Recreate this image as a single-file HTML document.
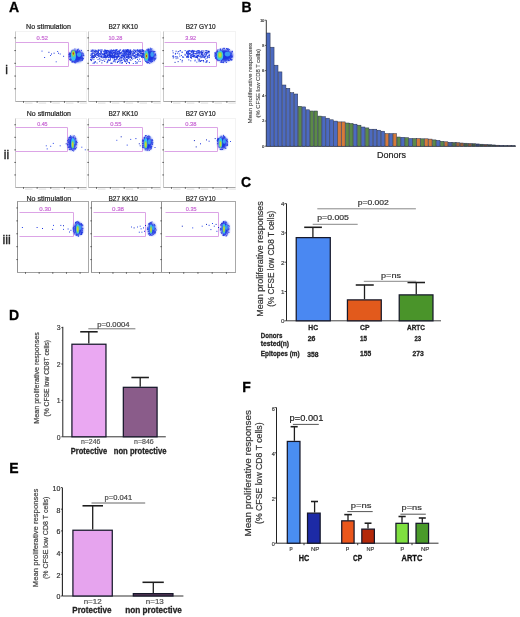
<!DOCTYPE html>
<html><head><meta charset="utf-8"><style>
html,body{margin:0;padding:0;background:#fff;}
svg{display:block;font-family:"Liberation Sans", sans-serif;will-change:transform;}
</style></head><body>
<svg width="520" height="617" viewBox="0 0 520 617">
<defs><filter id="b1" x="-50%" y="-50%" width="200%" height="200%"><feGaussianBlur stdDeviation="0.8"/></filter></defs>
<rect width="520" height="617" fill="#fff"/>
<text x="9.10" y="11.50" font-size="14" font-weight="bold" fill="#000" text-anchor="start" stroke="#000" stroke-width="0.28">A</text>
<text x="241.40" y="11.70" font-size="14" font-weight="bold" fill="#000" text-anchor="start" stroke="#000" stroke-width="0.28">B</text>
<text x="241.10" y="187.20" font-size="14" font-weight="bold" fill="#000" text-anchor="start" stroke="#000" stroke-width="0.28">C</text>
<text x="9.10" y="320.40" font-size="14" font-weight="bold" fill="#000" text-anchor="start" stroke="#000" stroke-width="0.28">D</text>
<text x="9.20" y="472.70" font-size="14" font-weight="bold" fill="#000" text-anchor="start" stroke="#000" stroke-width="0.28">E</text>
<text x="242.30" y="391.70" font-size="14" font-weight="bold" fill="#000" text-anchor="start" stroke="#000" stroke-width="0.28">F</text>
<rect x="15.50" y="31.50" width="71.00" height="70.00" fill="none" stroke="#f3f3f3" stroke-width="1"/>
<line x1="15.50" y1="31.50" x2="15.50" y2="101.50" stroke="#c8c8c8" stroke-width="1"/>
<line x1="15.50" y1="101.50" x2="86.50" y2="101.50" stroke="#a8a8a8" stroke-width="1"/>
<line x1="14.30" y1="88.77" x2="16.00" y2="88.77" stroke="#555" stroke-width="0.9"/>
<line x1="14.30" y1="76.05" x2="16.00" y2="76.05" stroke="#555" stroke-width="0.9"/>
<line x1="14.30" y1="63.32" x2="16.00" y2="63.32" stroke="#555" stroke-width="0.9"/>
<line x1="14.30" y1="50.59" x2="16.00" y2="50.59" stroke="#555" stroke-width="0.9"/>
<line x1="14.30" y1="37.86" x2="16.00" y2="37.86" stroke="#555" stroke-width="0.9"/>
<line x1="23.50" y1="101.00" x2="23.50" y2="102.80" stroke="#555" stroke-width="0.9"/>
<line x1="25.00" y1="103.10" x2="32.50" y2="103.10" stroke="#e2e2e2" stroke-width="1.2"/>
<line x1="37.15" y1="101.00" x2="37.15" y2="102.80" stroke="#555" stroke-width="0.9"/>
<line x1="38.65" y1="103.10" x2="46.15" y2="103.10" stroke="#e2e2e2" stroke-width="1.2"/>
<line x1="50.81" y1="101.00" x2="50.81" y2="102.80" stroke="#555" stroke-width="0.9"/>
<line x1="52.31" y1="103.10" x2="59.81" y2="103.10" stroke="#e2e2e2" stroke-width="1.2"/>
<line x1="64.46" y1="101.00" x2="64.46" y2="102.80" stroke="#555" stroke-width="0.9"/>
<line x1="65.96" y1="103.10" x2="73.46" y2="103.10" stroke="#e2e2e2" stroke-width="1.2"/>
<line x1="78.12" y1="101.00" x2="78.12" y2="102.80" stroke="#555" stroke-width="0.9"/>
<line x1="79.62" y1="103.10" x2="87.12" y2="103.10" stroke="#e2e2e2" stroke-width="1.2"/>
<polyline points="15.5,42.5 68.5,42.5 68.5,66.5 15.5,66.5" fill="none" stroke="#dca4e6" stroke-width="1"/>
<text x="26.00" y="28.80" font-size="7" fill="#222" text-anchor="start" textLength="45.00" lengthAdjust="spacingAndGlyphs" stroke="#222" stroke-width="0.2">No stimulation</text>
<text x="36.60" y="39.90" font-size="5.8" fill="#c868d4" text-anchor="start" textLength="11.30" lengthAdjust="spacingAndGlyphs" stroke="#c868d4" stroke-width="0.2">0.52</text>
<rect x="41.50" y="50.60" width="1" height="1" fill="#2a48ee"/>
<rect x="44.10" y="57.00" width="1" height="1" fill="#2240e6"/>
<rect x="48.40" y="51.80" width="1" height="1" fill="#1228c0"/>
<rect x="51.00" y="53.50" width="1" height="1" fill="#1a30e0"/>
<rect x="53.60" y="52.70" width="1" height="1" fill="#1a30e0"/>
<rect x="57.10" y="51.00" width="1" height="1" fill="#3a55e8"/>
<rect x="58.00" y="52.70" width="1" height="1" fill="#1a30e0"/>
<rect x="59.70" y="53.50" width="1" height="1" fill="#2a48ee"/>
<rect x="55.70" y="61.30" width="1" height="1" fill="#3a55e8"/>
<rect x="63.10" y="55.80" width="1" height="1" fill="#1a30e0"/>
<rect x="50.00" y="55.00" width="1" height="1" fill="#3a55e8"/>
<rect x="77.33" y="61.00" width="1" height="1" fill="#2a3ee0"/>
<rect x="70.44" y="58.43" width="1" height="1" fill="#2a3ee0"/>
<rect x="70.32" y="53.74" width="1" height="1" fill="#2a3ee0"/>
<rect x="68.87" y="52.60" width="1" height="1" fill="#2a3ee0"/>
<rect x="71.16" y="50.65" width="1" height="1" fill="#2a3ee0"/>
<rect x="82.57" y="58.01" width="1" height="1" fill="#2a3ee0"/>
<rect x="82.04" y="57.32" width="1" height="1" fill="#2a3ee0"/>
<rect x="70.24" y="53.50" width="1" height="1" fill="#2a3ee0"/>
<rect x="69.87" y="58.69" width="1" height="1" fill="#2a3ee0"/>
<rect x="69.64" y="52.66" width="1" height="1" fill="#2a3ee0"/>
<rect x="73.48" y="50.33" width="1" height="1" fill="#2a3ee0"/>
<rect x="70.34" y="52.97" width="1" height="1" fill="#2a3ee0"/>
<rect x="82.01" y="59.44" width="1" height="1" fill="#2a3ee0"/>
<rect x="69.41" y="52.87" width="1" height="1" fill="#2a3ee0"/>
<rect x="69.01" y="55.65" width="1" height="1" fill="#2a3ee0"/>
<rect x="77.17" y="49.19" width="1" height="1" fill="#2a3ee0"/>
<rect x="81.89" y="52.63" width="1" height="1" fill="#2a3ee0"/>
<rect x="76.06" y="61.34" width="1" height="1" fill="#2a3ee0"/>
<rect x="77.12" y="49.97" width="1" height="1" fill="#2a3ee0"/>
<rect x="73.85" y="61.64" width="1" height="1" fill="#2a3ee0"/>
<rect x="72.22" y="60.81" width="1" height="1" fill="#2a3ee0"/>
<rect x="71.34" y="51.95" width="1" height="1" fill="#2a3ee0"/>
<rect x="69.80" y="55.07" width="1" height="1" fill="#2a3ee0"/>
<rect x="71.76" y="61.56" width="1" height="1" fill="#2a3ee0"/>
<rect x="69.12" y="58.94" width="1" height="1" fill="#2a3ee0"/>
<rect x="82.23" y="58.58" width="1" height="1" fill="#2a3ee0"/>
<rect x="77.83" y="48.67" width="1" height="1" fill="#2a3ee0"/>
<rect x="72.45" y="60.72" width="1" height="1" fill="#2a3ee0"/>
<rect x="68.50" y="55.65" width="1" height="1" fill="#2a3ee0"/>
<rect x="81.50" y="57.87" width="1" height="1" fill="#2a3ee0"/>
<rect x="75.09" y="62.28" width="1" height="1" fill="#2a3ee0"/>
<rect x="82.78" y="58.24" width="1" height="1" fill="#2a3ee0"/>
<rect x="73.41" y="61.66" width="1" height="1" fill="#2a3ee0"/>
<rect x="73.14" y="49.72" width="1" height="1" fill="#2a3ee0"/>
<rect x="74.40" y="48.50" width="1" height="1" fill="#2a3ee0"/>
<rect x="71.55" y="61.45" width="1" height="1" fill="#2a3ee0"/>
<rect x="71.60" y="60.76" width="1" height="1" fill="#2a3ee0"/>
<rect x="69.66" y="55.73" width="1" height="1" fill="#2a3ee0"/>
<rect x="74.28" y="62.21" width="1" height="1" fill="#2a3ee0"/>
<rect x="69.81" y="59.82" width="1" height="1" fill="#2a3ee0"/>
<rect x="69.78" y="55.63" width="1" height="1" fill="#2a3ee0"/>
<rect x="70.73" y="59.00" width="1" height="1" fill="#2a3ee0"/>
<rect x="80.43" y="60.30" width="1" height="1" fill="#2a3ee0"/>
<rect x="69.03" y="53.38" width="1" height="1" fill="#2a3ee0"/>
<rect x="83.26" y="54.92" width="1" height="1" fill="#2a3ee0"/>
<rect x="71.35" y="59.56" width="1" height="1" fill="#2a3ee0"/>
<rect x="81.37" y="58.38" width="1" height="1" fill="#2a3ee0"/>
<rect x="72.81" y="50.90" width="1" height="1" fill="#2a3ee0"/>
<rect x="79.05" y="50.40" width="1" height="1" fill="#2a3ee0"/>
<rect x="74.77" y="61.15" width="1" height="1" fill="#2a3ee0"/>
<rect x="69.02" y="54.06" width="1" height="1" fill="#2a3ee0"/>
<rect x="73.44" y="60.70" width="1" height="1" fill="#2a3ee0"/>
<rect x="80.93" y="49.88" width="1" height="1" fill="#2a3ee0"/>
<rect x="71.84" y="49.79" width="1" height="1" fill="#2a3ee0"/>
<rect x="68.64" y="57.42" width="1" height="1" fill="#2a3ee0"/>
<rect x="82.96" y="53.47" width="1" height="1" fill="#2a3ee0"/>
<rect x="69.74" y="53.22" width="1" height="1" fill="#2a3ee0"/>
<rect x="70.58" y="59.47" width="1" height="1" fill="#2a3ee0"/>
<rect x="70.91" y="58.93" width="1" height="1" fill="#2a3ee0"/>
<rect x="82.78" y="54.89" width="1" height="1" fill="#2a3ee0"/>
<rect x="81.50" y="59.74" width="1" height="1" fill="#2a3ee0"/>
<rect x="81.65" y="59.46" width="1" height="1" fill="#2a3ee0"/>
<rect x="68.42" y="53.84" width="1" height="1" fill="#2a3ee0"/>
<ellipse cx="76.50" cy="56.00" rx="6.90" ry="6.30" fill="#1d36e2" filter="url(#b1)"/>
<ellipse cx="79.12" cy="54.60" rx="2.25" ry="2.45" fill="#3a9af2"/>
<ellipse cx="73.40" cy="56.00" rx="2.55" ry="4.76" fill="#3cc0f0"/>
<ellipse cx="73.40" cy="53.50" rx="1.80" ry="3.36" fill="#78d868"/>
<ellipse cx="73.40" cy="53.50" rx="1.05" ry="2.10" fill="#d8d030"/>
<ellipse cx="73.40" cy="53.50" rx="0.67" ry="1.19" fill="#c04818"/>
<rect x="88.50" y="31.50" width="72.00" height="70.00" fill="none" stroke="#f3f3f3" stroke-width="1"/>
<line x1="88.50" y1="31.50" x2="88.50" y2="101.50" stroke="#c8c8c8" stroke-width="1"/>
<line x1="88.50" y1="101.50" x2="160.50" y2="101.50" stroke="#a8a8a8" stroke-width="1"/>
<line x1="87.30" y1="88.77" x2="89.00" y2="88.77" stroke="#555" stroke-width="0.9"/>
<line x1="87.30" y1="76.05" x2="89.00" y2="76.05" stroke="#555" stroke-width="0.9"/>
<line x1="87.30" y1="63.32" x2="89.00" y2="63.32" stroke="#555" stroke-width="0.9"/>
<line x1="87.30" y1="50.59" x2="89.00" y2="50.59" stroke="#555" stroke-width="0.9"/>
<line x1="87.30" y1="37.86" x2="89.00" y2="37.86" stroke="#555" stroke-width="0.9"/>
<line x1="96.50" y1="101.00" x2="96.50" y2="102.80" stroke="#555" stroke-width="0.9"/>
<line x1="98.00" y1="103.10" x2="105.50" y2="103.10" stroke="#e2e2e2" stroke-width="1.2"/>
<line x1="110.35" y1="101.00" x2="110.35" y2="102.80" stroke="#555" stroke-width="0.9"/>
<line x1="111.85" y1="103.10" x2="119.35" y2="103.10" stroke="#e2e2e2" stroke-width="1.2"/>
<line x1="124.19" y1="101.00" x2="124.19" y2="102.80" stroke="#555" stroke-width="0.9"/>
<line x1="125.69" y1="103.10" x2="133.19" y2="103.10" stroke="#e2e2e2" stroke-width="1.2"/>
<line x1="138.04" y1="101.00" x2="138.04" y2="102.80" stroke="#555" stroke-width="0.9"/>
<line x1="139.54" y1="103.10" x2="147.04" y2="103.10" stroke="#e2e2e2" stroke-width="1.2"/>
<line x1="151.88" y1="101.00" x2="151.88" y2="102.80" stroke="#555" stroke-width="0.9"/>
<line x1="153.38" y1="103.10" x2="160.88" y2="103.10" stroke="#e2e2e2" stroke-width="1.2"/>
<polyline points="89.5,42.5 142.5,42.5 142.5,65.5 89.5,65.5" fill="none" stroke="#dca4e6" stroke-width="1"/>
<text x="108.50" y="29.00" font-size="7" fill="#222" text-anchor="start" textLength="29.50" lengthAdjust="spacingAndGlyphs" stroke="#222" stroke-width="0.2">B27 KK10</text>
<text x="108.50" y="40.40" font-size="5.8" fill="#c868d4" text-anchor="start" textLength="13.90" lengthAdjust="spacingAndGlyphs" stroke="#c868d4" stroke-width="0.2">10.28</text>
<rect x="122.71" y="50.96" width="1" height="1" fill="#2240e6"/>
<rect x="123.81" y="60.61" width="1" height="1" fill="#2240e6"/>
<rect x="96.15" y="57.12" width="1" height="1" fill="#3a55e8"/>
<rect x="106.62" y="55.30" width="1" height="1" fill="#1a30e0"/>
<rect x="129.66" y="53.43" width="1" height="1" fill="#2240e6"/>
<rect x="109.28" y="56.61" width="1" height="1" fill="#2a48ee"/>
<rect x="105.89" y="50.03" width="1" height="1" fill="#3a55e8"/>
<rect x="118.16" y="59.13" width="1" height="1" fill="#2240e6"/>
<rect x="116.79" y="54.21" width="1" height="1" fill="#2a48ee"/>
<rect x="130.42" y="51.22" width="1" height="1" fill="#1a30e0"/>
<rect x="132.82" y="53.24" width="1" height="1" fill="#3a55e8"/>
<rect x="119.94" y="53.08" width="1" height="1" fill="#2a48ee"/>
<rect x="108.35" y="55.09" width="1" height="1" fill="#1228c0"/>
<rect x="141.94" y="50.12" width="1" height="1" fill="#2a48ee"/>
<rect x="108.00" y="57.18" width="1" height="1" fill="#2240e6"/>
<rect x="90.10" y="59.06" width="1" height="1" fill="#2a48ee"/>
<rect x="134.49" y="52.41" width="1" height="1" fill="#2a48ee"/>
<rect x="100.62" y="59.60" width="1" height="1" fill="#1228c0"/>
<rect x="94.62" y="61.33" width="1" height="1" fill="#2240e6"/>
<rect x="129.62" y="50.57" width="1" height="1" fill="#3a55e8"/>
<rect x="91.47" y="53.02" width="1" height="1" fill="#2a48ee"/>
<rect x="122.60" y="53.09" width="1" height="1" fill="#1228c0"/>
<rect x="98.31" y="49.47" width="1" height="1" fill="#1228c0"/>
<rect x="130.62" y="55.30" width="1" height="1" fill="#1a30e0"/>
<rect x="117.03" y="57.17" width="1" height="1" fill="#2a48ee"/>
<rect x="130.70" y="53.65" width="1" height="1" fill="#2a48ee"/>
<rect x="93.25" y="56.48" width="1" height="1" fill="#1228c0"/>
<rect x="133.44" y="55.92" width="1" height="1" fill="#2a48ee"/>
<rect x="96.97" y="53.38" width="1" height="1" fill="#1228c0"/>
<rect x="106.96" y="55.51" width="1" height="1" fill="#1228c0"/>
<rect x="123.00" y="49.79" width="1" height="1" fill="#2a48ee"/>
<rect x="118.29" y="55.51" width="1" height="1" fill="#1a30e0"/>
<rect x="115.66" y="49.64" width="1" height="1" fill="#2240e6"/>
<rect x="91.49" y="57.38" width="1" height="1" fill="#3a55e8"/>
<rect x="117.23" y="50.90" width="1" height="1" fill="#1228c0"/>
<rect x="133.03" y="51.28" width="1" height="1" fill="#3a55e8"/>
<rect x="136.69" y="62.54" width="1" height="1" fill="#1228c0"/>
<rect x="100.80" y="52.63" width="1" height="1" fill="#2240e6"/>
<rect x="111.48" y="52.73" width="1" height="1" fill="#2a48ee"/>
<rect x="96.52" y="56.82" width="1" height="1" fill="#1a30e0"/>
<rect x="109.52" y="50.40" width="1" height="1" fill="#2240e6"/>
<rect x="121.70" y="56.38" width="1" height="1" fill="#2a48ee"/>
<rect x="101.92" y="57.25" width="1" height="1" fill="#3a55e8"/>
<rect x="112.45" y="50.04" width="1" height="1" fill="#1228c0"/>
<rect x="108.01" y="54.93" width="1" height="1" fill="#3a55e8"/>
<rect x="128.72" y="56.99" width="1" height="1" fill="#1228c0"/>
<rect x="128.37" y="57.50" width="1" height="1" fill="#1a30e0"/>
<rect x="99.68" y="55.86" width="1" height="1" fill="#2a48ee"/>
<rect x="126.03" y="59.44" width="1" height="1" fill="#1228c0"/>
<rect x="125.39" y="51.92" width="1" height="1" fill="#2a48ee"/>
<rect x="105.48" y="58.61" width="1" height="1" fill="#1228c0"/>
<rect x="106.41" y="51.08" width="1" height="1" fill="#3a55e8"/>
<rect x="90.62" y="59.51" width="1" height="1" fill="#2a48ee"/>
<rect x="123.14" y="54.98" width="1" height="1" fill="#1a30e0"/>
<rect x="141.66" y="50.75" width="1" height="1" fill="#2a48ee"/>
<rect x="123.51" y="50.95" width="1" height="1" fill="#1228c0"/>
<rect x="125.83" y="55.73" width="1" height="1" fill="#1a30e0"/>
<rect x="91.97" y="53.35" width="1" height="1" fill="#1a30e0"/>
<rect x="117.41" y="52.88" width="1" height="1" fill="#3a55e8"/>
<rect x="124.65" y="53.67" width="1" height="1" fill="#3a55e8"/>
<rect x="108.56" y="51.02" width="1" height="1" fill="#2a48ee"/>
<rect x="137.01" y="50.42" width="1" height="1" fill="#2a48ee"/>
<rect x="142.33" y="49.41" width="1" height="1" fill="#3a55e8"/>
<rect x="136.90" y="49.74" width="1" height="1" fill="#2a48ee"/>
<rect x="110.30" y="57.07" width="1" height="1" fill="#2a48ee"/>
<rect x="103.10" y="50.78" width="1" height="1" fill="#2240e6"/>
<rect x="109.41" y="57.18" width="1" height="1" fill="#1a30e0"/>
<rect x="112.39" y="58.31" width="1" height="1" fill="#3a55e8"/>
<rect x="124.73" y="54.55" width="1" height="1" fill="#1a30e0"/>
<rect x="94.84" y="50.45" width="1" height="1" fill="#3a55e8"/>
<rect x="129.81" y="54.34" width="1" height="1" fill="#1228c0"/>
<rect x="135.48" y="56.44" width="1" height="1" fill="#1a30e0"/>
<rect x="121.80" y="55.07" width="1" height="1" fill="#2a48ee"/>
<rect x="105.15" y="50.46" width="1" height="1" fill="#2240e6"/>
<rect x="128.11" y="52.73" width="1" height="1" fill="#2240e6"/>
<rect x="116.95" y="61.52" width="1" height="1" fill="#1a30e0"/>
<rect x="133.33" y="54.79" width="1" height="1" fill="#1228c0"/>
<rect x="104.17" y="60.86" width="1" height="1" fill="#1228c0"/>
<rect x="123.96" y="59.26" width="1" height="1" fill="#2a48ee"/>
<rect x="110.39" y="53.55" width="1" height="1" fill="#1228c0"/>
<rect x="114.36" y="56.76" width="1" height="1" fill="#1228c0"/>
<rect x="94.90" y="55.27" width="1" height="1" fill="#1228c0"/>
<rect x="133.13" y="51.18" width="1" height="1" fill="#2a48ee"/>
<rect x="102.30" y="52.98" width="1" height="1" fill="#2a48ee"/>
<rect x="120.72" y="58.72" width="1" height="1" fill="#2240e6"/>
<rect x="100.57" y="51.95" width="1" height="1" fill="#2240e6"/>
<rect x="126.93" y="50.37" width="1" height="1" fill="#3a55e8"/>
<rect x="116.71" y="57.60" width="1" height="1" fill="#3a55e8"/>
<rect x="127.78" y="53.03" width="1" height="1" fill="#1228c0"/>
<rect x="116.24" y="51.79" width="1" height="1" fill="#2a48ee"/>
<rect x="105.44" y="53.35" width="1" height="1" fill="#2240e6"/>
<rect x="142.98" y="56.63" width="1" height="1" fill="#2240e6"/>
<rect x="113.07" y="55.28" width="1" height="1" fill="#2a48ee"/>
<rect x="113.23" y="51.54" width="1" height="1" fill="#1a30e0"/>
<rect x="129.60" y="59.36" width="1" height="1" fill="#1228c0"/>
<rect x="126.33" y="55.12" width="1" height="1" fill="#1a30e0"/>
<rect x="110.05" y="51.95" width="1" height="1" fill="#3a55e8"/>
<rect x="103.33" y="56.82" width="1" height="1" fill="#1a30e0"/>
<rect x="129.44" y="49.82" width="1" height="1" fill="#3a55e8"/>
<rect x="136.37" y="56.70" width="1" height="1" fill="#2240e6"/>
<rect x="135.53" y="49.71" width="1" height="1" fill="#3a55e8"/>
<rect x="123.84" y="57.07" width="1" height="1" fill="#1228c0"/>
<rect x="106.82" y="55.58" width="1" height="1" fill="#1228c0"/>
<rect x="91.55" y="52.50" width="1" height="1" fill="#2240e6"/>
<rect x="119.54" y="49.94" width="1" height="1" fill="#3a55e8"/>
<rect x="111.90" y="50.41" width="1" height="1" fill="#2a48ee"/>
<rect x="114.62" y="60.30" width="1" height="1" fill="#2240e6"/>
<rect x="105.02" y="55.21" width="1" height="1" fill="#2240e6"/>
<rect x="111.65" y="53.17" width="1" height="1" fill="#2240e6"/>
<rect x="96.38" y="49.90" width="1" height="1" fill="#2240e6"/>
<rect x="133.27" y="52.92" width="1" height="1" fill="#3a55e8"/>
<rect x="107.89" y="53.68" width="1" height="1" fill="#1a30e0"/>
<rect x="119.63" y="52.25" width="1" height="1" fill="#2a48ee"/>
<rect x="100.77" y="56.26" width="1" height="1" fill="#1a30e0"/>
<rect x="129.75" y="51.46" width="1" height="1" fill="#1228c0"/>
<rect x="116.55" y="52.18" width="1" height="1" fill="#2a48ee"/>
<rect x="128.11" y="56.09" width="1" height="1" fill="#2240e6"/>
<rect x="110.50" y="52.75" width="1" height="1" fill="#1228c0"/>
<rect x="133.40" y="57.76" width="1" height="1" fill="#3a55e8"/>
<rect x="130.70" y="57.05" width="1" height="1" fill="#2a48ee"/>
<rect x="93.90" y="62.57" width="1" height="1" fill="#1a30e0"/>
<rect x="107.26" y="55.56" width="1" height="1" fill="#3a55e8"/>
<rect x="141.80" y="55.90" width="1" height="1" fill="#3a55e8"/>
<rect x="135.12" y="57.51" width="1" height="1" fill="#3a55e8"/>
<rect x="123.02" y="53.86" width="1" height="1" fill="#2a48ee"/>
<rect x="141.30" y="53.53" width="1" height="1" fill="#3a55e8"/>
<rect x="130.71" y="51.70" width="1" height="1" fill="#2240e6"/>
<rect x="118.05" y="55.62" width="1" height="1" fill="#2240e6"/>
<rect x="143.11" y="51.83" width="1" height="1" fill="#2a48ee"/>
<rect x="114.53" y="53.68" width="1" height="1" fill="#1a30e0"/>
<rect x="124.63" y="50.85" width="1" height="1" fill="#2a48ee"/>
<rect x="124.49" y="51.12" width="1" height="1" fill="#3a55e8"/>
<rect x="109.73" y="54.87" width="1" height="1" fill="#1a30e0"/>
<rect x="126.66" y="49.35" width="1" height="1" fill="#2a48ee"/>
<rect x="93.59" y="50.90" width="1" height="1" fill="#1a30e0"/>
<rect x="100.34" y="51.42" width="1" height="1" fill="#3a55e8"/>
<rect x="95.81" y="54.18" width="1" height="1" fill="#1a30e0"/>
<rect x="115.85" y="57.34" width="1" height="1" fill="#1a30e0"/>
<rect x="139.14" y="49.49" width="1" height="1" fill="#2a48ee"/>
<rect x="112.14" y="50.77" width="1" height="1" fill="#2240e6"/>
<rect x="107.64" y="50.21" width="1" height="1" fill="#1a30e0"/>
<rect x="100.16" y="53.50" width="1" height="1" fill="#1228c0"/>
<rect x="106.62" y="56.01" width="1" height="1" fill="#2240e6"/>
<rect x="114.77" y="49.93" width="1" height="1" fill="#1228c0"/>
<rect x="137.18" y="55.37" width="1" height="1" fill="#2a48ee"/>
<rect x="122.75" y="55.73" width="1" height="1" fill="#3a55e8"/>
<rect x="100.43" y="52.87" width="1" height="1" fill="#1a30e0"/>
<rect x="120.51" y="54.35" width="1" height="1" fill="#1228c0"/>
<rect x="111.57" y="53.01" width="1" height="1" fill="#3a55e8"/>
<rect x="93.30" y="49.80" width="1" height="1" fill="#3a55e8"/>
<rect x="123.90" y="56.93" width="1" height="1" fill="#3a55e8"/>
<rect x="126.75" y="58.78" width="1" height="1" fill="#1a30e0"/>
<rect x="126.13" y="56.87" width="1" height="1" fill="#1a30e0"/>
<rect x="95.72" y="53.03" width="1" height="1" fill="#3a55e8"/>
<rect x="116.90" y="61.89" width="1" height="1" fill="#1228c0"/>
<rect x="90.46" y="58.82" width="1" height="1" fill="#1a30e0"/>
<rect x="98.07" y="56.19" width="1" height="1" fill="#1228c0"/>
<rect x="131.78" y="53.40" width="1" height="1" fill="#2240e6"/>
<rect x="98.52" y="54.50" width="1" height="1" fill="#2a48ee"/>
<rect x="105.02" y="52.71" width="1" height="1" fill="#2a48ee"/>
<rect x="123.29" y="52.67" width="1" height="1" fill="#2a48ee"/>
<rect x="141.81" y="50.36" width="1" height="1" fill="#3a55e8"/>
<rect x="137.50" y="53.61" width="1" height="1" fill="#3a55e8"/>
<rect x="110.49" y="51.65" width="1" height="1" fill="#2240e6"/>
<rect x="109.59" y="52.82" width="1" height="1" fill="#2240e6"/>
<rect x="110.05" y="58.13" width="1" height="1" fill="#3a55e8"/>
<rect x="115.99" y="54.50" width="1" height="1" fill="#2240e6"/>
<rect x="115.55" y="56.36" width="1" height="1" fill="#2a48ee"/>
<rect x="119.81" y="58.40" width="1" height="1" fill="#3a55e8"/>
<rect x="134.13" y="49.90" width="1" height="1" fill="#3a55e8"/>
<rect x="99.47" y="55.50" width="1" height="1" fill="#1a30e0"/>
<rect x="90.34" y="54.98" width="1" height="1" fill="#2240e6"/>
<rect x="92.00" y="49.65" width="1" height="1" fill="#2240e6"/>
<rect x="92.04" y="56.61" width="1" height="1" fill="#1a30e0"/>
<rect x="133.64" y="52.27" width="1" height="1" fill="#3a55e8"/>
<rect x="94.15" y="53.27" width="1" height="1" fill="#2a48ee"/>
<rect x="117.95" y="54.61" width="1" height="1" fill="#1228c0"/>
<rect x="124.81" y="51.47" width="1" height="1" fill="#2a48ee"/>
<rect x="125.59" y="49.71" width="1" height="1" fill="#1a30e0"/>
<rect x="137.10" y="49.45" width="1" height="1" fill="#2a48ee"/>
<rect x="132.76" y="52.43" width="1" height="1" fill="#1a30e0"/>
<rect x="105.53" y="50.55" width="1" height="1" fill="#3a55e8"/>
<rect x="104.45" y="55.48" width="1" height="1" fill="#1a30e0"/>
<rect x="97.60" y="52.47" width="1" height="1" fill="#1228c0"/>
<rect x="139.42" y="50.67" width="1" height="1" fill="#1228c0"/>
<rect x="98.62" y="49.84" width="1" height="1" fill="#3a55e8"/>
<rect x="130.16" y="55.74" width="1" height="1" fill="#3a55e8"/>
<rect x="134.63" y="56.60" width="1" height="1" fill="#1228c0"/>
<rect x="122.39" y="49.99" width="1" height="1" fill="#2240e6"/>
<rect x="126.68" y="60.84" width="1" height="1" fill="#1a30e0"/>
<rect x="123.10" y="50.87" width="1" height="1" fill="#2a48ee"/>
<rect x="113.06" y="56.81" width="1" height="1" fill="#3a55e8"/>
<rect x="127.75" y="61.89" width="1" height="1" fill="#2a48ee"/>
<rect x="134.90" y="54.64" width="1" height="1" fill="#2a48ee"/>
<rect x="110.78" y="56.09" width="1" height="1" fill="#1a30e0"/>
<rect x="124.59" y="51.29" width="1" height="1" fill="#1228c0"/>
<rect x="130.61" y="50.73" width="1" height="1" fill="#3a55e8"/>
<rect x="114.80" y="54.25" width="1" height="1" fill="#2240e6"/>
<rect x="113.04" y="52.50" width="1" height="1" fill="#1228c0"/>
<rect x="109.47" y="53.33" width="1" height="1" fill="#1228c0"/>
<rect x="92.17" y="56.68" width="1" height="1" fill="#3a55e8"/>
<rect x="128.40" y="55.32" width="1" height="1" fill="#1228c0"/>
<rect x="120.20" y="49.51" width="1" height="1" fill="#2240e6"/>
<rect x="126.91" y="50.35" width="1" height="1" fill="#2a48ee"/>
<rect x="105.34" y="55.66" width="1" height="1" fill="#3a55e8"/>
<rect x="128.43" y="55.96" width="1" height="1" fill="#2240e6"/>
<rect x="103.44" y="54.21" width="1" height="1" fill="#1a30e0"/>
<rect x="114.33" y="57.01" width="1" height="1" fill="#1228c0"/>
<rect x="121.55" y="51.20" width="1" height="1" fill="#2240e6"/>
<rect x="112.18" y="54.39" width="1" height="1" fill="#2a48ee"/>
<rect x="110.09" y="51.41" width="1" height="1" fill="#2240e6"/>
<rect x="92.59" y="62.80" width="1" height="1" fill="#1a30e0"/>
<rect x="118.00" y="56.47" width="1" height="1" fill="#3a55e8"/>
<rect x="135.66" y="52.27" width="1" height="1" fill="#1a30e0"/>
<rect x="109.44" y="51.95" width="1" height="1" fill="#1228c0"/>
<rect x="122.80" y="58.78" width="1" height="1" fill="#2240e6"/>
<rect x="106.53" y="62.22" width="1" height="1" fill="#2240e6"/>
<rect x="111.15" y="55.28" width="1" height="1" fill="#2a48ee"/>
<rect x="116.68" y="52.21" width="1" height="1" fill="#2240e6"/>
<rect x="122.65" y="49.74" width="1" height="1" fill="#3a55e8"/>
<rect x="106.19" y="53.57" width="1" height="1" fill="#2a48ee"/>
<rect x="106.05" y="52.23" width="1" height="1" fill="#1a30e0"/>
<rect x="98.45" y="55.71" width="1" height="1" fill="#3a55e8"/>
<rect x="114.03" y="50.46" width="1" height="1" fill="#1a30e0"/>
<rect x="125.98" y="57.04" width="1" height="1" fill="#1a30e0"/>
<rect x="137.58" y="53.93" width="1" height="1" fill="#2a48ee"/>
<rect x="104.72" y="50.62" width="1" height="1" fill="#2240e6"/>
<rect x="91.34" y="50.57" width="1" height="1" fill="#1228c0"/>
<rect x="114.57" y="54.55" width="1" height="1" fill="#1a30e0"/>
<rect x="117.62" y="54.48" width="1" height="1" fill="#3a55e8"/>
<rect x="122.68" y="49.81" width="1" height="1" fill="#2a48ee"/>
<rect x="142.98" y="53.12" width="1" height="1" fill="#3a55e8"/>
<rect x="121.35" y="56.60" width="1" height="1" fill="#2a48ee"/>
<rect x="99.35" y="58.57" width="1" height="1" fill="#2240e6"/>
<rect x="96.57" y="62.55" width="1" height="1" fill="#3a55e8"/>
<rect x="104.03" y="54.39" width="1" height="1" fill="#2a48ee"/>
<rect x="129.00" y="62.83" width="1" height="1" fill="#2a48ee"/>
<rect x="128.33" y="53.36" width="1" height="1" fill="#2a48ee"/>
<rect x="134.86" y="50.57" width="1" height="1" fill="#1a30e0"/>
<rect x="100.23" y="54.11" width="1" height="1" fill="#1a30e0"/>
<rect x="135.41" y="62.89" width="1" height="1" fill="#2240e6"/>
<rect x="103.74" y="53.54" width="1" height="1" fill="#2a48ee"/>
<rect x="140.94" y="56.38" width="1" height="1" fill="#1228c0"/>
<rect x="103.92" y="53.82" width="1" height="1" fill="#1a30e0"/>
<rect x="95.96" y="50.59" width="1" height="1" fill="#1228c0"/>
<rect x="127.35" y="50.41" width="1" height="1" fill="#1a30e0"/>
<rect x="92.27" y="49.67" width="1" height="1" fill="#2a48ee"/>
<rect x="130.60" y="56.94" width="1" height="1" fill="#1a30e0"/>
<rect x="125.40" y="61.53" width="1" height="1" fill="#2240e6"/>
<rect x="129.58" y="50.93" width="1" height="1" fill="#2a48ee"/>
<rect x="138.56" y="50.00" width="1" height="1" fill="#1228c0"/>
<rect x="123.70" y="50.36" width="1" height="1" fill="#1228c0"/>
<rect x="112.83" y="51.99" width="1" height="1" fill="#1a30e0"/>
<rect x="139.57" y="55.38" width="1" height="1" fill="#2a48ee"/>
<rect x="123.88" y="53.11" width="1" height="1" fill="#2a48ee"/>
<rect x="116.13" y="53.45" width="1" height="1" fill="#1228c0"/>
<rect x="92.56" y="55.02" width="1" height="1" fill="#2240e6"/>
<rect x="120.62" y="52.79" width="1" height="1" fill="#1a30e0"/>
<rect x="105.37" y="49.73" width="1" height="1" fill="#3a55e8"/>
<rect x="95.10" y="55.90" width="1" height="1" fill="#3a55e8"/>
<rect x="121.58" y="60.09" width="1" height="1" fill="#2a48ee"/>
<rect x="107.64" y="56.81" width="1" height="1" fill="#3a55e8"/>
<rect x="140.03" y="53.22" width="1" height="1" fill="#1228c0"/>
<rect x="129.00" y="51.91" width="1" height="1" fill="#2240e6"/>
<rect x="137.54" y="52.68" width="1" height="1" fill="#2a48ee"/>
<rect x="109.82" y="52.72" width="1" height="1" fill="#2a48ee"/>
<rect x="99.12" y="60.78" width="1" height="1" fill="#1a30e0"/>
<rect x="96.76" y="54.81" width="1" height="1" fill="#2240e6"/>
<rect x="91.81" y="53.47" width="1" height="1" fill="#2a48ee"/>
<rect x="114.00" y="51.89" width="1" height="1" fill="#3a55e8"/>
<rect x="126.73" y="51.15" width="1" height="1" fill="#1228c0"/>
<rect x="124.13" y="53.36" width="1" height="1" fill="#1228c0"/>
<rect x="134.05" y="55.09" width="1" height="1" fill="#2240e6"/>
<rect x="129.76" y="52.09" width="1" height="1" fill="#1228c0"/>
<rect x="121.42" y="62.97" width="1" height="1" fill="#2240e6"/>
<rect x="100.42" y="50.49" width="1" height="1" fill="#2240e6"/>
<rect x="105.85" y="50.17" width="1" height="1" fill="#1a30e0"/>
<rect x="126.92" y="59.78" width="1" height="1" fill="#1a30e0"/>
<rect x="103.62" y="57.15" width="1" height="1" fill="#2240e6"/>
<rect x="126.88" y="49.34" width="1" height="1" fill="#3a55e8"/>
<rect x="127.37" y="54.48" width="1" height="1" fill="#3a55e8"/>
<rect x="125.60" y="56.32" width="1" height="1" fill="#1228c0"/>
<rect x="115.11" y="50.75" width="1" height="1" fill="#1a30e0"/>
<rect x="114.20" y="56.46" width="1" height="1" fill="#1a30e0"/>
<rect x="127.98" y="56.10" width="1" height="1" fill="#1a30e0"/>
<rect x="91.05" y="60.11" width="1" height="1" fill="#1228c0"/>
<rect x="126.29" y="58.97" width="1" height="1" fill="#1a30e0"/>
<rect x="123.05" y="51.31" width="1" height="1" fill="#2240e6"/>
<rect x="140.71" y="52.09" width="1" height="1" fill="#3a55e8"/>
<rect x="125.19" y="53.11" width="1" height="1" fill="#3a55e8"/>
<rect x="109.72" y="55.24" width="1" height="1" fill="#1a30e0"/>
<rect x="142.78" y="53.41" width="1" height="1" fill="#2a48ee"/>
<rect x="113.69" y="54.40" width="1" height="1" fill="#2a48ee"/>
<rect x="93.28" y="56.62" width="1" height="1" fill="#3a55e8"/>
<rect x="125.97" y="50.17" width="1" height="1" fill="#3a55e8"/>
<rect x="111.35" y="62.83" width="1" height="1" fill="#1228c0"/>
<rect x="141.21" y="50.62" width="1" height="1" fill="#1228c0"/>
<rect x="93.67" y="50.85" width="1" height="1" fill="#2240e6"/>
<rect x="128.41" y="50.47" width="1" height="1" fill="#1a30e0"/>
<rect x="134.28" y="52.61" width="1" height="1" fill="#2240e6"/>
<rect x="130.50" y="55.54" width="1" height="1" fill="#2240e6"/>
<rect x="131.77" y="54.93" width="1" height="1" fill="#2a48ee"/>
<rect x="142.39" y="53.15" width="1" height="1" fill="#1228c0"/>
<rect x="132.58" y="54.54" width="1" height="1" fill="#1a30e0"/>
<rect x="115.85" y="49.98" width="1" height="1" fill="#1a30e0"/>
<rect x="118.81" y="52.38" width="1" height="1" fill="#3a55e8"/>
<rect x="107.31" y="60.18" width="1" height="1" fill="#2240e6"/>
<rect x="111.20" y="50.98" width="1" height="1" fill="#2240e6"/>
<rect x="115.65" y="56.13" width="1" height="1" fill="#1228c0"/>
<rect x="131.83" y="52.52" width="1" height="1" fill="#1228c0"/>
<rect x="128.25" y="57.12" width="1" height="1" fill="#3a55e8"/>
<rect x="119.24" y="51.68" width="1" height="1" fill="#3a55e8"/>
<rect x="101.36" y="56.01" width="1" height="1" fill="#1228c0"/>
<rect x="96.24" y="52.65" width="1" height="1" fill="#1a30e0"/>
<rect x="115.22" y="53.17" width="1" height="1" fill="#3a55e8"/>
<rect x="127.33" y="50.62" width="1" height="1" fill="#1a30e0"/>
<rect x="129.15" y="51.87" width="1" height="1" fill="#1228c0"/>
<rect x="116.52" y="53.03" width="1" height="1" fill="#2240e6"/>
<rect x="143.30" y="50.74" width="1" height="1" fill="#1228c0"/>
<rect x="124.46" y="49.67" width="1" height="1" fill="#2240e6"/>
<rect x="143.25" y="50.05" width="1" height="1" fill="#1228c0"/>
<rect x="130.36" y="51.01" width="1" height="1" fill="#1228c0"/>
<rect x="96.76" y="54.57" width="1" height="1" fill="#3a55e8"/>
<rect x="112.57" y="56.60" width="1" height="1" fill="#2240e6"/>
<rect x="103.41" y="51.61" width="1" height="1" fill="#1a30e0"/>
<rect x="116.32" y="57.17" width="1" height="1" fill="#1228c0"/>
<rect x="108.38" y="53.24" width="1" height="1" fill="#3a55e8"/>
<rect x="130.90" y="57.08" width="1" height="1" fill="#1228c0"/>
<rect x="111.26" y="52.55" width="1" height="1" fill="#1a30e0"/>
<rect x="111.24" y="49.67" width="1" height="1" fill="#2240e6"/>
<rect x="115.32" y="49.78" width="1" height="1" fill="#2240e6"/>
<rect x="118.98" y="50.48" width="1" height="1" fill="#1a30e0"/>
<rect x="120.74" y="57.50" width="1" height="1" fill="#1228c0"/>
<rect x="123.33" y="54.61" width="1" height="1" fill="#3a55e8"/>
<rect x="127.41" y="56.74" width="1" height="1" fill="#2240e6"/>
<rect x="97.39" y="54.98" width="1" height="1" fill="#1a30e0"/>
<rect x="99.85" y="49.46" width="1" height="1" fill="#2240e6"/>
<rect x="120.82" y="59.99" width="1" height="1" fill="#1a30e0"/>
<rect x="133.96" y="52.67" width="1" height="1" fill="#2240e6"/>
<rect x="111.57" y="54.74" width="1" height="1" fill="#1a30e0"/>
<rect x="142.93" y="50.54" width="1" height="1" fill="#1a30e0"/>
<rect x="119.25" y="53.08" width="1" height="1" fill="#1228c0"/>
<rect x="123.41" y="49.37" width="1" height="1" fill="#1a30e0"/>
<rect x="116.23" y="58.31" width="1" height="1" fill="#1228c0"/>
<rect x="104.68" y="52.91" width="1" height="1" fill="#2240e6"/>
<rect x="139.19" y="55.28" width="1" height="1" fill="#2240e6"/>
<rect x="97.72" y="51.65" width="1" height="1" fill="#1a30e0"/>
<rect x="116.55" y="56.42" width="1" height="1" fill="#3a55e8"/>
<rect x="92.81" y="49.78" width="1" height="1" fill="#3a55e8"/>
<rect x="126.60" y="52.41" width="1" height="1" fill="#1228c0"/>
<rect x="121.99" y="62.01" width="1" height="1" fill="#2a48ee"/>
<rect x="106.86" y="61.37" width="1" height="1" fill="#1a30e0"/>
<rect x="98.87" y="57.70" width="1" height="1" fill="#2240e6"/>
<rect x="98.74" y="53.12" width="1" height="1" fill="#1228c0"/>
<rect x="114.13" y="55.34" width="1" height="1" fill="#1a30e0"/>
<rect x="104.92" y="54.51" width="1" height="1" fill="#1228c0"/>
<rect x="107.23" y="61.35" width="1" height="1" fill="#1a30e0"/>
<rect x="113.85" y="57.11" width="1" height="1" fill="#1a30e0"/>
<rect x="110.05" y="51.17" width="1" height="1" fill="#2240e6"/>
<rect x="128.78" y="51.44" width="1" height="1" fill="#2240e6"/>
<rect x="127.94" y="51.61" width="1" height="1" fill="#3a55e8"/>
<rect x="142.92" y="57.10" width="1" height="1" fill="#2240e6"/>
<rect x="119.20" y="53.30" width="1" height="1" fill="#3a55e8"/>
<rect x="118.78" y="52.35" width="1" height="1" fill="#3a55e8"/>
<rect x="114.07" y="58.86" width="1" height="1" fill="#2a48ee"/>
<rect x="113.78" y="60.52" width="1" height="1" fill="#1a30e0"/>
<rect x="114.15" y="52.14" width="1" height="1" fill="#3a55e8"/>
<rect x="117.77" y="55.97" width="1" height="1" fill="#1228c0"/>
<rect x="125.56" y="51.00" width="1" height="1" fill="#1a30e0"/>
<rect x="105.45" y="52.17" width="1" height="1" fill="#1a30e0"/>
<rect x="135.68" y="56.68" width="1" height="1" fill="#1a30e0"/>
<rect x="111.84" y="53.01" width="1" height="1" fill="#3a55e8"/>
<rect x="108.73" y="54.16" width="1" height="1" fill="#1a30e0"/>
<rect x="128.91" y="53.99" width="1" height="1" fill="#3a55e8"/>
<rect x="104.91" y="52.87" width="1" height="1" fill="#3a55e8"/>
<rect x="122.44" y="56.05" width="1" height="1" fill="#3a55e8"/>
<rect x="113.35" y="49.52" width="1" height="1" fill="#3a55e8"/>
<rect x="127.61" y="56.06" width="1" height="1" fill="#3a55e8"/>
<rect x="136.00" y="56.68" width="1" height="1" fill="#3a55e8"/>
<rect x="128.78" y="51.17" width="1" height="1" fill="#1a30e0"/>
<rect x="117.00" y="56.10" width="1" height="1" fill="#1a30e0"/>
<rect x="102.53" y="50.68" width="1" height="1" fill="#3a55e8"/>
<rect x="128.74" y="53.72" width="1" height="1" fill="#3a55e8"/>
<rect x="103.75" y="55.22" width="1" height="1" fill="#2a48ee"/>
<rect x="108.57" y="51.84" width="1" height="1" fill="#1228c0"/>
<rect x="129.88" y="52.83" width="1" height="1" fill="#1228c0"/>
<rect x="115.09" y="52.42" width="1" height="1" fill="#1a30e0"/>
<rect x="110.24" y="55.76" width="1" height="1" fill="#3a55e8"/>
<rect x="137.55" y="56.60" width="1" height="1" fill="#2240e6"/>
<rect x="98.37" y="49.92" width="1" height="1" fill="#1a30e0"/>
<rect x="109.89" y="55.53" width="1" height="1" fill="#2240e6"/>
<rect x="130.22" y="49.47" width="1" height="1" fill="#3a55e8"/>
<rect x="107.19" y="50.22" width="1" height="1" fill="#1228c0"/>
<rect x="107.69" y="50.74" width="1" height="1" fill="#2240e6"/>
<rect x="137.40" y="50.50" width="1" height="1" fill="#1a30e0"/>
<rect x="125.52" y="53.87" width="1" height="1" fill="#2240e6"/>
<rect x="103.89" y="52.95" width="1" height="1" fill="#1228c0"/>
<rect x="98.17" y="54.35" width="1" height="1" fill="#1a30e0"/>
<rect x="124.14" y="55.98" width="1" height="1" fill="#3a55e8"/>
<rect x="109.67" y="51.39" width="1" height="1" fill="#1a30e0"/>
<rect x="110.79" y="50.60" width="1" height="1" fill="#3a55e8"/>
<rect x="142.16" y="54.42" width="1" height="1" fill="#3a55e8"/>
<rect x="117.07" y="52.84" width="1" height="1" fill="#2a48ee"/>
<rect x="114.45" y="52.18" width="1" height="1" fill="#1a30e0"/>
<rect x="104.76" y="56.05" width="1" height="1" fill="#1a30e0"/>
<rect x="102.28" y="54.11" width="1" height="1" fill="#2240e6"/>
<rect x="106.84" y="55.39" width="1" height="1" fill="#1a30e0"/>
<rect x="125.71" y="50.84" width="1" height="1" fill="#1a30e0"/>
<rect x="90.53" y="53.46" width="1" height="1" fill="#2a48ee"/>
<rect x="120.90" y="52.08" width="1" height="1" fill="#2a48ee"/>
<rect x="140.40" y="52.58" width="1" height="1" fill="#2a48ee"/>
<rect x="97.10" y="51.29" width="1" height="1" fill="#2a48ee"/>
<rect x="142.54" y="54.92" width="1" height="1" fill="#2a48ee"/>
<rect x="135.74" y="56.76" width="1" height="1" fill="#2240e6"/>
<rect x="93.80" y="51.26" width="1" height="1" fill="#1228c0"/>
<rect x="138.64" y="56.24" width="1" height="1" fill="#3a55e8"/>
<rect x="137.87" y="50.16" width="1" height="1" fill="#3a55e8"/>
<rect x="109.82" y="55.74" width="1" height="1" fill="#2a48ee"/>
<rect x="94.72" y="50.64" width="1" height="1" fill="#2240e6"/>
<rect x="119.60" y="57.12" width="1" height="1" fill="#1a30e0"/>
<rect x="129.38" y="56.00" width="1" height="1" fill="#1a30e0"/>
<rect x="114.73" y="52.85" width="1" height="1" fill="#1a30e0"/>
<rect x="95.01" y="51.48" width="1" height="1" fill="#1a30e0"/>
<rect x="127.76" y="50.18" width="1" height="1" fill="#1a30e0"/>
<rect x="118.87" y="51.12" width="1" height="1" fill="#3a55e8"/>
<rect x="120.78" y="56.89" width="1" height="1" fill="#2240e6"/>
<rect x="130.17" y="54.12" width="1" height="1" fill="#3a55e8"/>
<rect x="92.77" y="52.51" width="1" height="1" fill="#1228c0"/>
<rect x="128.14" y="53.82" width="1" height="1" fill="#1228c0"/>
<rect x="107.09" y="53.79" width="1" height="1" fill="#1228c0"/>
<rect x="97.82" y="52.13" width="1" height="1" fill="#3a55e8"/>
<rect x="112.08" y="50.17" width="1" height="1" fill="#3a55e8"/>
<rect x="100.70" y="51.10" width="1" height="1" fill="#2240e6"/>
<rect x="130.45" y="59.72" width="1" height="1" fill="#1a30e0"/>
<rect x="141.88" y="56.22" width="1" height="1" fill="#1a30e0"/>
<rect x="138.93" y="54.33" width="1" height="1" fill="#1a30e0"/>
<rect x="109.63" y="50.27" width="1" height="1" fill="#1a30e0"/>
<rect x="104.69" y="52.08" width="1" height="1" fill="#2240e6"/>
<rect x="119.53" y="62.41" width="1" height="1" fill="#1228c0"/>
<rect x="139.67" y="53.39" width="1" height="1" fill="#1a30e0"/>
<rect x="138.80" y="51.49" width="1" height="1" fill="#2240e6"/>
<rect x="129.46" y="52.93" width="1" height="1" fill="#3a55e8"/>
<rect x="101.81" y="53.69" width="1" height="1" fill="#2a48ee"/>
<rect x="137.53" y="53.12" width="1" height="1" fill="#1228c0"/>
<rect x="91.65" y="50.81" width="1" height="1" fill="#2a48ee"/>
<rect x="129.66" y="56.69" width="1" height="1" fill="#2240e6"/>
<rect x="107.27" y="51.46" width="1" height="1" fill="#2a48ee"/>
<rect x="101.52" y="49.47" width="1" height="1" fill="#2a48ee"/>
<rect x="122.30" y="54.56" width="1" height="1" fill="#2a48ee"/>
<rect x="134.47" y="55.40" width="1" height="1" fill="#1a30e0"/>
<rect x="142.73" y="56.77" width="1" height="1" fill="#2a48ee"/>
<rect x="125.62" y="50.92" width="1" height="1" fill="#1228c0"/>
<rect x="104.75" y="50.06" width="1" height="1" fill="#1a30e0"/>
<rect x="139.14" y="58.61" width="1" height="1" fill="#2240e6"/>
<rect x="114.49" y="52.60" width="1" height="1" fill="#1228c0"/>
<rect x="119.31" y="52.48" width="1" height="1" fill="#2240e6"/>
<rect x="97.98" y="51.53" width="1" height="1" fill="#1228c0"/>
<rect x="112.87" y="61.16" width="1" height="1" fill="#3a55e8"/>
<rect x="108.81" y="54.06" width="1" height="1" fill="#2a48ee"/>
<rect x="90.36" y="57.22" width="1" height="1" fill="#2a48ee"/>
<rect x="105.99" y="55.72" width="1" height="1" fill="#2240e6"/>
<rect x="110.09" y="55.87" width="1" height="1" fill="#1a30e0"/>
<rect x="141.65" y="51.24" width="1" height="1" fill="#1228c0"/>
<rect x="110.18" y="62.74" width="1" height="1" fill="#3a55e8"/>
<rect x="137.75" y="53.59" width="1" height="1" fill="#1a30e0"/>
<rect x="123.05" y="55.91" width="1" height="1" fill="#2a48ee"/>
<rect x="112.92" y="49.63" width="1" height="1" fill="#2240e6"/>
<rect x="114.47" y="49.85" width="1" height="1" fill="#3a55e8"/>
<rect x="108.27" y="56.73" width="1" height="1" fill="#2a48ee"/>
<rect x="112.45" y="55.44" width="1" height="1" fill="#2a48ee"/>
<rect x="113.16" y="55.27" width="1" height="1" fill="#1a30e0"/>
<rect x="121.37" y="51.79" width="1" height="1" fill="#2240e6"/>
<rect x="105.72" y="56.78" width="1" height="1" fill="#2a48ee"/>
<rect x="141.77" y="53.49" width="1" height="1" fill="#1a30e0"/>
<rect x="118.82" y="59.47" width="1" height="1" fill="#3a55e8"/>
<rect x="95.68" y="54.35" width="1" height="1" fill="#2240e6"/>
<rect x="126.87" y="49.32" width="1" height="1" fill="#1a30e0"/>
<rect x="103.43" y="59.39" width="1" height="1" fill="#1a30e0"/>
<rect x="91.57" y="55.45" width="1" height="1" fill="#2a48ee"/>
<rect x="108.56" y="60.09" width="1" height="1" fill="#1228c0"/>
<rect x="122.07" y="53.45" width="1" height="1" fill="#2a48ee"/>
<rect x="91.55" y="56.88" width="1" height="1" fill="#2a48ee"/>
<rect x="114.92" y="55.70" width="1" height="1" fill="#1a30e0"/>
<rect x="110.71" y="50.45" width="1" height="1" fill="#3a55e8"/>
<rect x="91.75" y="56.17" width="1" height="1" fill="#1a30e0"/>
<rect x="109.16" y="54.29" width="1" height="1" fill="#1228c0"/>
<rect x="109.67" y="49.65" width="1" height="1" fill="#2240e6"/>
<rect x="103.17" y="54.00" width="1" height="1" fill="#2240e6"/>
<rect x="127.83" y="52.65" width="1" height="1" fill="#3a55e8"/>
<rect x="142.21" y="54.72" width="1" height="1" fill="#1a30e0"/>
<rect x="121.17" y="52.49" width="1" height="1" fill="#3a55e8"/>
<rect x="113.61" y="57.52" width="1" height="1" fill="#2240e6"/>
<rect x="90.41" y="59.38" width="1" height="1" fill="#1228c0"/>
<rect x="107.86" y="59.02" width="1" height="1" fill="#3a55e8"/>
<rect x="141.23" y="56.60" width="1" height="1" fill="#1a30e0"/>
<rect x="110.65" y="52.06" width="1" height="1" fill="#2240e6"/>
<rect x="106.64" y="55.74" width="1" height="1" fill="#2240e6"/>
<rect x="100.46" y="55.60" width="1" height="1" fill="#2a48ee"/>
<rect x="114.89" y="51.22" width="1" height="1" fill="#1a30e0"/>
<rect x="101.54" y="54.33" width="1" height="1" fill="#2a48ee"/>
<rect x="105.84" y="50.94" width="1" height="1" fill="#1228c0"/>
<rect x="125.99" y="62.99" width="1" height="1" fill="#1a30e0"/>
<rect x="113.47" y="60.21" width="1" height="1" fill="#2240e6"/>
<rect x="117.19" y="55.31" width="1" height="1" fill="#3a55e8"/>
<rect x="94.88" y="61.42" width="1" height="1" fill="#1228c0"/>
<rect x="122.90" y="50.46" width="1" height="1" fill="#3a55e8"/>
<rect x="127.96" y="51.15" width="1" height="1" fill="#2240e6"/>
<rect x="93.63" y="61.83" width="1" height="1" fill="#2a48ee"/>
<rect x="125.87" y="50.00" width="1" height="1" fill="#1228c0"/>
<rect x="111.27" y="56.05" width="1" height="1" fill="#2240e6"/>
<rect x="123.47" y="56.20" width="1" height="1" fill="#2a48ee"/>
<rect x="99.40" y="55.70" width="1" height="1" fill="#2a48ee"/>
<rect x="137.81" y="54.93" width="1" height="1" fill="#1a30e0"/>
<rect x="111.16" y="56.55" width="1" height="1" fill="#1a30e0"/>
<rect x="104.44" y="51.05" width="1" height="1" fill="#2240e6"/>
<rect x="111.57" y="52.75" width="1" height="1" fill="#2a48ee"/>
<rect x="98.32" y="53.72" width="1" height="1" fill="#3a55e8"/>
<rect x="140.19" y="51.12" width="1" height="1" fill="#3a55e8"/>
<rect x="117.76" y="61.02" width="1" height="1" fill="#2240e6"/>
<rect x="139.87" y="55.41" width="1" height="1" fill="#1a30e0"/>
<rect x="138.03" y="60.51" width="1" height="1" fill="#3a55e8"/>
<rect x="141.92" y="49.60" width="1" height="1" fill="#1a30e0"/>
<rect x="131.42" y="56.61" width="1" height="1" fill="#1228c0"/>
<rect x="117.77" y="60.69" width="1" height="1" fill="#2a48ee"/>
<rect x="108.60" y="59.66" width="1" height="1" fill="#1a30e0"/>
<rect x="116.81" y="56.01" width="1" height="1" fill="#1a30e0"/>
<rect x="117.11" y="50.95" width="1" height="1" fill="#1a30e0"/>
<rect x="129.66" y="53.22" width="1" height="1" fill="#3a55e8"/>
<rect x="124.86" y="50.70" width="1" height="1" fill="#1a30e0"/>
<rect x="112.72" y="57.01" width="1" height="1" fill="#1a30e0"/>
<rect x="94.93" y="50.40" width="1" height="1" fill="#2a48ee"/>
<rect x="122.36" y="54.94" width="1" height="1" fill="#1a30e0"/>
<rect x="122.82" y="54.88" width="1" height="1" fill="#2240e6"/>
<rect x="114.89" y="54.34" width="1" height="1" fill="#3a55e8"/>
<rect x="140.17" y="50.54" width="1" height="1" fill="#1a30e0"/>
<rect x="134.74" y="50.95" width="1" height="1" fill="#1228c0"/>
<rect x="90.66" y="49.65" width="1" height="1" fill="#3a55e8"/>
<rect x="106.20" y="51.77" width="1" height="1" fill="#2a48ee"/>
<rect x="118.61" y="53.85" width="1" height="1" fill="#1228c0"/>
<rect x="92.43" y="57.14" width="1" height="1" fill="#2240e6"/>
<rect x="121.06" y="55.21" width="1" height="1" fill="#1a30e0"/>
<rect x="140.99" y="55.57" width="1" height="1" fill="#2a48ee"/>
<rect x="109.15" y="51.59" width="1" height="1" fill="#2a48ee"/>
<rect x="123.93" y="54.52" width="1" height="1" fill="#1228c0"/>
<rect x="91.35" y="50.46" width="1" height="1" fill="#1228c0"/>
<rect x="141.28" y="56.46" width="1" height="1" fill="#2240e6"/>
<rect x="95.45" y="51.78" width="1" height="1" fill="#1228c0"/>
<rect x="106.82" y="52.15" width="1" height="1" fill="#1a30e0"/>
<rect x="106.00" y="51.33" width="1" height="1" fill="#1228c0"/>
<rect x="132.79" y="63.00" width="1" height="1" fill="#2a48ee"/>
<rect x="92.69" y="52.68" width="1" height="1" fill="#2a48ee"/>
<rect x="109.37" y="54.31" width="1" height="1" fill="#2240e6"/>
<rect x="97.37" y="52.51" width="1" height="1" fill="#1a30e0"/>
<rect x="135.34" y="51.05" width="1" height="1" fill="#1228c0"/>
<rect x="91.71" y="55.97" width="1" height="1" fill="#2240e6"/>
<rect x="97.63" y="49.74" width="1" height="1" fill="#1a30e0"/>
<rect x="137.47" y="49.37" width="1" height="1" fill="#2240e6"/>
<rect x="125.52" y="52.33" width="1" height="1" fill="#2a48ee"/>
<rect x="125.99" y="53.05" width="1" height="1" fill="#2a48ee"/>
<rect x="117.54" y="53.58" width="1" height="1" fill="#2a48ee"/>
<rect x="125.67" y="54.17" width="1" height="1" fill="#3a55e8"/>
<rect x="128.52" y="54.57" width="1" height="1" fill="#1a30e0"/>
<rect x="127.23" y="54.55" width="1" height="1" fill="#2240e6"/>
<rect x="123.71" y="56.08" width="1" height="1" fill="#1a30e0"/>
<rect x="126.85" y="53.93" width="1" height="1" fill="#1a30e0"/>
<rect x="140.27" y="51.22" width="1" height="1" fill="#2240e6"/>
<rect x="124.00" y="57.05" width="1" height="1" fill="#3a55e8"/>
<rect x="121.77" y="54.50" width="1" height="1" fill="#2a48ee"/>
<rect x="127.79" y="52.97" width="1" height="1" fill="#2a48ee"/>
<rect x="127.14" y="56.57" width="1" height="1" fill="#2240e6"/>
<rect x="117.09" y="55.70" width="1" height="1" fill="#1a30e0"/>
<rect x="117.04" y="56.88" width="1" height="1" fill="#2240e6"/>
<rect x="141.19" y="52.98" width="1" height="1" fill="#1228c0"/>
<rect x="119.01" y="58.15" width="1" height="1" fill="#1a30e0"/>
<rect x="94.96" y="54.25" width="1" height="1" fill="#1a30e0"/>
<rect x="92.52" y="54.92" width="1" height="1" fill="#1228c0"/>
<rect x="114.50" y="50.38" width="1" height="1" fill="#2a48ee"/>
<rect x="123.39" y="58.21" width="1" height="1" fill="#1a30e0"/>
<rect x="108.90" y="56.03" width="1" height="1" fill="#3a55e8"/>
<rect x="117.37" y="51.34" width="1" height="1" fill="#3a55e8"/>
<rect x="117.97" y="53.21" width="1" height="1" fill="#2240e6"/>
<rect x="108.84" y="51.92" width="1" height="1" fill="#1a30e0"/>
<rect x="91.82" y="58.45" width="1" height="1" fill="#1a30e0"/>
<rect x="126.99" y="57.21" width="1" height="1" fill="#2a48ee"/>
<rect x="107.21" y="49.89" width="1" height="1" fill="#1a30e0"/>
<rect x="139.63" y="61.02" width="1" height="1" fill="#2a48ee"/>
<rect x="121.36" y="57.28" width="1" height="1" fill="#2240e6"/>
<rect x="104.32" y="49.50" width="1" height="1" fill="#2a48ee"/>
<rect x="115.97" y="49.55" width="1" height="1" fill="#2a48ee"/>
<rect x="93.98" y="54.46" width="1" height="1" fill="#3a55e8"/>
<rect x="134.93" y="61.16" width="1" height="1" fill="#2240e6"/>
<rect x="102.22" y="60.10" width="1" height="1" fill="#2240e6"/>
<rect x="118.16" y="50.35" width="1" height="1" fill="#2a48ee"/>
<rect x="101.27" y="55.12" width="1" height="1" fill="#2a48ee"/>
<rect x="114.97" y="58.89" width="1" height="1" fill="#2a48ee"/>
<rect x="115.77" y="51.29" width="1" height="1" fill="#2a48ee"/>
<rect x="113.76" y="55.12" width="1" height="1" fill="#2240e6"/>
<rect x="93.38" y="59.14" width="1" height="1" fill="#3a55e8"/>
<rect x="121.15" y="54.89" width="1" height="1" fill="#1a30e0"/>
<rect x="138.11" y="50.89" width="1" height="1" fill="#2240e6"/>
<rect x="120.48" y="55.64" width="1" height="1" fill="#2240e6"/>
<rect x="129.96" y="50.43" width="1" height="1" fill="#2a48ee"/>
<rect x="127.44" y="56.13" width="1" height="1" fill="#1228c0"/>
<rect x="128.15" y="54.93" width="1" height="1" fill="#1a30e0"/>
<rect x="137.10" y="53.33" width="1" height="1" fill="#2240e6"/>
<rect x="127.89" y="57.90" width="1" height="1" fill="#2240e6"/>
<rect x="125.79" y="52.47" width="1" height="1" fill="#2240e6"/>
<rect x="139.54" y="50.45" width="1" height="1" fill="#1228c0"/>
<rect x="103.44" y="54.57" width="1" height="1" fill="#2a48ee"/>
<rect x="93.92" y="56.70" width="1" height="1" fill="#2240e6"/>
<rect x="106.22" y="53.04" width="1" height="1" fill="#1228c0"/>
<rect x="126.79" y="56.68" width="1" height="1" fill="#2a48ee"/>
<rect x="107.02" y="56.48" width="1" height="1" fill="#1a30e0"/>
<rect x="104.34" y="51.20" width="1" height="1" fill="#1a30e0"/>
<rect x="113.87" y="58.70" width="1" height="1" fill="#1a30e0"/>
<rect x="104.36" y="49.75" width="1" height="1" fill="#1228c0"/>
<rect x="93.91" y="53.90" width="1" height="1" fill="#2a48ee"/>
<rect x="112.04" y="54.44" width="1" height="1" fill="#2240e6"/>
<rect x="116.62" y="56.24" width="1" height="1" fill="#2a48ee"/>
<rect x="122.50" y="50.70" width="1" height="1" fill="#1a30e0"/>
<rect x="132.44" y="54.20" width="1" height="1" fill="#1228c0"/>
<rect x="142.65" y="56.82" width="1" height="1" fill="#1228c0"/>
<rect x="91.37" y="54.53" width="1" height="1" fill="#1228c0"/>
<rect x="103.52" y="55.98" width="1" height="1" fill="#1a30e0"/>
<rect x="101.22" y="56.02" width="1" height="1" fill="#1a30e0"/>
<rect x="109.28" y="54.74" width="1" height="1" fill="#1228c0"/>
<rect x="120.32" y="60.45" width="1" height="1" fill="#3a55e8"/>
<rect x="133.36" y="49.55" width="1" height="1" fill="#1228c0"/>
<rect x="124.73" y="54.95" width="1" height="1" fill="#1a30e0"/>
<rect x="118.63" y="51.49" width="1" height="1" fill="#1228c0"/>
<rect x="120.61" y="57.11" width="1" height="1" fill="#1a30e0"/>
<rect x="111.36" y="62.62" width="1" height="1" fill="#1228c0"/>
<rect x="96.51" y="50.94" width="1" height="1" fill="#1228c0"/>
<rect x="103.81" y="55.20" width="1" height="1" fill="#2240e6"/>
<rect x="136.42" y="61.67" width="1" height="1" fill="#2240e6"/>
<rect x="108.70" y="52.83" width="1" height="1" fill="#1228c0"/>
<rect x="101.36" y="62.41" width="1" height="1" fill="#1228c0"/>
<rect x="101.30" y="49.51" width="1" height="1" fill="#1a30e0"/>
<rect x="90.82" y="56.61" width="1" height="1" fill="#1a30e0"/>
<rect x="108.69" y="52.31" width="1" height="1" fill="#2240e6"/>
<rect x="103.58" y="56.18" width="1" height="1" fill="#1a30e0"/>
<rect x="127.80" y="52.13" width="1" height="1" fill="#2a48ee"/>
<rect x="112.69" y="56.34" width="1" height="1" fill="#2a48ee"/>
<rect x="142.31" y="53.12" width="1" height="1" fill="#1228c0"/>
<rect x="131.00" y="57.82" width="1" height="1" fill="#1228c0"/>
<rect x="111.95" y="56.28" width="1" height="1" fill="#2240e6"/>
<rect x="124.90" y="58.27" width="1" height="1" fill="#2a48ee"/>
<rect x="135.38" y="49.67" width="1" height="1" fill="#3a55e8"/>
<rect x="113.40" y="50.42" width="1" height="1" fill="#1a30e0"/>
<rect x="126.52" y="50.52" width="1" height="1" fill="#1a30e0"/>
<rect x="97.11" y="53.32" width="1" height="1" fill="#3a55e8"/>
<rect x="130.04" y="52.48" width="1" height="1" fill="#2240e6"/>
<rect x="124.23" y="52.47" width="1" height="1" fill="#1228c0"/>
<rect x="137.70" y="50.91" width="1" height="1" fill="#2240e6"/>
<rect x="90.82" y="54.06" width="1" height="1" fill="#3a55e8"/>
<rect x="127.23" y="49.69" width="1" height="1" fill="#3a55e8"/>
<rect x="93.44" y="56.96" width="1" height="1" fill="#1228c0"/>
<rect x="118.00" y="51.09" width="1" height="1" fill="#1a30e0"/>
<rect x="123.75" y="57.25" width="1" height="1" fill="#1a30e0"/>
<rect x="134.75" y="57.46" width="1" height="1" fill="#1228c0"/>
<rect x="122.70" y="58.34" width="1" height="1" fill="#3a55e8"/>
<rect x="104.34" y="57.03" width="1" height="1" fill="#1a30e0"/>
<rect x="132.08" y="58.60" width="1" height="1" fill="#2240e6"/>
<rect x="92.21" y="51.56" width="1" height="1" fill="#3a55e8"/>
<rect x="114.81" y="61.47" width="1" height="1" fill="#2240e6"/>
<rect x="118.78" y="50.51" width="1" height="1" fill="#3a55e8"/>
<rect x="136.99" y="56.48" width="1" height="1" fill="#2a48ee"/>
<rect x="102.74" y="57.21" width="1" height="1" fill="#2240e6"/>
<rect x="128.91" y="61.95" width="1" height="1" fill="#1a30e0"/>
<rect x="94.63" y="49.57" width="1" height="1" fill="#1a30e0"/>
<rect x="111.63" y="54.78" width="1" height="1" fill="#1228c0"/>
<rect x="125.61" y="53.92" width="1" height="1" fill="#2a48ee"/>
<rect x="124.50" y="52.04" width="1" height="1" fill="#1228c0"/>
<rect x="110.25" y="55.63" width="1" height="1" fill="#1228c0"/>
<rect x="121.47" y="57.11" width="1" height="1" fill="#2240e6"/>
<rect x="134.04" y="55.68" width="1" height="1" fill="#1a30e0"/>
<rect x="139.25" y="51.40" width="1" height="1" fill="#1228c0"/>
<rect x="135.72" y="54.02" width="1" height="1" fill="#2a48ee"/>
<rect x="143.27" y="55.36" width="1" height="1" fill="#1a30e0"/>
<rect x="100.92" y="52.23" width="1" height="1" fill="#2240e6"/>
<rect x="98.13" y="50.72" width="1" height="1" fill="#2a48ee"/>
<rect x="135.61" y="56.58" width="1" height="1" fill="#2a48ee"/>
<rect x="109.28" y="59.57" width="1" height="1" fill="#1a30e0"/>
<rect x="127.45" y="52.22" width="1" height="1" fill="#1a30e0"/>
<rect x="111.13" y="54.60" width="1" height="1" fill="#1228c0"/>
<rect x="113.78" y="54.38" width="1" height="1" fill="#1228c0"/>
<rect x="116.69" y="49.35" width="1" height="1" fill="#2a48ee"/>
<rect x="125.19" y="53.49" width="1" height="1" fill="#2240e6"/>
<rect x="119.54" y="49.31" width="1" height="1" fill="#3a55e8"/>
<rect x="110.43" y="56.64" width="1" height="1" fill="#1a30e0"/>
<rect x="106.59" y="53.25" width="1" height="1" fill="#3a55e8"/>
<rect x="141.08" y="55.55" width="1" height="1" fill="#1a30e0"/>
<rect x="128.24" y="49.63" width="1" height="1" fill="#1228c0"/>
<rect x="109.68" y="54.16" width="1" height="1" fill="#1a30e0"/>
<rect x="135.29" y="54.25" width="1" height="1" fill="#3a55e8"/>
<rect x="127.09" y="49.81" width="1" height="1" fill="#2240e6"/>
<rect x="94.26" y="52.45" width="1" height="1" fill="#1228c0"/>
<rect x="118.78" y="55.63" width="1" height="1" fill="#3a55e8"/>
<rect x="139.84" y="52.79" width="1" height="1" fill="#2240e6"/>
<rect x="124.08" y="52.48" width="1" height="1" fill="#2a48ee"/>
<rect x="90.51" y="50.90" width="1" height="1" fill="#2240e6"/>
<rect x="139.34" y="51.94" width="1" height="1" fill="#1228c0"/>
<rect x="114.51" y="56.08" width="1" height="1" fill="#2a48ee"/>
<rect x="115.72" y="56.09" width="1" height="1" fill="#1a30e0"/>
<rect x="133.92" y="51.98" width="1" height="1" fill="#2a48ee"/>
<rect x="114.39" y="56.05" width="1" height="1" fill="#2240e6"/>
<rect x="130.50" y="51.86" width="1" height="1" fill="#2240e6"/>
<rect x="113.74" y="53.46" width="1" height="1" fill="#1a30e0"/>
<rect x="125.39" y="52.46" width="1" height="1" fill="#3a55e8"/>
<rect x="126.30" y="51.29" width="1" height="1" fill="#1228c0"/>
<rect x="108.81" y="51.74" width="1" height="1" fill="#1a30e0"/>
<rect x="124.77" y="60.94" width="1" height="1" fill="#1228c0"/>
<rect x="97.53" y="59.05" width="1" height="1" fill="#2240e6"/>
<rect x="104.89" y="55.13" width="1" height="1" fill="#1a30e0"/>
<rect x="115.30" y="49.58" width="1" height="1" fill="#2a48ee"/>
<rect x="100.69" y="57.09" width="1" height="1" fill="#1228c0"/>
<rect x="108.04" y="50.93" width="1" height="1" fill="#2240e6"/>
<rect x="135.74" y="50.40" width="1" height="1" fill="#2240e6"/>
<rect x="133.40" y="49.41" width="1" height="1" fill="#2a48ee"/>
<rect x="129.29" y="51.07" width="1" height="1" fill="#2a48ee"/>
<rect x="124.77" y="53.58" width="1" height="1" fill="#3a55e8"/>
<rect x="105.56" y="53.03" width="1" height="1" fill="#2240e6"/>
<rect x="92.68" y="55.97" width="1" height="1" fill="#1a30e0"/>
<rect x="113.58" y="56.25" width="1" height="1" fill="#1228c0"/>
<rect x="97.11" y="52.87" width="1" height="1" fill="#1a30e0"/>
<rect x="136.62" y="54.96" width="1" height="1" fill="#2240e6"/>
<rect x="129.48" y="53.69" width="1" height="1" fill="#1a30e0"/>
<rect x="125.46" y="57.09" width="1" height="1" fill="#2a48ee"/>
<rect x="98.31" y="54.54" width="1" height="1" fill="#1228c0"/>
<rect x="100.56" y="50.77" width="1" height="1" fill="#2240e6"/>
<rect x="111.39" y="52.11" width="1" height="1" fill="#1a30e0"/>
<rect x="116.72" y="53.49" width="1" height="1" fill="#1228c0"/>
<rect x="90.95" y="56.42" width="1" height="1" fill="#2a48ee"/>
<rect x="100.69" y="51.72" width="1" height="1" fill="#3a55e8"/>
<rect x="130.31" y="53.06" width="1" height="1" fill="#1228c0"/>
<rect x="119.24" y="60.47" width="1" height="1" fill="#2240e6"/>
<rect x="111.40" y="50.85" width="1" height="1" fill="#3a55e8"/>
<rect x="99.17" y="53.15" width="1" height="1" fill="#2240e6"/>
<rect x="109.40" y="55.96" width="1" height="1" fill="#2240e6"/>
<rect x="107.52" y="55.28" width="1" height="1" fill="#1228c0"/>
<rect x="110.96" y="49.62" width="1" height="1" fill="#2240e6"/>
<rect x="112.01" y="52.62" width="1" height="1" fill="#2a48ee"/>
<rect x="94.06" y="55.17" width="1" height="1" fill="#1228c0"/>
<rect x="125.32" y="49.34" width="1" height="1" fill="#2a48ee"/>
<rect x="109.68" y="51.39" width="1" height="1" fill="#2240e6"/>
<rect x="98.16" y="53.63" width="1" height="1" fill="#2a48ee"/>
<rect x="129.58" y="49.64" width="1" height="1" fill="#1a30e0"/>
<rect x="105.11" y="57.20" width="1" height="1" fill="#1228c0"/>
<rect x="105.96" y="51.22" width="1" height="1" fill="#2240e6"/>
<rect x="123.82" y="54.91" width="1" height="1" fill="#2a48ee"/>
<rect x="94.64" y="56.03" width="1" height="1" fill="#1228c0"/>
<rect x="112.60" y="50.18" width="1" height="1" fill="#1a30e0"/>
<rect x="124.70" y="51.04" width="1" height="1" fill="#3a55e8"/>
<rect x="112.44" y="55.87" width="1" height="1" fill="#2a48ee"/>
<rect x="111.50" y="55.48" width="1" height="1" fill="#2240e6"/>
<rect x="111.89" y="54.03" width="1" height="1" fill="#2240e6"/>
<rect x="139.64" y="49.56" width="1" height="1" fill="#1a30e0"/>
<rect x="97.89" y="50.64" width="1" height="1" fill="#2240e6"/>
<rect x="131.05" y="56.70" width="1" height="1" fill="#3a55e8"/>
<rect x="127.77" y="49.32" width="1" height="1" fill="#2a48ee"/>
<rect x="119.90" y="51.94" width="1" height="1" fill="#3a55e8"/>
<rect x="93.34" y="57.30" width="1" height="1" fill="#1228c0"/>
<rect x="111.93" y="57.07" width="1" height="1" fill="#1228c0"/>
<rect x="132.82" y="55.48" width="1" height="1" fill="#3a55e8"/>
<rect x="116.05" y="51.72" width="1" height="1" fill="#3a55e8"/>
<rect x="132.03" y="50.62" width="1" height="1" fill="#1228c0"/>
<rect x="124.10" y="60.08" width="1" height="1" fill="#2240e6"/>
<rect x="124.93" y="54.36" width="1" height="1" fill="#2a48ee"/>
<rect x="119.45" y="56.08" width="1" height="1" fill="#2240e6"/>
<rect x="119.93" y="60.45" width="1" height="1" fill="#3a55e8"/>
<rect x="137.41" y="54.61" width="1" height="1" fill="#1a30e0"/>
<rect x="123.41" y="52.04" width="1" height="1" fill="#2a48ee"/>
<rect x="140.53" y="54.68" width="1" height="1" fill="#1228c0"/>
<rect x="125.35" y="59.56" width="1" height="1" fill="#2240e6"/>
<rect x="106.02" y="56.91" width="1" height="1" fill="#2240e6"/>
<rect x="118.27" y="51.70" width="1" height="1" fill="#3a55e8"/>
<rect x="112.40" y="53.03" width="1" height="1" fill="#2240e6"/>
<rect x="142.90" y="56.42" width="1" height="1" fill="#3a55e8"/>
<rect x="118.68" y="51.03" width="1" height="1" fill="#2a48ee"/>
<rect x="110.02" y="59.34" width="1" height="1" fill="#1a30e0"/>
<rect x="98.04" y="52.11" width="1" height="1" fill="#2240e6"/>
<rect x="137.01" y="58.85" width="1" height="1" fill="#2240e6"/>
<rect x="136.70" y="54.15" width="1" height="1" fill="#1228c0"/>
<rect x="141.61" y="49.37" width="1" height="1" fill="#2240e6"/>
<rect x="95.53" y="53.82" width="1" height="1" fill="#1a30e0"/>
<rect x="129.26" y="57.18" width="1" height="1" fill="#3a55e8"/>
<rect x="130.14" y="50.38" width="1" height="1" fill="#1228c0"/>
<rect x="103.50" y="53.41" width="1" height="1" fill="#1228c0"/>
<rect x="104.20" y="51.74" width="1" height="1" fill="#2a48ee"/>
<rect x="121.33" y="61.85" width="1" height="1" fill="#3a55e8"/>
<rect x="116.30" y="49.44" width="1" height="1" fill="#2240e6"/>
<rect x="137.33" y="52.32" width="1" height="1" fill="#2240e6"/>
<rect x="117.32" y="54.16" width="1" height="1" fill="#2a48ee"/>
<rect x="140.54" y="49.36" width="1" height="1" fill="#1228c0"/>
<rect x="104.47" y="56.64" width="1" height="1" fill="#1a30e0"/>
<rect x="143.18" y="54.02" width="1" height="1" fill="#1a30e0"/>
<rect x="118.35" y="55.48" width="1" height="1" fill="#1228c0"/>
<rect x="111.72" y="56.90" width="1" height="1" fill="#1a30e0"/>
<rect x="116.28" y="59.16" width="1" height="1" fill="#1a30e0"/>
<rect x="117.91" y="53.27" width="1" height="1" fill="#2a48ee"/>
<rect x="154.87" y="58.54" width="1" height="1" fill="#2a3ee0"/>
<rect x="151.73" y="60.82" width="1" height="1" fill="#2a3ee0"/>
<rect x="154.29" y="58.33" width="1" height="1" fill="#2a3ee0"/>
<rect x="147.70" y="62.20" width="1" height="1" fill="#2a3ee0"/>
<rect x="147.94" y="48.67" width="1" height="1" fill="#2a3ee0"/>
<rect x="144.27" y="57.67" width="1" height="1" fill="#2a3ee0"/>
<rect x="143.78" y="54.04" width="1" height="1" fill="#2a3ee0"/>
<rect x="145.69" y="60.43" width="1" height="1" fill="#2a3ee0"/>
<rect x="144.42" y="53.00" width="1" height="1" fill="#2a3ee0"/>
<rect x="145.20" y="51.93" width="1" height="1" fill="#2a3ee0"/>
<rect x="145.00" y="60.48" width="1" height="1" fill="#2a3ee0"/>
<rect x="155.06" y="53.48" width="1" height="1" fill="#2a3ee0"/>
<rect x="144.19" y="59.44" width="1" height="1" fill="#2a3ee0"/>
<rect x="149.22" y="62.84" width="1" height="1" fill="#2a3ee0"/>
<rect x="148.05" y="49.78" width="1" height="1" fill="#2a3ee0"/>
<rect x="147.41" y="49.71" width="1" height="1" fill="#2a3ee0"/>
<rect x="146.58" y="62.13" width="1" height="1" fill="#2a3ee0"/>
<rect x="144.53" y="57.61" width="1" height="1" fill="#2a3ee0"/>
<rect x="149.92" y="47.72" width="1" height="1" fill="#2a3ee0"/>
<rect x="153.72" y="51.08" width="1" height="1" fill="#2a3ee0"/>
<rect x="146.68" y="62.29" width="1" height="1" fill="#2a3ee0"/>
<rect x="154.29" y="54.58" width="1" height="1" fill="#2a3ee0"/>
<rect x="155.02" y="54.14" width="1" height="1" fill="#2a3ee0"/>
<rect x="145.50" y="58.94" width="1" height="1" fill="#2a3ee0"/>
<rect x="149.41" y="48.82" width="1" height="1" fill="#2a3ee0"/>
<rect x="148.11" y="49.03" width="1" height="1" fill="#2a3ee0"/>
<rect x="144.18" y="55.63" width="1" height="1" fill="#2a3ee0"/>
<rect x="155.27" y="55.29" width="1" height="1" fill="#2a3ee0"/>
<rect x="153.04" y="51.25" width="1" height="1" fill="#2a3ee0"/>
<rect x="143.38" y="54.93" width="1" height="1" fill="#2a3ee0"/>
<rect x="145.19" y="50.66" width="1" height="1" fill="#2a3ee0"/>
<rect x="144.13" y="56.68" width="1" height="1" fill="#2a3ee0"/>
<rect x="146.73" y="61.43" width="1" height="1" fill="#2a3ee0"/>
<rect x="146.15" y="61.46" width="1" height="1" fill="#2a3ee0"/>
<rect x="147.12" y="62.23" width="1" height="1" fill="#2a3ee0"/>
<rect x="147.46" y="48.67" width="1" height="1" fill="#2a3ee0"/>
<rect x="150.54" y="48.90" width="1" height="1" fill="#2a3ee0"/>
<rect x="153.76" y="60.16" width="1" height="1" fill="#2a3ee0"/>
<rect x="148.03" y="62.10" width="1" height="1" fill="#2a3ee0"/>
<rect x="150.96" y="61.46" width="1" height="1" fill="#2a3ee0"/>
<rect x="144.51" y="51.38" width="1" height="1" fill="#2a3ee0"/>
<rect x="145.36" y="60.90" width="1" height="1" fill="#2a3ee0"/>
<rect x="146.54" y="50.47" width="1" height="1" fill="#2a3ee0"/>
<rect x="154.53" y="58.07" width="1" height="1" fill="#2a3ee0"/>
<rect x="146.49" y="49.05" width="1" height="1" fill="#2a3ee0"/>
<rect x="155.40" y="57.55" width="1" height="1" fill="#2a3ee0"/>
<rect x="145.04" y="51.64" width="1" height="1" fill="#2a3ee0"/>
<rect x="145.11" y="53.23" width="1" height="1" fill="#2a3ee0"/>
<rect x="151.32" y="48.26" width="1" height="1" fill="#2a3ee0"/>
<rect x="153.90" y="58.64" width="1" height="1" fill="#2a3ee0"/>
<rect x="151.81" y="60.86" width="1" height="1" fill="#2a3ee0"/>
<rect x="154.36" y="51.08" width="1" height="1" fill="#2a3ee0"/>
<rect x="149.90" y="61.20" width="1" height="1" fill="#2a3ee0"/>
<ellipse cx="150.00" cy="55.90" rx="5.52" ry="6.66" fill="#1d36e2" filter="url(#b1)"/>
<ellipse cx="152.10" cy="54.42" rx="1.80" ry="2.59" fill="#3a9af2"/>
<ellipse cx="146.50" cy="55.90" rx="2.04" ry="5.03" fill="#3cc0f0"/>
<ellipse cx="146.50" cy="56.00" rx="1.44" ry="3.55" fill="#78d868"/>
<ellipse cx="146.50" cy="56.00" rx="0.84" ry="2.22" fill="#d8d030"/>
<ellipse cx="146.50" cy="56.00" rx="0.54" ry="1.26" fill="#c04818"/>
<rect x="163.50" y="31.50" width="72.00" height="70.00" fill="none" stroke="#f3f3f3" stroke-width="1"/>
<line x1="163.50" y1="31.50" x2="163.50" y2="101.50" stroke="#c8c8c8" stroke-width="1"/>
<line x1="163.50" y1="101.50" x2="235.50" y2="101.50" stroke="#a8a8a8" stroke-width="1"/>
<line x1="162.30" y1="88.77" x2="164.00" y2="88.77" stroke="#555" stroke-width="0.9"/>
<line x1="162.30" y1="76.05" x2="164.00" y2="76.05" stroke="#555" stroke-width="0.9"/>
<line x1="162.30" y1="63.32" x2="164.00" y2="63.32" stroke="#555" stroke-width="0.9"/>
<line x1="162.30" y1="50.59" x2="164.00" y2="50.59" stroke="#555" stroke-width="0.9"/>
<line x1="162.30" y1="37.86" x2="164.00" y2="37.86" stroke="#555" stroke-width="0.9"/>
<line x1="171.50" y1="101.00" x2="171.50" y2="102.80" stroke="#555" stroke-width="0.9"/>
<line x1="173.00" y1="103.10" x2="180.50" y2="103.10" stroke="#e2e2e2" stroke-width="1.2"/>
<line x1="185.35" y1="101.00" x2="185.35" y2="102.80" stroke="#555" stroke-width="0.9"/>
<line x1="186.85" y1="103.10" x2="194.35" y2="103.10" stroke="#e2e2e2" stroke-width="1.2"/>
<line x1="199.19" y1="101.00" x2="199.19" y2="102.80" stroke="#555" stroke-width="0.9"/>
<line x1="200.69" y1="103.10" x2="208.19" y2="103.10" stroke="#e2e2e2" stroke-width="1.2"/>
<line x1="213.04" y1="101.00" x2="213.04" y2="102.80" stroke="#555" stroke-width="0.9"/>
<line x1="214.54" y1="103.10" x2="222.04" y2="103.10" stroke="#e2e2e2" stroke-width="1.2"/>
<line x1="226.88" y1="101.00" x2="226.88" y2="102.80" stroke="#555" stroke-width="0.9"/>
<line x1="228.38" y1="103.10" x2="235.88" y2="103.10" stroke="#e2e2e2" stroke-width="1.2"/>
<polyline points="164.5,42.5 216.5,42.5 216.5,66.5 164.5,66.5" fill="none" stroke="#dca4e6" stroke-width="1"/>
<text x="185.80" y="29.40" font-size="7" fill="#222" text-anchor="start" textLength="29.80" lengthAdjust="spacingAndGlyphs" stroke="#222" stroke-width="0.2">B27 GY10</text>
<text x="185.30" y="40.40" font-size="5.8" fill="#c868d4" text-anchor="start" textLength="10.90" lengthAdjust="spacingAndGlyphs" stroke="#c868d4" stroke-width="0.2">3.92</text>
<rect x="188.04" y="53.32" width="1" height="1" fill="#2a48ee"/>
<rect x="194.03" y="55.41" width="1" height="1" fill="#2240e6"/>
<rect x="177.33" y="57.58" width="1" height="1" fill="#1228c0"/>
<rect x="187.46" y="57.10" width="1" height="1" fill="#1a30e0"/>
<rect x="205.97" y="53.56" width="1" height="1" fill="#2240e6"/>
<rect x="199.92" y="60.83" width="1" height="1" fill="#2240e6"/>
<rect x="205.30" y="52.01" width="1" height="1" fill="#3a55e8"/>
<rect x="193.16" y="53.34" width="1" height="1" fill="#1228c0"/>
<rect x="189.50" y="53.19" width="1" height="1" fill="#2a48ee"/>
<rect x="204.74" y="55.99" width="1" height="1" fill="#1228c0"/>
<rect x="196.02" y="56.80" width="1" height="1" fill="#2a48ee"/>
<rect x="205.32" y="55.43" width="1" height="1" fill="#2240e6"/>
<rect x="198.00" y="50.23" width="1" height="1" fill="#2240e6"/>
<rect x="186.54" y="51.39" width="1" height="1" fill="#1228c0"/>
<rect x="196.45" y="51.18" width="1" height="1" fill="#2240e6"/>
<rect x="187.93" y="56.79" width="1" height="1" fill="#2a48ee"/>
<rect x="196.65" y="55.08" width="1" height="1" fill="#1a30e0"/>
<rect x="202.14" y="52.77" width="1" height="1" fill="#1a30e0"/>
<rect x="193.05" y="52.17" width="1" height="1" fill="#1228c0"/>
<rect x="193.48" y="51.11" width="1" height="1" fill="#2240e6"/>
<rect x="191.64" y="52.20" width="1" height="1" fill="#2a48ee"/>
<rect x="202.52" y="60.11" width="1" height="1" fill="#1228c0"/>
<rect x="193.15" y="54.74" width="1" height="1" fill="#1a30e0"/>
<rect x="196.06" y="55.83" width="1" height="1" fill="#1228c0"/>
<rect x="196.34" y="61.63" width="1" height="1" fill="#3a55e8"/>
<rect x="202.22" y="55.65" width="1" height="1" fill="#1228c0"/>
<rect x="193.24" y="55.57" width="1" height="1" fill="#2240e6"/>
<rect x="207.22" y="56.24" width="1" height="1" fill="#3a55e8"/>
<rect x="180.92" y="54.93" width="1" height="1" fill="#2240e6"/>
<rect x="201.13" y="59.96" width="1" height="1" fill="#1a30e0"/>
<rect x="197.96" y="55.03" width="1" height="1" fill="#2240e6"/>
<rect x="202.93" y="56.62" width="1" height="1" fill="#2240e6"/>
<rect x="198.19" y="52.17" width="1" height="1" fill="#2a48ee"/>
<rect x="181.66" y="51.60" width="1" height="1" fill="#3a55e8"/>
<rect x="204.56" y="52.52" width="1" height="1" fill="#2240e6"/>
<rect x="179.33" y="50.49" width="1" height="1" fill="#3a55e8"/>
<rect x="187.04" y="52.70" width="1" height="1" fill="#2240e6"/>
<rect x="190.25" y="55.49" width="1" height="1" fill="#3a55e8"/>
<rect x="190.64" y="55.42" width="1" height="1" fill="#2a48ee"/>
<rect x="179.86" y="59.08" width="1" height="1" fill="#2a48ee"/>
<rect x="172.44" y="55.91" width="1" height="1" fill="#3a55e8"/>
<rect x="208.45" y="52.15" width="1" height="1" fill="#3a55e8"/>
<rect x="205.52" y="54.75" width="1" height="1" fill="#2240e6"/>
<rect x="186.00" y="52.38" width="1" height="1" fill="#1228c0"/>
<rect x="191.85" y="50.08" width="1" height="1" fill="#3a55e8"/>
<rect x="175.65" y="56.41" width="1" height="1" fill="#1a30e0"/>
<rect x="176.83" y="52.76" width="1" height="1" fill="#2240e6"/>
<rect x="207.68" y="54.87" width="1" height="1" fill="#2a48ee"/>
<rect x="203.70" y="56.64" width="1" height="1" fill="#2a48ee"/>
<rect x="182.31" y="56.47" width="1" height="1" fill="#2a48ee"/>
<rect x="189.46" y="53.58" width="1" height="1" fill="#2240e6"/>
<rect x="196.05" y="51.60" width="1" height="1" fill="#3a55e8"/>
<rect x="201.43" y="56.52" width="1" height="1" fill="#3a55e8"/>
<rect x="193.35" y="56.23" width="1" height="1" fill="#3a55e8"/>
<rect x="185.97" y="56.63" width="1" height="1" fill="#2240e6"/>
<rect x="205.38" y="61.68" width="1" height="1" fill="#1228c0"/>
<rect x="196.62" y="56.08" width="1" height="1" fill="#2a48ee"/>
<rect x="194.30" y="50.69" width="1" height="1" fill="#3a55e8"/>
<rect x="186.45" y="52.58" width="1" height="1" fill="#2240e6"/>
<rect x="197.45" y="56.25" width="1" height="1" fill="#2a48ee"/>
<rect x="193.16" y="52.64" width="1" height="1" fill="#1228c0"/>
<rect x="206.40" y="52.19" width="1" height="1" fill="#1228c0"/>
<rect x="205.29" y="52.44" width="1" height="1" fill="#3a55e8"/>
<rect x="181.60" y="61.38" width="1" height="1" fill="#2240e6"/>
<rect x="196.26" y="56.97" width="1" height="1" fill="#1a30e0"/>
<rect x="190.79" y="56.76" width="1" height="1" fill="#1a30e0"/>
<rect x="205.85" y="54.06" width="1" height="1" fill="#1a30e0"/>
<rect x="199.09" y="50.78" width="1" height="1" fill="#3a55e8"/>
<rect x="174.94" y="53.66" width="1" height="1" fill="#3a55e8"/>
<rect x="188.34" y="54.33" width="1" height="1" fill="#1a30e0"/>
<rect x="194.43" y="60.43" width="1" height="1" fill="#3a55e8"/>
<rect x="200.65" y="52.93" width="1" height="1" fill="#3a55e8"/>
<rect x="208.81" y="57.09" width="1" height="1" fill="#2240e6"/>
<rect x="203.30" y="56.33" width="1" height="1" fill="#2a48ee"/>
<rect x="194.69" y="56.55" width="1" height="1" fill="#1a30e0"/>
<rect x="186.40" y="56.39" width="1" height="1" fill="#2240e6"/>
<rect x="199.09" y="50.22" width="1" height="1" fill="#3a55e8"/>
<rect x="206.73" y="60.29" width="1" height="1" fill="#1a30e0"/>
<rect x="190.95" y="50.96" width="1" height="1" fill="#1a30e0"/>
<rect x="189.52" y="50.03" width="1" height="1" fill="#3a55e8"/>
<rect x="201.81" y="51.55" width="1" height="1" fill="#2240e6"/>
<rect x="200.46" y="55.60" width="1" height="1" fill="#1228c0"/>
<rect x="186.45" y="55.67" width="1" height="1" fill="#1a30e0"/>
<rect x="191.34" y="51.54" width="1" height="1" fill="#1228c0"/>
<rect x="206.06" y="60.33" width="1" height="1" fill="#3a55e8"/>
<rect x="196.63" y="51.42" width="1" height="1" fill="#2240e6"/>
<rect x="178.79" y="53.46" width="1" height="1" fill="#2240e6"/>
<rect x="205.99" y="61.39" width="1" height="1" fill="#2240e6"/>
<rect x="195.55" y="51.09" width="1" height="1" fill="#2a48ee"/>
<rect x="198.49" y="55.21" width="1" height="1" fill="#2a48ee"/>
<rect x="175.64" y="58.14" width="1" height="1" fill="#3a55e8"/>
<rect x="193.13" y="53.14" width="1" height="1" fill="#1a30e0"/>
<rect x="199.56" y="52.02" width="1" height="1" fill="#2240e6"/>
<rect x="205.32" y="54.24" width="1" height="1" fill="#2a48ee"/>
<rect x="192.37" y="53.34" width="1" height="1" fill="#2a48ee"/>
<rect x="197.50" y="52.44" width="1" height="1" fill="#1a30e0"/>
<rect x="187.60" y="55.31" width="1" height="1" fill="#1a30e0"/>
<rect x="202.21" y="54.64" width="1" height="1" fill="#1a30e0"/>
<rect x="205.20" y="50.11" width="1" height="1" fill="#3a55e8"/>
<rect x="196.97" y="55.14" width="1" height="1" fill="#1a30e0"/>
<rect x="207.90" y="50.97" width="1" height="1" fill="#1a30e0"/>
<rect x="203.17" y="54.95" width="1" height="1" fill="#2240e6"/>
<rect x="201.59" y="52.25" width="1" height="1" fill="#2a48ee"/>
<rect x="191.05" y="50.97" width="1" height="1" fill="#2a48ee"/>
<rect x="200.97" y="50.82" width="1" height="1" fill="#2a48ee"/>
<rect x="187.61" y="55.85" width="1" height="1" fill="#1a30e0"/>
<rect x="192.32" y="49.95" width="1" height="1" fill="#2240e6"/>
<rect x="204.21" y="56.83" width="1" height="1" fill="#1228c0"/>
<rect x="191.85" y="54.04" width="1" height="1" fill="#3a55e8"/>
<rect x="172.27" y="50.30" width="1" height="1" fill="#2a48ee"/>
<rect x="182.05" y="56.48" width="1" height="1" fill="#3a55e8"/>
<rect x="197.39" y="58.26" width="1" height="1" fill="#1a30e0"/>
<rect x="190.82" y="50.85" width="1" height="1" fill="#1a30e0"/>
<rect x="191.04" y="50.71" width="1" height="1" fill="#2a48ee"/>
<rect x="186.51" y="50.88" width="1" height="1" fill="#2240e6"/>
<rect x="208.39" y="50.91" width="1" height="1" fill="#2a48ee"/>
<rect x="172.64" y="55.28" width="1" height="1" fill="#1a30e0"/>
<rect x="200.48" y="51.15" width="1" height="1" fill="#3a55e8"/>
<rect x="192.94" y="51.00" width="1" height="1" fill="#1228c0"/>
<rect x="193.54" y="51.06" width="1" height="1" fill="#3a55e8"/>
<rect x="188.46" y="52.48" width="1" height="1" fill="#3a55e8"/>
<rect x="175.17" y="56.23" width="1" height="1" fill="#2240e6"/>
<rect x="195.41" y="53.42" width="1" height="1" fill="#1228c0"/>
<rect x="201.49" y="56.99" width="1" height="1" fill="#3a55e8"/>
<rect x="184.70" y="54.71" width="1" height="1" fill="#1228c0"/>
<rect x="200.31" y="60.70" width="1" height="1" fill="#1228c0"/>
<rect x="206.34" y="53.09" width="1" height="1" fill="#1228c0"/>
<rect x="200.57" y="53.64" width="1" height="1" fill="#2240e6"/>
<rect x="187.11" y="53.67" width="1" height="1" fill="#2240e6"/>
<rect x="201.83" y="54.65" width="1" height="1" fill="#2a48ee"/>
<rect x="207.22" y="56.84" width="1" height="1" fill="#2a48ee"/>
<rect x="177.79" y="51.22" width="1" height="1" fill="#3a55e8"/>
<rect x="201.24" y="53.40" width="1" height="1" fill="#2240e6"/>
<rect x="208.52" y="56.51" width="1" height="1" fill="#2240e6"/>
<rect x="208.85" y="54.78" width="1" height="1" fill="#2a48ee"/>
<rect x="186.10" y="52.25" width="1" height="1" fill="#1228c0"/>
<rect x="198.88" y="52.33" width="1" height="1" fill="#1a30e0"/>
<rect x="198.56" y="61.15" width="1" height="1" fill="#2240e6"/>
<rect x="179.87" y="50.15" width="1" height="1" fill="#1a30e0"/>
<rect x="187.90" y="52.01" width="1" height="1" fill="#2240e6"/>
<rect x="202.22" y="54.22" width="1" height="1" fill="#1228c0"/>
<rect x="194.66" y="59.64" width="1" height="1" fill="#2a48ee"/>
<rect x="206.30" y="50.41" width="1" height="1" fill="#1228c0"/>
<rect x="194.47" y="56.06" width="1" height="1" fill="#3a55e8"/>
<rect x="187.50" y="55.67" width="1" height="1" fill="#2a48ee"/>
<rect x="197.68" y="53.75" width="1" height="1" fill="#3a55e8"/>
<rect x="201.93" y="51.88" width="1" height="1" fill="#1228c0"/>
<rect x="193.31" y="55.03" width="1" height="1" fill="#1a30e0"/>
<rect x="172.74" y="55.88" width="1" height="1" fill="#3a55e8"/>
<rect x="199.84" y="60.42" width="1" height="1" fill="#2a48ee"/>
<rect x="177.63" y="61.15" width="1" height="1" fill="#1228c0"/>
<rect x="197.65" y="49.99" width="1" height="1" fill="#2240e6"/>
<rect x="204.19" y="57.29" width="1" height="1" fill="#2240e6"/>
<rect x="206.15" y="51.98" width="1" height="1" fill="#2a48ee"/>
<rect x="181.74" y="59.87" width="1" height="1" fill="#1228c0"/>
<rect x="200.84" y="51.75" width="1" height="1" fill="#1228c0"/>
<rect x="206.85" y="56.23" width="1" height="1" fill="#2240e6"/>
<rect x="191.97" y="51.01" width="1" height="1" fill="#3a55e8"/>
<rect x="176.83" y="56.38" width="1" height="1" fill="#2240e6"/>
<rect x="200.37" y="57.27" width="1" height="1" fill="#1228c0"/>
<rect x="196.80" y="50.25" width="1" height="1" fill="#2240e6"/>
<rect x="201.01" y="53.78" width="1" height="1" fill="#1228c0"/>
<rect x="191.95" y="50.70" width="1" height="1" fill="#3a55e8"/>
<rect x="206.46" y="61.39" width="1" height="1" fill="#2240e6"/>
<rect x="207.46" y="50.54" width="1" height="1" fill="#2240e6"/>
<rect x="208.40" y="52.37" width="1" height="1" fill="#2240e6"/>
<rect x="194.73" y="57.07" width="1" height="1" fill="#2a48ee"/>
<rect x="192.50" y="54.13" width="1" height="1" fill="#3a55e8"/>
<rect x="203.72" y="53.24" width="1" height="1" fill="#1a30e0"/>
<rect x="179.28" y="55.63" width="1" height="1" fill="#2a48ee"/>
<rect x="183.13" y="56.77" width="1" height="1" fill="#2a48ee"/>
<rect x="208.04" y="51.11" width="1" height="1" fill="#2a48ee"/>
<rect x="190.38" y="55.12" width="1" height="1" fill="#1a30e0"/>
<rect x="199.49" y="51.37" width="1" height="1" fill="#1228c0"/>
<rect x="197.84" y="55.45" width="1" height="1" fill="#2a48ee"/>
<rect x="188.54" y="50.56" width="1" height="1" fill="#1228c0"/>
<rect x="199.35" y="51.80" width="1" height="1" fill="#3a55e8"/>
<rect x="173.40" y="56.51" width="1" height="1" fill="#3a55e8"/>
<rect x="197.85" y="55.13" width="1" height="1" fill="#2240e6"/>
<rect x="190.16" y="57.21" width="1" height="1" fill="#2a48ee"/>
<rect x="175.59" y="50.71" width="1" height="1" fill="#1228c0"/>
<rect x="203.01" y="60.05" width="1" height="1" fill="#1a30e0"/>
<rect x="208.83" y="54.27" width="1" height="1" fill="#2a48ee"/>
<rect x="195.76" y="56.49" width="1" height="1" fill="#2a48ee"/>
<rect x="195.84" y="56.13" width="1" height="1" fill="#2240e6"/>
<rect x="187.25" y="53.79" width="1" height="1" fill="#3a55e8"/>
<rect x="194.55" y="50.80" width="1" height="1" fill="#3a55e8"/>
<rect x="177.92" y="51.02" width="1" height="1" fill="#3a55e8"/>
<rect x="188.54" y="50.74" width="1" height="1" fill="#3a55e8"/>
<rect x="199.04" y="53.52" width="1" height="1" fill="#2240e6"/>
<rect x="203.25" y="51.57" width="1" height="1" fill="#2240e6"/>
<rect x="207.29" y="56.52" width="1" height="1" fill="#2a48ee"/>
<rect x="203.79" y="54.22" width="1" height="1" fill="#1a30e0"/>
<rect x="196.96" y="57.12" width="1" height="1" fill="#1228c0"/>
<rect x="172.78" y="57.43" width="1" height="1" fill="#1228c0"/>
<rect x="207.28" y="51.75" width="1" height="1" fill="#1228c0"/>
<rect x="203.35" y="50.39" width="1" height="1" fill="#1228c0"/>
<rect x="187.71" y="53.15" width="1" height="1" fill="#2240e6"/>
<rect x="189.96" y="56.79" width="1" height="1" fill="#1a30e0"/>
<rect x="197.81" y="59.52" width="1" height="1" fill="#2240e6"/>
<rect x="208.77" y="55.37" width="1" height="1" fill="#1228c0"/>
<rect x="184.64" y="50.10" width="1" height="1" fill="#2240e6"/>
<rect x="197.98" y="51.23" width="1" height="1" fill="#3a55e8"/>
<rect x="191.27" y="51.74" width="1" height="1" fill="#2240e6"/>
<rect x="191.52" y="55.06" width="1" height="1" fill="#2a48ee"/>
<rect x="188.32" y="53.82" width="1" height="1" fill="#2240e6"/>
<rect x="194.38" y="54.76" width="1" height="1" fill="#1228c0"/>
<rect x="186.87" y="56.13" width="1" height="1" fill="#1228c0"/>
<rect x="187.95" y="51.24" width="1" height="1" fill="#2a48ee"/>
<rect x="200.45" y="54.90" width="1" height="1" fill="#2240e6"/>
<rect x="188.28" y="59.38" width="1" height="1" fill="#1a30e0"/>
<rect x="187.46" y="56.49" width="1" height="1" fill="#2240e6"/>
<rect x="187.54" y="54.75" width="1" height="1" fill="#3a55e8"/>
<rect x="190.25" y="60.32" width="1" height="1" fill="#2240e6"/>
<rect x="204.18" y="55.81" width="1" height="1" fill="#2240e6"/>
<rect x="191.08" y="57.61" width="1" height="1" fill="#1228c0"/>
<rect x="205.09" y="56.01" width="1" height="1" fill="#3a55e8"/>
<rect x="196.07" y="50.79" width="1" height="1" fill="#3a55e8"/>
<rect x="195.91" y="56.60" width="1" height="1" fill="#2240e6"/>
<rect x="192.00" y="55.86" width="1" height="1" fill="#1228c0"/>
<rect x="191.08" y="56.36" width="1" height="1" fill="#3a55e8"/>
<rect x="193.04" y="56.15" width="1" height="1" fill="#1228c0"/>
<rect x="198.86" y="58.65" width="1" height="1" fill="#1a30e0"/>
<rect x="184.56" y="53.80" width="1" height="1" fill="#1a30e0"/>
<rect x="190.70" y="50.75" width="1" height="1" fill="#2240e6"/>
<rect x="198.86" y="59.72" width="1" height="1" fill="#1228c0"/>
<rect x="188.96" y="53.02" width="1" height="1" fill="#1a30e0"/>
<rect x="187.00" y="50.69" width="1" height="1" fill="#3a55e8"/>
<rect x="196.26" y="53.37" width="1" height="1" fill="#1a30e0"/>
<rect x="206.05" y="53.88" width="1" height="1" fill="#3a55e8"/>
<rect x="205.09" y="51.73" width="1" height="1" fill="#1228c0"/>
<rect x="201.68" y="56.27" width="1" height="1" fill="#2240e6"/>
<rect x="196.47" y="52.50" width="1" height="1" fill="#2a48ee"/>
<rect x="205.00" y="58.59" width="1" height="1" fill="#3a55e8"/>
<rect x="191.88" y="49.93" width="1" height="1" fill="#2240e6"/>
<rect x="193.86" y="53.08" width="1" height="1" fill="#3a55e8"/>
<rect x="206.47" y="57.83" width="1" height="1" fill="#2240e6"/>
<rect x="193.83" y="55.20" width="1" height="1" fill="#2a48ee"/>
<rect x="190.28" y="51.28" width="1" height="1" fill="#2a48ee"/>
<rect x="172.69" y="52.34" width="1" height="1" fill="#1a30e0"/>
<rect x="208.03" y="50.97" width="1" height="1" fill="#1228c0"/>
<rect x="200.75" y="52.44" width="1" height="1" fill="#1a30e0"/>
<rect x="201.52" y="50.08" width="1" height="1" fill="#2240e6"/>
<rect x="187.24" y="50.94" width="1" height="1" fill="#2a48ee"/>
<rect x="197.71" y="51.84" width="1" height="1" fill="#2240e6"/>
<rect x="208.89" y="61.92" width="1" height="1" fill="#2a48ee"/>
<rect x="190.27" y="55.32" width="1" height="1" fill="#3a55e8"/>
<rect x="193.38" y="50.06" width="1" height="1" fill="#1a30e0"/>
<rect x="190.76" y="54.10" width="1" height="1" fill="#1a30e0"/>
<rect x="188.26" y="56.17" width="1" height="1" fill="#3a55e8"/>
<rect x="196.84" y="56.42" width="1" height="1" fill="#1a30e0"/>
<rect x="199.15" y="56.18" width="1" height="1" fill="#2240e6"/>
<rect x="196.59" y="53.10" width="1" height="1" fill="#2240e6"/>
<rect x="186.64" y="51.51" width="1" height="1" fill="#2240e6"/>
<rect x="195.19" y="52.97" width="1" height="1" fill="#1a30e0"/>
<rect x="191.53" y="53.70" width="1" height="1" fill="#2a48ee"/>
<rect x="192.99" y="55.16" width="1" height="1" fill="#2a48ee"/>
<rect x="186.31" y="53.26" width="1" height="1" fill="#1a30e0"/>
<rect x="190.03" y="53.32" width="1" height="1" fill="#2a48ee"/>
<rect x="174.56" y="61.87" width="1" height="1" fill="#1228c0"/>
<rect x="203.20" y="61.27" width="1" height="1" fill="#2240e6"/>
<rect x="206.04" y="50.31" width="1" height="1" fill="#2a48ee"/>
<rect x="174.94" y="52.88" width="1" height="1" fill="#1a30e0"/>
<rect x="207.14" y="52.56" width="1" height="1" fill="#2a48ee"/>
<rect x="188.30" y="50.65" width="1" height="1" fill="#1228c0"/>
<rect x="198.44" y="52.71" width="1" height="1" fill="#2240e6"/>
<rect x="181.63" y="51.85" width="1" height="1" fill="#2a48ee"/>
<rect x="200.22" y="56.13" width="1" height="1" fill="#2240e6"/>
<rect x="208.64" y="50.83" width="1" height="1" fill="#1228c0"/>
<rect x="188.62" y="49.97" width="1" height="1" fill="#1a30e0"/>
<rect x="223.96" y="47.88" width="1" height="1" fill="#2a3ee0"/>
<rect x="230.77" y="59.48" width="1" height="1" fill="#2a3ee0"/>
<rect x="215.33" y="56.84" width="1" height="1" fill="#2a3ee0"/>
<rect x="231.67" y="55.80" width="1" height="1" fill="#2a3ee0"/>
<rect x="218.80" y="59.84" width="1" height="1" fill="#2a3ee0"/>
<rect x="216.71" y="59.28" width="1" height="1" fill="#2a3ee0"/>
<rect x="215.83" y="53.72" width="1" height="1" fill="#2a3ee0"/>
<rect x="215.80" y="58.23" width="1" height="1" fill="#2a3ee0"/>
<rect x="227.05" y="48.53" width="1" height="1" fill="#2a3ee0"/>
<rect x="219.71" y="49.05" width="1" height="1" fill="#2a3ee0"/>
<rect x="214.46" y="53.62" width="1" height="1" fill="#2a3ee0"/>
<rect x="222.23" y="61.88" width="1" height="1" fill="#2a3ee0"/>
<rect x="231.63" y="51.04" width="1" height="1" fill="#2a3ee0"/>
<rect x="225.53" y="60.31" width="1" height="1" fill="#2a3ee0"/>
<rect x="225.81" y="62.00" width="1" height="1" fill="#2a3ee0"/>
<rect x="231.85" y="50.75" width="1" height="1" fill="#2a3ee0"/>
<rect x="215.96" y="54.64" width="1" height="1" fill="#2a3ee0"/>
<rect x="219.83" y="48.41" width="1" height="1" fill="#2a3ee0"/>
<rect x="216.96" y="57.23" width="1" height="1" fill="#2a3ee0"/>
<rect x="223.21" y="61.34" width="1" height="1" fill="#2a3ee0"/>
<rect x="228.06" y="59.82" width="1" height="1" fill="#2a3ee0"/>
<rect x="227.71" y="48.50" width="1" height="1" fill="#2a3ee0"/>
<rect x="215.35" y="57.64" width="1" height="1" fill="#2a3ee0"/>
<rect x="230.84" y="52.63" width="1" height="1" fill="#2a3ee0"/>
<rect x="217.90" y="58.32" width="1" height="1" fill="#2a3ee0"/>
<rect x="221.27" y="60.89" width="1" height="1" fill="#2a3ee0"/>
<rect x="222.05" y="48.60" width="1" height="1" fill="#2a3ee0"/>
<rect x="224.58" y="60.47" width="1" height="1" fill="#2a3ee0"/>
<rect x="230.98" y="56.63" width="1" height="1" fill="#2a3ee0"/>
<rect x="231.64" y="56.56" width="1" height="1" fill="#2a3ee0"/>
<rect x="226.31" y="48.46" width="1" height="1" fill="#2a3ee0"/>
<rect x="227.71" y="59.73" width="1" height="1" fill="#2a3ee0"/>
<rect x="217.46" y="49.26" width="1" height="1" fill="#2a3ee0"/>
<rect x="220.83" y="61.55" width="1" height="1" fill="#2a3ee0"/>
<rect x="231.74" y="51.55" width="1" height="1" fill="#2a3ee0"/>
<rect x="216.90" y="50.50" width="1" height="1" fill="#2a3ee0"/>
<rect x="223.09" y="47.84" width="1" height="1" fill="#2a3ee0"/>
<rect x="230.12" y="59.24" width="1" height="1" fill="#2a3ee0"/>
<rect x="215.09" y="55.46" width="1" height="1" fill="#2a3ee0"/>
<rect x="231.38" y="59.41" width="1" height="1" fill="#2a3ee0"/>
<rect x="217.88" y="58.94" width="1" height="1" fill="#2a3ee0"/>
<rect x="214.47" y="55.79" width="1" height="1" fill="#2a3ee0"/>
<rect x="217.31" y="59.41" width="1" height="1" fill="#2a3ee0"/>
<rect x="214.70" y="52.52" width="1" height="1" fill="#2a3ee0"/>
<rect x="215.85" y="51.49" width="1" height="1" fill="#2a3ee0"/>
<rect x="222.93" y="62.10" width="1" height="1" fill="#2a3ee0"/>
<rect x="228.54" y="60.06" width="1" height="1" fill="#2a3ee0"/>
<rect x="217.20" y="51.04" width="1" height="1" fill="#2a3ee0"/>
<rect x="217.41" y="51.46" width="1" height="1" fill="#2a3ee0"/>
<rect x="228.56" y="59.76" width="1" height="1" fill="#2a3ee0"/>
<rect x="227.77" y="50.12" width="1" height="1" fill="#2a3ee0"/>
<rect x="231.30" y="55.53" width="1" height="1" fill="#2a3ee0"/>
<rect x="216.76" y="50.54" width="1" height="1" fill="#2a3ee0"/>
<rect x="226.11" y="48.02" width="1" height="1" fill="#2a3ee0"/>
<rect x="214.94" y="57.50" width="1" height="1" fill="#2a3ee0"/>
<rect x="231.32" y="59.12" width="1" height="1" fill="#2a3ee0"/>
<rect x="216.42" y="58.57" width="1" height="1" fill="#2a3ee0"/>
<rect x="227.64" y="48.59" width="1" height="1" fill="#2a3ee0"/>
<rect x="217.45" y="60.20" width="1" height="1" fill="#2a3ee0"/>
<rect x="230.05" y="57.84" width="1" height="1" fill="#2a3ee0"/>
<rect x="214.58" y="54.79" width="1" height="1" fill="#2a3ee0"/>
<rect x="227.24" y="48.97" width="1" height="1" fill="#2a3ee0"/>
<rect x="217.67" y="51.56" width="1" height="1" fill="#2a3ee0"/>
<rect x="221.26" y="61.97" width="1" height="1" fill="#2a3ee0"/>
<rect x="215.31" y="57.33" width="1" height="1" fill="#2a3ee0"/>
<rect x="219.90" y="61.63" width="1" height="1" fill="#2a3ee0"/>
<rect x="214.55" y="52.14" width="1" height="1" fill="#2a3ee0"/>
<rect x="214.86" y="53.15" width="1" height="1" fill="#2a3ee0"/>
<rect x="221.12" y="60.16" width="1" height="1" fill="#2a3ee0"/>
<rect x="230.26" y="59.01" width="1" height="1" fill="#2a3ee0"/>
<rect x="216.49" y="52.38" width="1" height="1" fill="#2a3ee0"/>
<rect x="228.79" y="48.94" width="1" height="1" fill="#2a3ee0"/>
<rect x="220.09" y="49.54" width="1" height="1" fill="#2a3ee0"/>
<rect x="217.04" y="52.49" width="1" height="1" fill="#2a3ee0"/>
<rect x="215.69" y="56.60" width="1" height="1" fill="#2a3ee0"/>
<rect x="215.03" y="52.87" width="1" height="1" fill="#2a3ee0"/>
<rect x="216.04" y="54.63" width="1" height="1" fill="#2a3ee0"/>
<rect x="215.38" y="54.32" width="1" height="1" fill="#2a3ee0"/>
<rect x="218.07" y="59.41" width="1" height="1" fill="#2a3ee0"/>
<ellipse cx="224.20" cy="55.45" rx="8.74" ry="6.25" fill="#1d36e2" filter="url(#b1)"/>
<ellipse cx="227.52" cy="54.06" rx="2.85" ry="2.43" fill="#3a9af2"/>
<ellipse cx="220.00" cy="55.45" rx="3.23" ry="4.73" fill="#3cc0f0"/>
<ellipse cx="220.00" cy="55.00" rx="2.28" ry="3.34" fill="#78d868"/>
<ellipse cx="220.00" cy="55.00" rx="1.33" ry="2.08" fill="#d8d030"/>
<rect x="15.50" y="118.50" width="71.00" height="69.00" fill="none" stroke="#f3f3f3" stroke-width="1"/>
<line x1="15.50" y1="118.50" x2="15.50" y2="187.50" stroke="#c8c8c8" stroke-width="1"/>
<line x1="15.50" y1="187.50" x2="86.50" y2="187.50" stroke="#a8a8a8" stroke-width="1"/>
<line x1="14.30" y1="174.95" x2="16.00" y2="174.95" stroke="#555" stroke-width="0.9"/>
<line x1="14.30" y1="162.41" x2="16.00" y2="162.41" stroke="#555" stroke-width="0.9"/>
<line x1="14.30" y1="149.86" x2="16.00" y2="149.86" stroke="#555" stroke-width="0.9"/>
<line x1="14.30" y1="137.32" x2="16.00" y2="137.32" stroke="#555" stroke-width="0.9"/>
<line x1="14.30" y1="124.77" x2="16.00" y2="124.77" stroke="#555" stroke-width="0.9"/>
<line x1="23.50" y1="187.00" x2="23.50" y2="188.80" stroke="#555" stroke-width="0.9"/>
<line x1="25.00" y1="189.10" x2="32.50" y2="189.10" stroke="#e2e2e2" stroke-width="1.2"/>
<line x1="37.15" y1="187.00" x2="37.15" y2="188.80" stroke="#555" stroke-width="0.9"/>
<line x1="38.65" y1="189.10" x2="46.15" y2="189.10" stroke="#e2e2e2" stroke-width="1.2"/>
<line x1="50.81" y1="187.00" x2="50.81" y2="188.80" stroke="#555" stroke-width="0.9"/>
<line x1="52.31" y1="189.10" x2="59.81" y2="189.10" stroke="#e2e2e2" stroke-width="1.2"/>
<line x1="64.46" y1="187.00" x2="64.46" y2="188.80" stroke="#555" stroke-width="0.9"/>
<line x1="65.96" y1="189.10" x2="73.46" y2="189.10" stroke="#e2e2e2" stroke-width="1.2"/>
<line x1="78.12" y1="187.00" x2="78.12" y2="188.80" stroke="#555" stroke-width="0.9"/>
<line x1="79.62" y1="189.10" x2="87.12" y2="189.10" stroke="#e2e2e2" stroke-width="1.2"/>
<polyline points="15.5,127.5 67.5,127.5 67.5,151.5 15.5,151.5" fill="none" stroke="#dca4e6" stroke-width="1"/>
<text x="26.80" y="116.00" font-size="7" fill="#222" text-anchor="start" textLength="44.20" lengthAdjust="spacingAndGlyphs" stroke="#222" stroke-width="0.2">No stimulation</text>
<text x="37.20" y="126.00" font-size="5.8" fill="#c868d4" text-anchor="start" textLength="10.40" lengthAdjust="spacingAndGlyphs" stroke="#c868d4" stroke-width="0.2">0.45</text>
<rect x="45.80" y="145.30" width="1" height="1" fill="#3a55e8"/>
<rect x="50.20" y="145.80" width="1" height="1" fill="#2a48ee"/>
<rect x="52.80" y="142.90" width="1" height="1" fill="#2a48ee"/>
<rect x="59.70" y="145.30" width="1" height="1" fill="#2a48ee"/>
<rect x="46.70" y="148.40" width="1" height="1" fill="#2240e6"/>
<rect x="65.70" y="143.30" width="1" height="1" fill="#1228c0"/>
<rect x="81.30" y="146.70" width="1" height="1" fill="#3a55e8"/>
<rect x="84.80" y="149.30" width="1" height="1" fill="#2a48ee"/>
<rect x="68.02" y="138.61" width="1" height="1" fill="#2a3ee0"/>
<rect x="71.99" y="149.76" width="1" height="1" fill="#2a3ee0"/>
<rect x="66.94" y="144.50" width="1" height="1" fill="#2a3ee0"/>
<rect x="74.70" y="136.66" width="1" height="1" fill="#2a3ee0"/>
<rect x="74.70" y="148.19" width="1" height="1" fill="#2a3ee0"/>
<rect x="75.06" y="148.36" width="1" height="1" fill="#2a3ee0"/>
<rect x="75.80" y="143.38" width="1" height="1" fill="#2a3ee0"/>
<rect x="70.54" y="136.17" width="1" height="1" fill="#2a3ee0"/>
<rect x="69.94" y="135.31" width="1" height="1" fill="#2a3ee0"/>
<rect x="68.56" y="146.57" width="1" height="1" fill="#2a3ee0"/>
<rect x="69.34" y="137.28" width="1" height="1" fill="#2a3ee0"/>
<rect x="73.00" y="136.61" width="1" height="1" fill="#2a3ee0"/>
<rect x="68.97" y="137.13" width="1" height="1" fill="#2a3ee0"/>
<rect x="67.49" y="146.59" width="1" height="1" fill="#2a3ee0"/>
<rect x="75.85" y="140.94" width="1" height="1" fill="#2a3ee0"/>
<rect x="70.17" y="136.78" width="1" height="1" fill="#2a3ee0"/>
<rect x="69.51" y="136.44" width="1" height="1" fill="#2a3ee0"/>
<rect x="75.81" y="141.75" width="1" height="1" fill="#2a3ee0"/>
<rect x="69.43" y="136.92" width="1" height="1" fill="#2a3ee0"/>
<rect x="68.38" y="146.97" width="1" height="1" fill="#2a3ee0"/>
<rect x="74.54" y="148.31" width="1" height="1" fill="#2a3ee0"/>
<rect x="69.42" y="148.95" width="1" height="1" fill="#2a3ee0"/>
<rect x="75.47" y="144.17" width="1" height="1" fill="#2a3ee0"/>
<rect x="70.19" y="137.07" width="1" height="1" fill="#2a3ee0"/>
<rect x="68.06" y="140.44" width="1" height="1" fill="#2a3ee0"/>
<rect x="68.75" y="148.72" width="1" height="1" fill="#2a3ee0"/>
<rect x="75.13" y="138.31" width="1" height="1" fill="#2a3ee0"/>
<rect x="69.51" y="149.15" width="1" height="1" fill="#2a3ee0"/>
<rect x="76.59" y="141.95" width="1" height="1" fill="#2a3ee0"/>
<rect x="73.54" y="149.39" width="1" height="1" fill="#2a3ee0"/>
<rect x="73.45" y="148.35" width="1" height="1" fill="#2a3ee0"/>
<rect x="75.20" y="138.22" width="1" height="1" fill="#2a3ee0"/>
<rect x="66.96" y="143.82" width="1" height="1" fill="#2a3ee0"/>
<rect x="67.89" y="141.77" width="1" height="1" fill="#2a3ee0"/>
<rect x="67.04" y="140.20" width="1" height="1" fill="#2a3ee0"/>
<rect x="73.64" y="135.28" width="1" height="1" fill="#2a3ee0"/>
<rect x="70.83" y="148.80" width="1" height="1" fill="#2a3ee0"/>
<rect x="73.09" y="150.43" width="1" height="1" fill="#2a3ee0"/>
<rect x="75.56" y="140.69" width="1" height="1" fill="#2a3ee0"/>
<rect x="67.53" y="144.23" width="1" height="1" fill="#2a3ee0"/>
<rect x="68.53" y="137.07" width="1" height="1" fill="#2a3ee0"/>
<rect x="75.84" y="147.22" width="1" height="1" fill="#2a3ee0"/>
<rect x="68.43" y="146.52" width="1" height="1" fill="#2a3ee0"/>
<rect x="68.14" y="138.82" width="1" height="1" fill="#2a3ee0"/>
<ellipse cx="72.25" cy="143.25" rx="4.37" ry="6.98" fill="#1d36e2" filter="url(#b1)"/>
<ellipse cx="73.91" cy="141.70" rx="1.43" ry="2.71" fill="#3a9af2"/>
<ellipse cx="72.70" cy="143.25" rx="1.62" ry="5.27" fill="#3cc0f0"/>
<ellipse cx="72.70" cy="144.60" rx="1.14" ry="3.72" fill="#78d868"/>
<ellipse cx="72.70" cy="144.60" rx="0.67" ry="2.32" fill="#d8d030"/>
<rect x="88.50" y="118.50" width="72.00" height="69.00" fill="none" stroke="#f3f3f3" stroke-width="1"/>
<line x1="88.50" y1="118.50" x2="88.50" y2="187.50" stroke="#c8c8c8" stroke-width="1"/>
<line x1="88.50" y1="187.50" x2="160.50" y2="187.50" stroke="#a8a8a8" stroke-width="1"/>
<line x1="87.30" y1="174.95" x2="89.00" y2="174.95" stroke="#555" stroke-width="0.9"/>
<line x1="87.30" y1="162.41" x2="89.00" y2="162.41" stroke="#555" stroke-width="0.9"/>
<line x1="87.30" y1="149.86" x2="89.00" y2="149.86" stroke="#555" stroke-width="0.9"/>
<line x1="87.30" y1="137.32" x2="89.00" y2="137.32" stroke="#555" stroke-width="0.9"/>
<line x1="87.30" y1="124.77" x2="89.00" y2="124.77" stroke="#555" stroke-width="0.9"/>
<line x1="96.50" y1="187.00" x2="96.50" y2="188.80" stroke="#555" stroke-width="0.9"/>
<line x1="98.00" y1="189.10" x2="105.50" y2="189.10" stroke="#e2e2e2" stroke-width="1.2"/>
<line x1="110.35" y1="187.00" x2="110.35" y2="188.80" stroke="#555" stroke-width="0.9"/>
<line x1="111.85" y1="189.10" x2="119.35" y2="189.10" stroke="#e2e2e2" stroke-width="1.2"/>
<line x1="124.19" y1="187.00" x2="124.19" y2="188.80" stroke="#555" stroke-width="0.9"/>
<line x1="125.69" y1="189.10" x2="133.19" y2="189.10" stroke="#e2e2e2" stroke-width="1.2"/>
<line x1="138.04" y1="187.00" x2="138.04" y2="188.80" stroke="#555" stroke-width="0.9"/>
<line x1="139.54" y1="189.10" x2="147.04" y2="189.10" stroke="#e2e2e2" stroke-width="1.2"/>
<line x1="151.88" y1="187.00" x2="151.88" y2="188.80" stroke="#555" stroke-width="0.9"/>
<line x1="153.38" y1="189.10" x2="160.88" y2="189.10" stroke="#e2e2e2" stroke-width="1.2"/>
<polyline points="88.5,127.5 142.5,127.5 142.5,151.5 88.5,151.5" fill="none" stroke="#dca4e6" stroke-width="1"/>
<text x="108.50" y="115.60" font-size="7" fill="#222" text-anchor="start" textLength="29.50" lengthAdjust="spacingAndGlyphs" stroke="#222" stroke-width="0.2">B27 KK10</text>
<text x="110.30" y="126.00" font-size="5.8" fill="#c868d4" text-anchor="start" textLength="11.20" lengthAdjust="spacingAndGlyphs" stroke="#c868d4" stroke-width="0.2">0.55</text>
<rect x="120.70" y="136.30" width="1" height="1" fill="#1228c0"/>
<rect x="116.30" y="139.80" width="1" height="1" fill="#3a55e8"/>
<rect x="130.20" y="138.90" width="1" height="1" fill="#3a55e8"/>
<rect x="135.40" y="138.10" width="1" height="1" fill="#1a30e0"/>
<rect x="126.70" y="144.60" width="1" height="1" fill="#2240e6"/>
<rect x="138.80" y="143.30" width="1" height="1" fill="#1228c0"/>
<rect x="139.70" y="145.30" width="1" height="1" fill="#2a48ee"/>
<rect x="154.50" y="147.00" width="1" height="1" fill="#2240e6"/>
<rect x="151.54" y="141.46" width="1" height="1" fill="#2a3ee0"/>
<rect x="152.31" y="142.22" width="1" height="1" fill="#2a3ee0"/>
<rect x="150.74" y="148.29" width="1" height="1" fill="#2a3ee0"/>
<rect x="152.05" y="143.75" width="1" height="1" fill="#2a3ee0"/>
<rect x="148.85" y="135.71" width="1" height="1" fill="#2a3ee0"/>
<rect x="142.03" y="140.35" width="1" height="1" fill="#2a3ee0"/>
<rect x="149.75" y="148.73" width="1" height="1" fill="#2a3ee0"/>
<rect x="146.54" y="149.67" width="1" height="1" fill="#2a3ee0"/>
<rect x="148.84" y="149.82" width="1" height="1" fill="#2a3ee0"/>
<rect x="142.36" y="139.33" width="1" height="1" fill="#2a3ee0"/>
<rect x="143.58" y="137.44" width="1" height="1" fill="#2a3ee0"/>
<rect x="151.61" y="139.08" width="1" height="1" fill="#2a3ee0"/>
<rect x="142.84" y="139.98" width="1" height="1" fill="#2a3ee0"/>
<rect x="151.16" y="139.73" width="1" height="1" fill="#2a3ee0"/>
<rect x="150.66" y="146.82" width="1" height="1" fill="#2a3ee0"/>
<rect x="145.54" y="135.04" width="1" height="1" fill="#2a3ee0"/>
<rect x="143.93" y="136.81" width="1" height="1" fill="#2a3ee0"/>
<rect x="151.78" y="139.79" width="1" height="1" fill="#2a3ee0"/>
<rect x="142.52" y="145.13" width="1" height="1" fill="#2a3ee0"/>
<rect x="147.27" y="135.99" width="1" height="1" fill="#2a3ee0"/>
<rect x="150.83" y="147.46" width="1" height="1" fill="#2a3ee0"/>
<rect x="148.61" y="136.58" width="1" height="1" fill="#2a3ee0"/>
<rect x="144.84" y="135.49" width="1" height="1" fill="#2a3ee0"/>
<rect x="149.97" y="147.32" width="1" height="1" fill="#2a3ee0"/>
<rect x="142.43" y="143.05" width="1" height="1" fill="#2a3ee0"/>
<rect x="152.18" y="140.21" width="1" height="1" fill="#2a3ee0"/>
<rect x="142.10" y="145.35" width="1" height="1" fill="#2a3ee0"/>
<rect x="144.07" y="138.00" width="1" height="1" fill="#2a3ee0"/>
<rect x="151.26" y="141.61" width="1" height="1" fill="#2a3ee0"/>
<rect x="151.21" y="146.00" width="1" height="1" fill="#2a3ee0"/>
<rect x="151.75" y="143.55" width="1" height="1" fill="#2a3ee0"/>
<rect x="142.40" y="146.98" width="1" height="1" fill="#2a3ee0"/>
<rect x="142.49" y="146.81" width="1" height="1" fill="#2a3ee0"/>
<rect x="147.92" y="135.54" width="1" height="1" fill="#2a3ee0"/>
<rect x="147.35" y="149.48" width="1" height="1" fill="#2a3ee0"/>
<rect x="142.35" y="143.12" width="1" height="1" fill="#2a3ee0"/>
<rect x="144.06" y="137.06" width="1" height="1" fill="#2a3ee0"/>
<rect x="144.81" y="149.37" width="1" height="1" fill="#2a3ee0"/>
<rect x="151.37" y="142.61" width="1" height="1" fill="#2a3ee0"/>
<rect x="144.91" y="147.96" width="1" height="1" fill="#2a3ee0"/>
<rect x="150.44" y="146.18" width="1" height="1" fill="#2a3ee0"/>
<rect x="142.35" y="146.40" width="1" height="1" fill="#2a3ee0"/>
<rect x="145.25" y="135.11" width="1" height="1" fill="#2a3ee0"/>
<rect x="149.56" y="136.48" width="1" height="1" fill="#2a3ee0"/>
<rect x="143.44" y="139.81" width="1" height="1" fill="#2a3ee0"/>
<rect x="143.68" y="147.19" width="1" height="1" fill="#2a3ee0"/>
<rect x="143.98" y="138.49" width="1" height="1" fill="#2a3ee0"/>
<rect x="142.53" y="140.94" width="1" height="1" fill="#2a3ee0"/>
<ellipse cx="147.50" cy="143.25" rx="4.78" ry="6.98" fill="#1d36e2" filter="url(#b1)"/>
<ellipse cx="149.32" cy="141.70" rx="1.56" ry="2.71" fill="#3a9af2"/>
<ellipse cx="145.70" cy="143.25" rx="1.77" ry="5.27" fill="#3cc0f0"/>
<ellipse cx="145.70" cy="144.60" rx="1.25" ry="3.72" fill="#78d868"/>
<ellipse cx="145.70" cy="144.60" rx="0.73" ry="2.32" fill="#d8d030"/>
<rect x="163.50" y="118.50" width="72.00" height="69.00" fill="none" stroke="#f3f3f3" stroke-width="1"/>
<line x1="163.50" y1="118.50" x2="163.50" y2="187.50" stroke="#c8c8c8" stroke-width="1"/>
<line x1="163.50" y1="187.50" x2="235.50" y2="187.50" stroke="#a8a8a8" stroke-width="1"/>
<line x1="162.30" y1="174.95" x2="164.00" y2="174.95" stroke="#555" stroke-width="0.9"/>
<line x1="162.30" y1="162.41" x2="164.00" y2="162.41" stroke="#555" stroke-width="0.9"/>
<line x1="162.30" y1="149.86" x2="164.00" y2="149.86" stroke="#555" stroke-width="0.9"/>
<line x1="162.30" y1="137.32" x2="164.00" y2="137.32" stroke="#555" stroke-width="0.9"/>
<line x1="162.30" y1="124.77" x2="164.00" y2="124.77" stroke="#555" stroke-width="0.9"/>
<line x1="171.50" y1="187.00" x2="171.50" y2="188.80" stroke="#555" stroke-width="0.9"/>
<line x1="173.00" y1="189.10" x2="180.50" y2="189.10" stroke="#e2e2e2" stroke-width="1.2"/>
<line x1="185.35" y1="187.00" x2="185.35" y2="188.80" stroke="#555" stroke-width="0.9"/>
<line x1="186.85" y1="189.10" x2="194.35" y2="189.10" stroke="#e2e2e2" stroke-width="1.2"/>
<line x1="199.19" y1="187.00" x2="199.19" y2="188.80" stroke="#555" stroke-width="0.9"/>
<line x1="200.69" y1="189.10" x2="208.19" y2="189.10" stroke="#e2e2e2" stroke-width="1.2"/>
<line x1="213.04" y1="187.00" x2="213.04" y2="188.80" stroke="#555" stroke-width="0.9"/>
<line x1="214.54" y1="189.10" x2="222.04" y2="189.10" stroke="#e2e2e2" stroke-width="1.2"/>
<line x1="226.88" y1="187.00" x2="226.88" y2="188.80" stroke="#555" stroke-width="0.9"/>
<line x1="228.38" y1="189.10" x2="235.88" y2="189.10" stroke="#e2e2e2" stroke-width="1.2"/>
<polyline points="164.5,127.5 217.5,127.5 217.5,151.5 164.5,151.5" fill="none" stroke="#dca4e6" stroke-width="1"/>
<text x="185.80" y="115.60" font-size="7" fill="#222" text-anchor="start" textLength="29.80" lengthAdjust="spacingAndGlyphs" stroke="#222" stroke-width="0.2">B27 GY10</text>
<text x="185.30" y="126.00" font-size="5.8" fill="#c868d4" text-anchor="start" textLength="11.20" lengthAdjust="spacingAndGlyphs" stroke="#c868d4" stroke-width="0.2">0.38</text>
<rect x="193.90" y="140.10" width="1" height="1" fill="#1228c0"/>
<rect x="200.00" y="143.30" width="1" height="1" fill="#1a30e0"/>
<rect x="206.00" y="139.40" width="1" height="1" fill="#1228c0"/>
<rect x="208.60" y="140.70" width="1" height="1" fill="#1a30e0"/>
<rect x="195.70" y="146.40" width="1" height="1" fill="#1228c0"/>
<rect x="214.70" y="138.10" width="1" height="1" fill="#1228c0"/>
<rect x="230.00" y="141.00" width="1" height="1" fill="#3a55e8"/>
<rect x="218.54" y="138.83" width="1" height="1" fill="#2a3ee0"/>
<rect x="217.70" y="137.94" width="1" height="1" fill="#2a3ee0"/>
<rect x="227.14" y="141.64" width="1" height="1" fill="#2a3ee0"/>
<rect x="227.09" y="144.35" width="1" height="1" fill="#2a3ee0"/>
<rect x="219.72" y="136.87" width="1" height="1" fill="#2a3ee0"/>
<rect x="226.59" y="138.73" width="1" height="1" fill="#2a3ee0"/>
<rect x="225.51" y="138.46" width="1" height="1" fill="#2a3ee0"/>
<rect x="217.90" y="139.25" width="1" height="1" fill="#2a3ee0"/>
<rect x="220.53" y="149.14" width="1" height="1" fill="#2a3ee0"/>
<rect x="218.60" y="138.00" width="1" height="1" fill="#2a3ee0"/>
<rect x="216.82" y="140.25" width="1" height="1" fill="#2a3ee0"/>
<rect x="217.11" y="139.21" width="1" height="1" fill="#2a3ee0"/>
<rect x="217.01" y="139.19" width="1" height="1" fill="#2a3ee0"/>
<rect x="226.67" y="143.46" width="1" height="1" fill="#2a3ee0"/>
<rect x="217.16" y="139.95" width="1" height="1" fill="#2a3ee0"/>
<rect x="226.88" y="140.89" width="1" height="1" fill="#2a3ee0"/>
<rect x="217.06" y="143.21" width="1" height="1" fill="#2a3ee0"/>
<rect x="217.03" y="140.77" width="1" height="1" fill="#2a3ee0"/>
<rect x="225.85" y="140.39" width="1" height="1" fill="#2a3ee0"/>
<rect x="219.73" y="148.94" width="1" height="1" fill="#2a3ee0"/>
<rect x="226.84" y="144.90" width="1" height="1" fill="#2a3ee0"/>
<rect x="226.92" y="143.60" width="1" height="1" fill="#2a3ee0"/>
<rect x="223.38" y="136.38" width="1" height="1" fill="#2a3ee0"/>
<rect x="218.76" y="146.42" width="1" height="1" fill="#2a3ee0"/>
<rect x="220.64" y="135.76" width="1" height="1" fill="#2a3ee0"/>
<rect x="218.41" y="138.34" width="1" height="1" fill="#2a3ee0"/>
<rect x="217.38" y="138.35" width="1" height="1" fill="#2a3ee0"/>
<rect x="222.98" y="134.85" width="1" height="1" fill="#2a3ee0"/>
<rect x="222.09" y="148.98" width="1" height="1" fill="#2a3ee0"/>
<rect x="218.55" y="146.46" width="1" height="1" fill="#2a3ee0"/>
<rect x="223.43" y="136.55" width="1" height="1" fill="#2a3ee0"/>
<rect x="217.17" y="139.66" width="1" height="1" fill="#2a3ee0"/>
<rect x="225.75" y="140.01" width="1" height="1" fill="#2a3ee0"/>
<rect x="221.38" y="148.88" width="1" height="1" fill="#2a3ee0"/>
<rect x="225.97" y="139.91" width="1" height="1" fill="#2a3ee0"/>
<rect x="224.52" y="136.78" width="1" height="1" fill="#2a3ee0"/>
<rect x="216.87" y="140.03" width="1" height="1" fill="#2a3ee0"/>
<rect x="226.20" y="144.75" width="1" height="1" fill="#2a3ee0"/>
<rect x="224.38" y="147.18" width="1" height="1" fill="#2a3ee0"/>
<rect x="220.32" y="148.93" width="1" height="1" fill="#2a3ee0"/>
<rect x="218.28" y="139.39" width="1" height="1" fill="#2a3ee0"/>
<rect x="223.53" y="135.88" width="1" height="1" fill="#2a3ee0"/>
<rect x="225.26" y="147.96" width="1" height="1" fill="#2a3ee0"/>
<rect x="223.89" y="136.72" width="1" height="1" fill="#2a3ee0"/>
<rect x="226.85" y="139.55" width="1" height="1" fill="#2a3ee0"/>
<ellipse cx="222.50" cy="142.75" rx="4.78" ry="6.53" fill="#1d36e2" filter="url(#b1)"/>
<ellipse cx="224.32" cy="141.30" rx="1.56" ry="2.54" fill="#3a9af2"/>
<ellipse cx="220.50" cy="142.75" rx="1.77" ry="4.93" fill="#3cc0f0"/>
<ellipse cx="220.50" cy="144.00" rx="1.25" ry="3.48" fill="#78d868"/>
<ellipse cx="220.50" cy="144.00" rx="0.73" ry="2.17" fill="#d8d030"/>
<rect x="17.50" y="201.50" width="71.00" height="71.00" fill="none" stroke="#a8a8a8" stroke-width="1"/>
<line x1="17.50" y1="201.50" x2="17.50" y2="272.50" stroke="#909090" stroke-width="1"/>
<line x1="17.50" y1="272.50" x2="88.50" y2="272.50" stroke="#a0a0a0" stroke-width="1"/>
<line x1="16.30" y1="259.59" x2="18.00" y2="259.59" stroke="#555" stroke-width="0.9"/>
<line x1="16.30" y1="246.68" x2="18.00" y2="246.68" stroke="#555" stroke-width="0.9"/>
<line x1="16.30" y1="233.77" x2="18.00" y2="233.77" stroke="#555" stroke-width="0.9"/>
<line x1="16.30" y1="220.86" x2="18.00" y2="220.86" stroke="#555" stroke-width="0.9"/>
<line x1="16.30" y1="207.95" x2="18.00" y2="207.95" stroke="#555" stroke-width="0.9"/>
<line x1="25.50" y1="272.00" x2="25.50" y2="273.80" stroke="#555" stroke-width="0.9"/>
<line x1="39.15" y1="272.00" x2="39.15" y2="273.80" stroke="#555" stroke-width="0.9"/>
<line x1="52.81" y1="272.00" x2="52.81" y2="273.80" stroke="#555" stroke-width="0.9"/>
<line x1="66.46" y1="272.00" x2="66.46" y2="273.80" stroke="#555" stroke-width="0.9"/>
<line x1="80.12" y1="272.00" x2="80.12" y2="273.80" stroke="#555" stroke-width="0.9"/>
<polyline points="19.5,212.5 73.5,212.5 73.5,236.5 19.5,236.5" fill="none" stroke="#dca4e6" stroke-width="1"/>
<text x="26.50" y="201.00" font-size="7" fill="#222" text-anchor="start" textLength="44.80" lengthAdjust="spacingAndGlyphs" stroke="#222" stroke-width="0.2">No stimulation</text>
<text x="39.30" y="210.60" font-size="5.8" fill="#c868d4" text-anchor="start" textLength="11.90" lengthAdjust="spacingAndGlyphs" stroke="#c868d4" stroke-width="0.2">0.30</text>
<rect x="21.90" y="227.00" width="1" height="1" fill="#2240e6"/>
<rect x="36.60" y="227.00" width="1" height="1" fill="#1a30e0"/>
<rect x="42.00" y="228.00" width="1" height="1" fill="#1a30e0"/>
<rect x="53.00" y="224.90" width="1" height="1" fill="#2a48ee"/>
<rect x="52.10" y="228.90" width="1" height="1" fill="#1a30e0"/>
<rect x="60.30" y="224.90" width="1" height="1" fill="#2240e6"/>
<rect x="63.00" y="225.20" width="1" height="1" fill="#1228c0"/>
<rect x="63.00" y="228.90" width="1" height="1" fill="#3a55e8"/>
<rect x="67.60" y="228.50" width="1" height="1" fill="#2a48ee"/>
<rect x="70.40" y="229.80" width="1" height="1" fill="#2240e6"/>
<rect x="69.00" y="231.50" width="1" height="1" fill="#2240e6"/>
<rect x="75.74" y="234.94" width="1" height="1" fill="#2a3ee0"/>
<rect x="75.60" y="221.62" width="1" height="1" fill="#2a3ee0"/>
<rect x="73.68" y="225.83" width="1" height="1" fill="#2a3ee0"/>
<rect x="77.60" y="235.23" width="1" height="1" fill="#2a3ee0"/>
<rect x="81.04" y="233.98" width="1" height="1" fill="#2a3ee0"/>
<rect x="80.95" y="224.41" width="1" height="1" fill="#2a3ee0"/>
<rect x="76.06" y="221.71" width="1" height="1" fill="#2a3ee0"/>
<rect x="81.28" y="233.44" width="1" height="1" fill="#2a3ee0"/>
<rect x="78.10" y="222.08" width="1" height="1" fill="#2a3ee0"/>
<rect x="81.21" y="232.05" width="1" height="1" fill="#2a3ee0"/>
<rect x="78.28" y="221.78" width="1" height="1" fill="#2a3ee0"/>
<rect x="79.32" y="222.86" width="1" height="1" fill="#2a3ee0"/>
<rect x="81.15" y="232.40" width="1" height="1" fill="#2a3ee0"/>
<rect x="80.70" y="224.25" width="1" height="1" fill="#2a3ee0"/>
<rect x="82.13" y="231.62" width="1" height="1" fill="#2a3ee0"/>
<rect x="81.76" y="232.24" width="1" height="1" fill="#2a3ee0"/>
<rect x="81.38" y="231.52" width="1" height="1" fill="#2a3ee0"/>
<rect x="74.99" y="222.03" width="1" height="1" fill="#2a3ee0"/>
<rect x="73.78" y="231.99" width="1" height="1" fill="#2a3ee0"/>
<rect x="82.01" y="229.65" width="1" height="1" fill="#2a3ee0"/>
<rect x="77.90" y="235.68" width="1" height="1" fill="#2a3ee0"/>
<rect x="76.53" y="221.30" width="1" height="1" fill="#2a3ee0"/>
<rect x="72.82" y="226.99" width="1" height="1" fill="#2a3ee0"/>
<rect x="80.79" y="233.07" width="1" height="1" fill="#2a3ee0"/>
<rect x="76.49" y="234.48" width="1" height="1" fill="#2a3ee0"/>
<rect x="77.36" y="222.25" width="1" height="1" fill="#2a3ee0"/>
<rect x="75.66" y="234.01" width="1" height="1" fill="#2a3ee0"/>
<rect x="80.84" y="223.11" width="1" height="1" fill="#2a3ee0"/>
<rect x="73.18" y="229.19" width="1" height="1" fill="#2a3ee0"/>
<rect x="82.26" y="224.82" width="1" height="1" fill="#2a3ee0"/>
<rect x="73.13" y="230.54" width="1" height="1" fill="#2a3ee0"/>
<rect x="80.46" y="223.65" width="1" height="1" fill="#2a3ee0"/>
<rect x="77.43" y="234.31" width="1" height="1" fill="#2a3ee0"/>
<rect x="72.63" y="228.31" width="1" height="1" fill="#2a3ee0"/>
<rect x="80.19" y="233.91" width="1" height="1" fill="#2a3ee0"/>
<rect x="82.28" y="228.00" width="1" height="1" fill="#2a3ee0"/>
<rect x="73.88" y="233.37" width="1" height="1" fill="#2a3ee0"/>
<rect x="81.15" y="224.32" width="1" height="1" fill="#2a3ee0"/>
<rect x="81.11" y="233.31" width="1" height="1" fill="#2a3ee0"/>
<rect x="77.34" y="220.88" width="1" height="1" fill="#2a3ee0"/>
<rect x="75.29" y="223.03" width="1" height="1" fill="#2a3ee0"/>
<rect x="73.30" y="227.81" width="1" height="1" fill="#2a3ee0"/>
<rect x="73.29" y="230.63" width="1" height="1" fill="#2a3ee0"/>
<rect x="82.07" y="224.47" width="1" height="1" fill="#2a3ee0"/>
<ellipse cx="78.15" cy="228.90" rx="4.65" ry="6.57" fill="#1d36e2" filter="url(#b1)"/>
<ellipse cx="79.92" cy="227.44" rx="1.52" ry="2.55" fill="#3a9af2"/>
<ellipse cx="77.70" cy="228.90" rx="1.72" ry="4.96" fill="#3cc0f0"/>
<ellipse cx="77.70" cy="229.20" rx="1.21" ry="3.50" fill="#78d868"/>
<ellipse cx="77.70" cy="229.20" rx="0.71" ry="2.19" fill="#d8d030"/>
<rect x="91.50" y="201.50" width="70.00" height="71.00" fill="none" stroke="#a8a8a8" stroke-width="1"/>
<line x1="91.50" y1="201.50" x2="91.50" y2="272.50" stroke="#909090" stroke-width="1"/>
<line x1="91.50" y1="272.50" x2="161.50" y2="272.50" stroke="#a0a0a0" stroke-width="1"/>
<line x1="90.30" y1="259.59" x2="92.00" y2="259.59" stroke="#555" stroke-width="0.9"/>
<line x1="90.30" y1="246.68" x2="92.00" y2="246.68" stroke="#555" stroke-width="0.9"/>
<line x1="90.30" y1="233.77" x2="92.00" y2="233.77" stroke="#555" stroke-width="0.9"/>
<line x1="90.30" y1="220.86" x2="92.00" y2="220.86" stroke="#555" stroke-width="0.9"/>
<line x1="90.30" y1="207.95" x2="92.00" y2="207.95" stroke="#555" stroke-width="0.9"/>
<line x1="99.50" y1="272.00" x2="99.50" y2="273.80" stroke="#555" stroke-width="0.9"/>
<line x1="112.96" y1="272.00" x2="112.96" y2="273.80" stroke="#555" stroke-width="0.9"/>
<line x1="126.42" y1="272.00" x2="126.42" y2="273.80" stroke="#555" stroke-width="0.9"/>
<line x1="139.88" y1="272.00" x2="139.88" y2="273.80" stroke="#555" stroke-width="0.9"/>
<line x1="153.35" y1="272.00" x2="153.35" y2="273.80" stroke="#555" stroke-width="0.9"/>
<polyline points="93.5,212.5 145.5,212.5 145.5,236.5 93.5,236.5" fill="none" stroke="#dca4e6" stroke-width="1"/>
<text x="108.50" y="200.60" font-size="7" fill="#222" text-anchor="start" textLength="29.50" lengthAdjust="spacingAndGlyphs" stroke="#222" stroke-width="0.2">B27 KK10</text>
<text x="112.00" y="211.00" font-size="5.8" fill="#c868d4" text-anchor="start" textLength="12.00" lengthAdjust="spacingAndGlyphs" stroke="#c868d4" stroke-width="0.2">0.38</text>
<rect x="131.00" y="226.50" width="1" height="1" fill="#3a55e8"/>
<rect x="133.60" y="227.40" width="1" height="1" fill="#1228c0"/>
<rect x="137.00" y="226.50" width="1" height="1" fill="#3a55e8"/>
<rect x="139.70" y="225.70" width="1" height="1" fill="#3a55e8"/>
<rect x="140.60" y="228.30" width="1" height="1" fill="#2240e6"/>
<rect x="143.00" y="227.40" width="1" height="1" fill="#2240e6"/>
<rect x="138.80" y="231.70" width="1" height="1" fill="#2a48ee"/>
<rect x="141.40" y="231.70" width="1" height="1" fill="#3a55e8"/>
<rect x="144.00" y="230.80" width="1" height="1" fill="#1a30e0"/>
<rect x="145.00" y="225.00" width="1" height="1" fill="#1228c0"/>
<rect x="150.17" y="221.92" width="1" height="1" fill="#2a3ee0"/>
<rect x="150.64" y="234.97" width="1" height="1" fill="#2a3ee0"/>
<rect x="146.91" y="228.73" width="1" height="1" fill="#2a3ee0"/>
<rect x="153.95" y="224.16" width="1" height="1" fill="#2a3ee0"/>
<rect x="155.67" y="229.52" width="1" height="1" fill="#2a3ee0"/>
<rect x="150.69" y="221.93" width="1" height="1" fill="#2a3ee0"/>
<rect x="149.83" y="223.52" width="1" height="1" fill="#2a3ee0"/>
<rect x="148.34" y="223.12" width="1" height="1" fill="#2a3ee0"/>
<rect x="149.93" y="233.99" width="1" height="1" fill="#2a3ee0"/>
<rect x="148.41" y="233.42" width="1" height="1" fill="#2a3ee0"/>
<rect x="149.73" y="222.81" width="1" height="1" fill="#2a3ee0"/>
<rect x="147.78" y="231.11" width="1" height="1" fill="#2a3ee0"/>
<rect x="151.81" y="234.54" width="1" height="1" fill="#2a3ee0"/>
<rect x="154.41" y="233.11" width="1" height="1" fill="#2a3ee0"/>
<rect x="151.53" y="221.47" width="1" height="1" fill="#2a3ee0"/>
<rect x="149.13" y="223.08" width="1" height="1" fill="#2a3ee0"/>
<rect x="148.82" y="224.25" width="1" height="1" fill="#2a3ee0"/>
<rect x="148.50" y="224.03" width="1" height="1" fill="#2a3ee0"/>
<rect x="154.97" y="228.24" width="1" height="1" fill="#2a3ee0"/>
<rect x="147.89" y="233.37" width="1" height="1" fill="#2a3ee0"/>
<rect x="150.86" y="223.18" width="1" height="1" fill="#2a3ee0"/>
<rect x="147.31" y="228.62" width="1" height="1" fill="#2a3ee0"/>
<rect x="149.00" y="222.71" width="1" height="1" fill="#2a3ee0"/>
<rect x="154.71" y="230.68" width="1" height="1" fill="#2a3ee0"/>
<rect x="154.41" y="231.37" width="1" height="1" fill="#2a3ee0"/>
<rect x="147.56" y="228.66" width="1" height="1" fill="#2a3ee0"/>
<rect x="154.35" y="224.96" width="1" height="1" fill="#2a3ee0"/>
<rect x="154.96" y="231.75" width="1" height="1" fill="#2a3ee0"/>
<rect x="152.92" y="233.74" width="1" height="1" fill="#2a3ee0"/>
<rect x="154.19" y="231.73" width="1" height="1" fill="#2a3ee0"/>
<rect x="147.11" y="227.42" width="1" height="1" fill="#2a3ee0"/>
<rect x="149.00" y="232.94" width="1" height="1" fill="#2a3ee0"/>
<rect x="149.51" y="234.17" width="1" height="1" fill="#2a3ee0"/>
<rect x="153.67" y="232.50" width="1" height="1" fill="#2a3ee0"/>
<rect x="149.29" y="234.85" width="1" height="1" fill="#2a3ee0"/>
<ellipse cx="151.75" cy="229.10" rx="3.91" ry="6.21" fill="#1d36e2" filter="url(#b1)"/>
<ellipse cx="153.24" cy="227.72" rx="1.27" ry="2.42" fill="#3a9af2"/>
<ellipse cx="151.00" cy="229.10" rx="1.45" ry="4.69" fill="#3cc0f0"/>
<ellipse cx="151.00" cy="229.60" rx="1.02" ry="3.31" fill="#78d868"/>
<ellipse cx="151.00" cy="229.60" rx="0.60" ry="2.07" fill="#d8d030"/>
<rect x="161.50" y="201.50" width="74.00" height="71.00" fill="none" stroke="#a8a8a8" stroke-width="1"/>
<line x1="161.50" y1="201.50" x2="161.50" y2="272.50" stroke="#909090" stroke-width="1"/>
<line x1="161.50" y1="272.50" x2="235.50" y2="272.50" stroke="#a0a0a0" stroke-width="1"/>
<line x1="160.30" y1="259.59" x2="162.00" y2="259.59" stroke="#555" stroke-width="0.9"/>
<line x1="160.30" y1="246.68" x2="162.00" y2="246.68" stroke="#555" stroke-width="0.9"/>
<line x1="160.30" y1="233.77" x2="162.00" y2="233.77" stroke="#555" stroke-width="0.9"/>
<line x1="160.30" y1="220.86" x2="162.00" y2="220.86" stroke="#555" stroke-width="0.9"/>
<line x1="160.30" y1="207.95" x2="162.00" y2="207.95" stroke="#555" stroke-width="0.9"/>
<line x1="169.50" y1="272.00" x2="169.50" y2="273.80" stroke="#555" stroke-width="0.9"/>
<line x1="183.73" y1="272.00" x2="183.73" y2="273.80" stroke="#555" stroke-width="0.9"/>
<line x1="197.96" y1="272.00" x2="197.96" y2="273.80" stroke="#555" stroke-width="0.9"/>
<line x1="212.19" y1="272.00" x2="212.19" y2="273.80" stroke="#555" stroke-width="0.9"/>
<line x1="226.42" y1="272.00" x2="226.42" y2="273.80" stroke="#555" stroke-width="0.9"/>
<polyline points="165.5,212.5 218.5,212.5 218.5,236.5 165.5,236.5" fill="none" stroke="#dca4e6" stroke-width="1"/>
<text x="185.80" y="201.00" font-size="7" fill="#222" text-anchor="start" textLength="29.80" lengthAdjust="spacingAndGlyphs" stroke="#222" stroke-width="0.2">B27 GY10</text>
<text x="185.80" y="211.00" font-size="5.8" fill="#c868d4" text-anchor="start" textLength="10.70" lengthAdjust="spacingAndGlyphs" stroke="#c868d4" stroke-width="0.2">0.35</text>
<rect x="181.80" y="225.70" width="1" height="1" fill="#1228c0"/>
<rect x="192.20" y="227.40" width="1" height="1" fill="#2a48ee"/>
<rect x="201.70" y="225.70" width="1" height="1" fill="#2a48ee"/>
<rect x="206.00" y="223.90" width="1" height="1" fill="#1228c0"/>
<rect x="208.60" y="224.80" width="1" height="1" fill="#2240e6"/>
<rect x="212.00" y="223.00" width="1" height="1" fill="#2a48ee"/>
<rect x="213.80" y="225.70" width="1" height="1" fill="#2240e6"/>
<rect x="215.60" y="223.90" width="1" height="1" fill="#1228c0"/>
<rect x="210.40" y="229.10" width="1" height="1" fill="#2240e6"/>
<rect x="216.40" y="230.80" width="1" height="1" fill="#2240e6"/>
<rect x="218.00" y="227.00" width="1" height="1" fill="#1228c0"/>
<rect x="228.75" y="225.63" width="1" height="1" fill="#2a3ee0"/>
<rect x="224.61" y="222.13" width="1" height="1" fill="#2a3ee0"/>
<rect x="223.41" y="220.95" width="1" height="1" fill="#2a3ee0"/>
<rect x="224.68" y="222.29" width="1" height="1" fill="#2a3ee0"/>
<rect x="223.08" y="234.30" width="1" height="1" fill="#2a3ee0"/>
<rect x="223.84" y="234.33" width="1" height="1" fill="#2a3ee0"/>
<rect x="225.93" y="221.72" width="1" height="1" fill="#2a3ee0"/>
<rect x="221.19" y="232.83" width="1" height="1" fill="#2a3ee0"/>
<rect x="222.92" y="233.37" width="1" height="1" fill="#2a3ee0"/>
<rect x="222.91" y="221.95" width="1" height="1" fill="#2a3ee0"/>
<rect x="221.71" y="223.32" width="1" height="1" fill="#2a3ee0"/>
<rect x="220.15" y="228.19" width="1" height="1" fill="#2a3ee0"/>
<rect x="225.10" y="234.24" width="1" height="1" fill="#2a3ee0"/>
<rect x="221.57" y="223.01" width="1" height="1" fill="#2a3ee0"/>
<rect x="220.46" y="229.06" width="1" height="1" fill="#2a3ee0"/>
<rect x="222.88" y="220.99" width="1" height="1" fill="#2a3ee0"/>
<rect x="228.37" y="231.88" width="1" height="1" fill="#2a3ee0"/>
<rect x="220.44" y="224.84" width="1" height="1" fill="#2a3ee0"/>
<rect x="220.68" y="224.34" width="1" height="1" fill="#2a3ee0"/>
<rect x="221.44" y="222.98" width="1" height="1" fill="#2a3ee0"/>
<rect x="220.32" y="228.24" width="1" height="1" fill="#2a3ee0"/>
<rect x="221.86" y="222.53" width="1" height="1" fill="#2a3ee0"/>
<rect x="225.59" y="235.59" width="1" height="1" fill="#2a3ee0"/>
<rect x="219.88" y="229.58" width="1" height="1" fill="#2a3ee0"/>
<rect x="222.34" y="234.65" width="1" height="1" fill="#2a3ee0"/>
<rect x="223.08" y="222.15" width="1" height="1" fill="#2a3ee0"/>
<rect x="223.00" y="222.56" width="1" height="1" fill="#2a3ee0"/>
<rect x="224.63" y="220.79" width="1" height="1" fill="#2a3ee0"/>
<rect x="221.16" y="222.91" width="1" height="1" fill="#2a3ee0"/>
<rect x="223.49" y="234.76" width="1" height="1" fill="#2a3ee0"/>
<rect x="226.27" y="235.06" width="1" height="1" fill="#2a3ee0"/>
<rect x="228.42" y="227.65" width="1" height="1" fill="#2a3ee0"/>
<rect x="228.27" y="229.05" width="1" height="1" fill="#2a3ee0"/>
<rect x="227.65" y="225.03" width="1" height="1" fill="#2a3ee0"/>
<rect x="226.85" y="233.43" width="1" height="1" fill="#2a3ee0"/>
<rect x="223.52" y="234.53" width="1" height="1" fill="#2a3ee0"/>
<rect x="220.43" y="224.09" width="1" height="1" fill="#2a3ee0"/>
<rect x="222.93" y="235.03" width="1" height="1" fill="#2a3ee0"/>
<rect x="220.70" y="231.81" width="1" height="1" fill="#2a3ee0"/>
<ellipse cx="224.90" cy="228.65" rx="4.14" ry="6.61" fill="#1d36e2" filter="url(#b1)"/>
<ellipse cx="226.47" cy="227.18" rx="1.35" ry="2.57" fill="#3a9af2"/>
<ellipse cx="224.00" cy="228.65" rx="1.53" ry="5.00" fill="#3cc0f0"/>
<ellipse cx="224.00" cy="229.00" rx="1.08" ry="3.53" fill="#78d868"/>
<ellipse cx="224.00" cy="229.00" rx="0.63" ry="2.20" fill="#d8d030"/>
<text x="5.20" y="73.80" font-size="12" fill="#222" text-anchor="start" stroke="#222" stroke-width="0.35">i</text>
<text x="3.80" y="159.40" font-size="12" fill="#222" text-anchor="start" stroke="#222" stroke-width="0.35">ii</text>
<text x="2.40" y="243.70" font-size="12.5" fill="#222" text-anchor="start" stroke="#222" stroke-width="0.35">iii</text>
<line x1="266.30" y1="20.20" x2="266.30" y2="146.20" stroke="#222" stroke-width="0.9"/>
<line x1="266.30" y1="146.20" x2="516.00" y2="146.20" stroke="#222" stroke-width="0.9"/>
<line x1="264.80" y1="146.20" x2="266.30" y2="146.20" stroke="#222" stroke-width="0.7"/>
<text x="264.30" y="147.50" font-size="3.6" fill="#333" text-anchor="end" stroke="#333" stroke-width="0.2">0</text>
<line x1="264.80" y1="121.00" x2="266.30" y2="121.00" stroke="#222" stroke-width="0.7"/>
<text x="264.30" y="122.30" font-size="3.6" fill="#333" text-anchor="end" stroke="#333" stroke-width="0.2">2</text>
<line x1="264.80" y1="95.80" x2="266.30" y2="95.80" stroke="#222" stroke-width="0.7"/>
<text x="264.30" y="97.10" font-size="3.6" fill="#333" text-anchor="end" stroke="#333" stroke-width="0.2">4</text>
<line x1="264.80" y1="70.60" x2="266.30" y2="70.60" stroke="#222" stroke-width="0.7"/>
<text x="264.30" y="71.90" font-size="3.6" fill="#333" text-anchor="end" stroke="#333" stroke-width="0.2">6</text>
<line x1="264.80" y1="45.40" x2="266.30" y2="45.40" stroke="#222" stroke-width="0.7"/>
<text x="264.30" y="46.70" font-size="3.6" fill="#333" text-anchor="end" stroke="#333" stroke-width="0.2">8</text>
<line x1="264.80" y1="20.20" x2="266.30" y2="20.20" stroke="#222" stroke-width="0.7"/>
<text x="264.30" y="21.50" font-size="3.6" fill="#333" text-anchor="end" stroke="#333" stroke-width="0.2">10</text>
<rect x="266.60" y="33.00" width="3.50" height="113.20" fill="#4c6ac0" stroke="#26304c" stroke-width="0.5"/>
<rect x="270.55" y="47.20" width="3.50" height="99.00" fill="#4c6ac0" stroke="#26304c" stroke-width="0.5"/>
<rect x="274.50" y="65.20" width="3.50" height="81.00" fill="#4c6ac0" stroke="#26304c" stroke-width="0.5"/>
<rect x="278.45" y="71.90" width="3.50" height="74.30" fill="#4c6ac0" stroke="#26304c" stroke-width="0.5"/>
<rect x="282.40" y="85.00" width="3.50" height="61.20" fill="#4c6ac0" stroke="#26304c" stroke-width="0.5"/>
<rect x="286.35" y="88.30" width="3.50" height="57.90" fill="#4c6ac0" stroke="#26304c" stroke-width="0.5"/>
<rect x="290.30" y="92.70" width="3.50" height="53.50" fill="#4c6ac0" stroke="#26304c" stroke-width="0.5"/>
<rect x="294.25" y="94.00" width="3.50" height="52.20" fill="#4c6ac0" stroke="#26304c" stroke-width="0.5"/>
<rect x="298.20" y="106.30" width="3.50" height="39.90" fill="#5c8a48" stroke="#26304c" stroke-width="0.5"/>
<rect x="302.15" y="106.90" width="3.50" height="39.30" fill="#4c6ac0" stroke="#26304c" stroke-width="0.5"/>
<rect x="306.10" y="109.80" width="3.50" height="36.40" fill="#4c6ac0" stroke="#26304c" stroke-width="0.5"/>
<rect x="310.05" y="111.00" width="3.50" height="35.20" fill="#5c8a48" stroke="#26304c" stroke-width="0.5"/>
<rect x="314.00" y="111.00" width="3.50" height="35.20" fill="#5c8a48" stroke="#26304c" stroke-width="0.5"/>
<rect x="317.95" y="116.10" width="3.50" height="30.10" fill="#5c8a48" stroke="#26304c" stroke-width="0.5"/>
<rect x="321.90" y="116.70" width="3.50" height="29.50" fill="#4c6ac0" stroke="#26304c" stroke-width="0.5"/>
<rect x="325.85" y="118.20" width="3.50" height="28.00" fill="#4c6ac0" stroke="#26304c" stroke-width="0.5"/>
<rect x="329.80" y="119.80" width="3.50" height="26.40" fill="#4c6ac0" stroke="#26304c" stroke-width="0.5"/>
<rect x="333.75" y="121.10" width="3.50" height="25.10" fill="#4c6ac0" stroke="#26304c" stroke-width="0.5"/>
<rect x="337.70" y="121.90" width="3.50" height="24.30" fill="#d67a3a" stroke="#26304c" stroke-width="0.5"/>
<rect x="341.65" y="121.90" width="3.50" height="24.30" fill="#d67a3a" stroke="#26304c" stroke-width="0.5"/>
<rect x="345.60" y="123.00" width="3.50" height="23.20" fill="#5c8a48" stroke="#26304c" stroke-width="0.5"/>
<rect x="349.55" y="123.50" width="3.50" height="22.70" fill="#5c8a48" stroke="#26304c" stroke-width="0.5"/>
<rect x="353.50" y="124.20" width="3.50" height="22.00" fill="#4c6ac0" stroke="#26304c" stroke-width="0.5"/>
<rect x="357.45" y="125.20" width="3.50" height="21.00" fill="#5c8a48" stroke="#26304c" stroke-width="0.5"/>
<rect x="361.40" y="127.00" width="3.50" height="19.20" fill="#4c6ac0" stroke="#26304c" stroke-width="0.5"/>
<rect x="365.35" y="127.90" width="3.50" height="18.30" fill="#5c8a48" stroke="#26304c" stroke-width="0.5"/>
<rect x="369.30" y="129.20" width="3.50" height="17.00" fill="#4c6ac0" stroke="#26304c" stroke-width="0.5"/>
<rect x="373.25" y="129.20" width="3.50" height="17.00" fill="#4c6ac0" stroke="#26304c" stroke-width="0.5"/>
<rect x="377.20" y="130.20" width="3.50" height="16.00" fill="#4c6ac0" stroke="#26304c" stroke-width="0.5"/>
<rect x="381.15" y="131.20" width="3.50" height="15.00" fill="#4c6ac0" stroke="#26304c" stroke-width="0.5"/>
<rect x="385.10" y="133.60" width="3.50" height="12.60" fill="#d67a3a" stroke="#26304c" stroke-width="0.5"/>
<rect x="389.05" y="133.60" width="3.50" height="12.60" fill="#4c6ac0" stroke="#26304c" stroke-width="0.5"/>
<rect x="393.00" y="133.60" width="3.50" height="12.60" fill="#d67a3a" stroke="#26304c" stroke-width="0.5"/>
<rect x="396.95" y="137.00" width="3.50" height="9.20" fill="#5c8a48" stroke="#26304c" stroke-width="0.5"/>
<rect x="400.90" y="137.30" width="3.50" height="8.90" fill="#4c6ac0" stroke="#26304c" stroke-width="0.5"/>
<rect x="404.85" y="137.70" width="3.50" height="8.50" fill="#5c8a48" stroke="#26304c" stroke-width="0.5"/>
<rect x="408.80" y="138.50" width="3.50" height="7.70" fill="#4c6ac0" stroke="#26304c" stroke-width="0.5"/>
<rect x="412.75" y="138.50" width="3.50" height="7.70" fill="#5c8a48" stroke="#26304c" stroke-width="0.5"/>
<rect x="416.70" y="138.50" width="3.50" height="7.70" fill="#d67a3a" stroke="#26304c" stroke-width="0.5"/>
<rect x="420.65" y="138.80" width="3.50" height="7.40" fill="#5c8a48" stroke="#26304c" stroke-width="0.5"/>
<rect x="424.60" y="138.80" width="3.50" height="7.40" fill="#d67a3a" stroke="#26304c" stroke-width="0.5"/>
<rect x="428.55" y="139.10" width="3.50" height="7.10" fill="#d67a3a" stroke="#26304c" stroke-width="0.5"/>
<rect x="432.50" y="139.90" width="3.50" height="6.30" fill="#5c8a48" stroke="#26304c" stroke-width="0.5"/>
<rect x="436.45" y="140.40" width="3.50" height="5.80" fill="#4c6ac0" stroke="#26304c" stroke-width="0.5"/>
<rect x="440.40" y="141.30" width="3.50" height="4.90" fill="#5b8847" stroke="#26304c" stroke-width="0.5"/>
<rect x="444.35" y="141.80" width="3.50" height="4.40" fill="#c07039" stroke="#26304c" stroke-width="0.5"/>
<rect x="448.30" y="142.30" width="3.50" height="3.90" fill="#455c9f" stroke="#26304c" stroke-width="0.5"/>
<rect x="452.25" y="142.50" width="3.50" height="3.70" fill="#4f7043" stroke="#26304c" stroke-width="0.5"/>
<rect x="456.20" y="142.70" width="3.50" height="3.50" fill="#a06239" stroke="#26304c" stroke-width="0.5"/>
<rect x="460.15" y="143.00" width="3.50" height="3.20" fill="#955d39" stroke="#26304c" stroke-width="0.5"/>
<rect x="464.10" y="143.20" width="3.50" height="3.00" fill="#496341" stroke="#26304c" stroke-width="0.5"/>
<rect x="468.05" y="143.45" width="3.50" height="2.75" fill="#855639" stroke="#26304c" stroke-width="0.5"/>
<rect x="472.00" y="143.70" width="3.50" height="2.50" fill="#44593f" stroke="#26304c" stroke-width="0.5"/>
<rect x="475.95" y="143.95" width="3.50" height="2.25" fill="#3b476f" stroke="#26304c" stroke-width="0.5"/>
<rect x="479.90" y="144.20" width="3.50" height="2.00" fill="#3f503d" stroke="#26304c" stroke-width="0.5"/>
<rect x="483.85" y="144.45" width="3.50" height="1.75" fill="#624638" stroke="#26304c" stroke-width="0.5"/>
<rect x="487.80" y="144.70" width="3.50" height="1.50" fill="#3b463c" stroke="#26304c" stroke-width="0.5"/>
<rect x="491.75" y="144.95" width="3.50" height="1.25" fill="#3b463c" stroke="#26304c" stroke-width="0.5"/>
<rect x="495.70" y="145.20" width="3.50" height="1.00" fill="#594238" stroke="#26304c" stroke-width="0.5"/>
<rect x="499.65" y="145.45" width="3.50" height="0.75" fill="#373e5a" stroke="#26304c" stroke-width="0.5"/>
<rect x="503.60" y="145.60" width="3.50" height="0.60" fill="#3b463c" stroke="#26304c" stroke-width="0.5"/>
<rect x="507.55" y="145.60" width="3.50" height="0.60" fill="#594238" stroke="#26304c" stroke-width="0.5"/>
<rect x="511.50" y="145.60" width="3.50" height="0.60" fill="#3b463c" stroke="#26304c" stroke-width="0.5"/>
<text x="266.30" y="96.00" font-size="5" fill="#222" text-anchor="start" stroke="#222" stroke-width="0.2"></text>
<text x="251.90" y="83.20" font-size="5.8" fill="#404040" text-anchor="middle" textLength="80.50" lengthAdjust="spacingAndGlyphs" transform="rotate(-90 251.90 83.20)" stroke="#404040" stroke-width="0.1">Mean proliferative responses</text>
<text x="260.10" y="83.20" font-size="5.4" fill="#404040" text-anchor="middle" textLength="68.50" lengthAdjust="spacingAndGlyphs" transform="rotate(-90 260.10 83.20)" stroke="#404040" stroke-width="0.1">(% CFSE low CD8 T cells)</text>
<text x="377.00" y="158.00" font-size="9" fill="#222" text-anchor="start" textLength="29.00" lengthAdjust="spacingAndGlyphs" stroke="#222" stroke-width="0.2">Donors</text>
<line x1="286.50" y1="203.60" x2="286.50" y2="320.80" stroke="#222" stroke-width="1"/>
<line x1="286.50" y1="320.80" x2="441.00" y2="320.80" stroke="#444" stroke-width="1"/>
<line x1="284.50" y1="320.80" x2="286.50" y2="320.80" stroke="#222" stroke-width="0.8"/>
<text x="284.50" y="323.10" font-size="6.2" fill="#444" text-anchor="end" stroke="#444" stroke-width="0.2">0</text>
<line x1="284.50" y1="291.50" x2="286.50" y2="291.50" stroke="#222" stroke-width="0.8"/>
<text x="284.50" y="293.80" font-size="6.2" fill="#444" text-anchor="end" stroke="#444" stroke-width="0.2">1</text>
<line x1="284.50" y1="262.20" x2="286.50" y2="262.20" stroke="#222" stroke-width="0.8"/>
<text x="284.50" y="264.50" font-size="6.2" fill="#444" text-anchor="end" stroke="#444" stroke-width="0.2">2</text>
<line x1="284.50" y1="232.90" x2="286.50" y2="232.90" stroke="#222" stroke-width="0.8"/>
<text x="284.50" y="235.20" font-size="6.2" fill="#444" text-anchor="end" stroke="#444" stroke-width="0.2">3</text>
<line x1="284.50" y1="203.60" x2="286.50" y2="203.60" stroke="#222" stroke-width="0.8"/>
<text x="284.50" y="205.90" font-size="6.2" fill="#444" text-anchor="end" stroke="#444" stroke-width="0.2">4</text>
<rect x="296.23" y="237.62" width="34.05" height="83.18" fill="#4a88f2" stroke="#16182a" stroke-width="1.25"/>
<line x1="312.90" y1="237.00" x2="312.90" y2="227.30" stroke="#1e1e1e" stroke-width="1.3"/>
<line x1="304.20" y1="227.30" x2="321.90" y2="227.30" stroke="#1e1e1e" stroke-width="1.56"/>
<rect x="347.43" y="299.88" width="33.85" height="20.93" fill="#e25a1c" stroke="#16182a" stroke-width="1.25"/>
<line x1="364.50" y1="299.25" x2="364.50" y2="285.00" stroke="#1e1e1e" stroke-width="1.3"/>
<line x1="355.75" y1="285.00" x2="373.75" y2="285.00" stroke="#1e1e1e" stroke-width="1.56"/>
<rect x="399.23" y="294.88" width="33.75" height="25.93" fill="#4a942a" stroke="#16182a" stroke-width="1.25"/>
<line x1="416.25" y1="294.25" x2="416.25" y2="282.50" stroke="#1e1e1e" stroke-width="1.3"/>
<line x1="407.50" y1="282.50" x2="425.00" y2="282.50" stroke="#1e1e1e" stroke-width="1.56"/>
<line x1="317.30" y1="208.80" x2="415.90" y2="208.80" stroke="#888" stroke-width="1"/>
<line x1="312.70" y1="224.30" x2="357.70" y2="224.30" stroke="#888" stroke-width="1"/>
<line x1="363.80" y1="281.30" x2="416.20" y2="281.30" stroke="#888" stroke-width="1"/>
<text x="357.70" y="204.90" font-size="8" fill="#333" text-anchor="start" textLength="31.20" lengthAdjust="spacingAndGlyphs" stroke="#333" stroke-width="0.2">p=0.002</text>
<text x="317.30" y="219.90" font-size="8" fill="#333" text-anchor="start" textLength="31.60" lengthAdjust="spacingAndGlyphs" stroke="#333" stroke-width="0.2">p=0.005</text>
<text x="381.00" y="278.30" font-size="8" fill="#333" text-anchor="start" textLength="20.00" lengthAdjust="spacingAndGlyphs" stroke="#333" stroke-width="0.2">p=ns</text>
<text x="263.00" y="259.00" font-size="8.6" fill="#333" text-anchor="middle" textLength="115.50" lengthAdjust="spacingAndGlyphs" transform="rotate(-90 263.00 259.00)" stroke="#333" stroke-width="0.2">Mean proliferative responses</text>
<text x="273.80" y="258.70" font-size="8.6" fill="#333" text-anchor="middle" textLength="96.00" lengthAdjust="spacingAndGlyphs" transform="rotate(-90 273.80 258.70)" stroke="#333" stroke-width="0.2">(% CFSE low CD8 T cells)</text>
<text x="308.30" y="329.60" font-size="7.5" font-weight="bold" fill="#222" text-anchor="start" textLength="9.70" lengthAdjust="spacingAndGlyphs" stroke="#222" stroke-width="0.28">HC</text>
<text x="360.00" y="330.00" font-size="7.5" font-weight="bold" fill="#222" text-anchor="start" textLength="9.50" lengthAdjust="spacingAndGlyphs" stroke="#222" stroke-width="0.28">CP</text>
<text x="407.00" y="330.00" font-size="7.5" font-weight="bold" fill="#222" text-anchor="start" textLength="18.00" lengthAdjust="spacingAndGlyphs" stroke="#222" stroke-width="0.28">ARTC</text>
<text x="307.70" y="341.00" font-size="7.5" font-weight="bold" fill="#222" text-anchor="start" textLength="7.70" lengthAdjust="spacingAndGlyphs" stroke="#222" stroke-width="0.28">26</text>
<text x="360.00" y="341.20" font-size="7.5" font-weight="bold" fill="#222" text-anchor="start" textLength="7.00" lengthAdjust="spacingAndGlyphs" stroke="#222" stroke-width="0.28">15</text>
<text x="414.50" y="341.20" font-size="7.5" font-weight="bold" fill="#222" text-anchor="start" textLength="6.70" lengthAdjust="spacingAndGlyphs" stroke="#222" stroke-width="0.28">23</text>
<text x="307.30" y="356.50" font-size="7.5" font-weight="bold" fill="#222" text-anchor="start" textLength="11.20" lengthAdjust="spacingAndGlyphs" stroke="#222" stroke-width="0.28">358</text>
<text x="360.00" y="356.20" font-size="7.5" font-weight="bold" fill="#222" text-anchor="start" textLength="11.20" lengthAdjust="spacingAndGlyphs" stroke="#222" stroke-width="0.28">155</text>
<text x="412.50" y="356.20" font-size="7.5" font-weight="bold" fill="#222" text-anchor="start" textLength="11.30" lengthAdjust="spacingAndGlyphs" stroke="#222" stroke-width="0.28">273</text>
<text x="260.80" y="338.30" font-size="7.5" font-weight="bold" fill="#222" text-anchor="start" textLength="21.50" lengthAdjust="spacingAndGlyphs" stroke="#222" stroke-width="0.28">Donors</text>
<text x="260.80" y="345.50" font-size="7.5" font-weight="bold" fill="#222" text-anchor="start" textLength="28.20" lengthAdjust="spacingAndGlyphs" stroke="#222" stroke-width="0.28">tested(n)</text>
<text x="260.80" y="356.30" font-size="7.5" font-weight="bold" fill="#222" text-anchor="start" textLength="38.80" lengthAdjust="spacingAndGlyphs" stroke="#222" stroke-width="0.28">Epitopes (m)</text>
<line x1="62.80" y1="326.80" x2="62.80" y2="436.80" stroke="#222" stroke-width="1"/>
<line x1="62.80" y1="436.80" x2="165.80" y2="436.80" stroke="#333" stroke-width="1"/>
<line x1="61.30" y1="436.80" x2="62.80" y2="436.80" stroke="#222" stroke-width="0.8"/>
<text x="60.60" y="439.60" font-size="6.8" fill="#444" text-anchor="end" stroke="#444" stroke-width="0.2">0</text>
<line x1="61.30" y1="400.40" x2="62.80" y2="400.40" stroke="#222" stroke-width="0.8"/>
<text x="60.60" y="403.20" font-size="6.8" fill="#444" text-anchor="end" stroke="#444" stroke-width="0.2">1</text>
<line x1="61.30" y1="364.00" x2="62.80" y2="364.00" stroke="#222" stroke-width="0.8"/>
<text x="60.60" y="366.80" font-size="6.8" fill="#444" text-anchor="end" stroke="#444" stroke-width="0.2">2</text>
<line x1="61.30" y1="327.60" x2="62.80" y2="327.60" stroke="#222" stroke-width="0.8"/>
<text x="60.60" y="330.40" font-size="6.8" fill="#444" text-anchor="end" stroke="#444" stroke-width="0.2">3</text>
<rect x="71.92" y="344.23" width="34.05" height="92.57" fill="#eaa8f2" stroke="#16182a" stroke-width="1.25"/>
<line x1="88.80" y1="343.60" x2="88.80" y2="331.80" stroke="#1e1e1e" stroke-width="1.3"/>
<line x1="80.20" y1="331.80" x2="97.70" y2="331.80" stroke="#1e1e1e" stroke-width="1.56"/>
<rect x="123.33" y="387.32" width="33.75" height="49.48" fill="#8a5c8a" stroke="#16182a" stroke-width="1.25"/>
<line x1="140.20" y1="386.70" x2="140.20" y2="377.50" stroke="#1e1e1e" stroke-width="1.3"/>
<line x1="131.40" y1="377.50" x2="148.90" y2="377.50" stroke="#1e1e1e" stroke-width="1.56"/>
<line x1="88.30" y1="328.80" x2="135.40" y2="328.80" stroke="#777" stroke-width="1"/>
<text x="97.20" y="327.30" font-size="7" fill="#444" text-anchor="start" textLength="32.30" lengthAdjust="spacingAndGlyphs" stroke="#444" stroke-width="0.2">p=0.0004</text>
<text x="81.00" y="444.20" font-size="6.5" fill="#555" text-anchor="start" textLength="19.40" lengthAdjust="spacingAndGlyphs" stroke="#555" stroke-width="0.2">n=246</text>
<text x="134.00" y="444.20" font-size="6.5" fill="#555" text-anchor="start" textLength="19.70" lengthAdjust="spacingAndGlyphs" stroke="#555" stroke-width="0.2">n=846</text>
<text x="70.80" y="454.00" font-size="8.2" font-weight="bold" fill="#222" text-anchor="start" textLength="36.30" lengthAdjust="spacingAndGlyphs" stroke="#222" stroke-width="0.28">Protective</text>
<text x="113.80" y="454.00" font-size="8.2" font-weight="bold" fill="#222" text-anchor="start" textLength="52.60" lengthAdjust="spacingAndGlyphs" stroke="#222" stroke-width="0.28">non protective</text>
<text x="39.00" y="377.90" font-size="6.4" fill="#444" text-anchor="middle" textLength="91.50" lengthAdjust="spacingAndGlyphs" transform="rotate(-90 39.00 377.90)" stroke="#444" stroke-width="0.2">Mean proliferative responses</text>
<text x="49.20" y="378.20" font-size="6.4" fill="#444" text-anchor="middle" textLength="76.50" lengthAdjust="spacingAndGlyphs" transform="rotate(-90 49.20 378.20)" stroke="#444" stroke-width="0.2">(% CFSE low CD8T cells)</text>
<line x1="62.40" y1="487.70" x2="62.40" y2="596.00" stroke="#222" stroke-width="1.1"/>
<line x1="62.40" y1="596.00" x2="183.40" y2="596.00" stroke="#333" stroke-width="1.1"/>
<line x1="60.90" y1="596.00" x2="62.40" y2="596.00" stroke="#222" stroke-width="0.8"/>
<text x="60.40" y="599.30" font-size="7" fill="#333" text-anchor="end" stroke="#333" stroke-width="0.2">0</text>
<line x1="60.90" y1="574.30" x2="62.40" y2="574.30" stroke="#222" stroke-width="0.8"/>
<text x="60.40" y="577.60" font-size="7" fill="#333" text-anchor="end" stroke="#333" stroke-width="0.2">2</text>
<line x1="60.90" y1="552.60" x2="62.40" y2="552.60" stroke="#222" stroke-width="0.8"/>
<text x="60.40" y="555.90" font-size="7" fill="#333" text-anchor="end" stroke="#333" stroke-width="0.2">4</text>
<line x1="60.90" y1="530.90" x2="62.40" y2="530.90" stroke="#222" stroke-width="0.8"/>
<text x="60.40" y="534.20" font-size="7" fill="#333" text-anchor="end" stroke="#333" stroke-width="0.2">6</text>
<line x1="60.90" y1="509.20" x2="62.40" y2="509.20" stroke="#222" stroke-width="0.8"/>
<text x="60.40" y="512.50" font-size="7" fill="#333" text-anchor="end" stroke="#333" stroke-width="0.2">8</text>
<line x1="60.90" y1="487.50" x2="62.40" y2="487.50" stroke="#222" stroke-width="0.8"/>
<text x="60.40" y="490.80" font-size="7" fill="#333" text-anchor="end" stroke="#333" stroke-width="0.2">10</text>
<rect x="72.92" y="530.23" width="39.35" height="65.77" fill="#e6a4ee" stroke="#16182a" stroke-width="1.25"/>
<line x1="92.70" y1="529.60" x2="92.70" y2="505.80" stroke="#1e1e1e" stroke-width="1.3"/>
<line x1="82.50" y1="505.80" x2="103.00" y2="505.80" stroke="#1e1e1e" stroke-width="1.56"/>
<rect x="133.32" y="593.62" width="39.65" height="2.38" fill="#5a3a5a" stroke="#16182a" stroke-width="1.25"/>
<line x1="153.30" y1="593.00" x2="153.30" y2="582.30" stroke="#1e1e1e" stroke-width="1.3"/>
<line x1="142.50" y1="582.30" x2="163.80" y2="582.30" stroke="#1e1e1e" stroke-width="1.56"/>
<line x1="91.50" y1="503.00" x2="145.20" y2="503.00" stroke="#666" stroke-width="1"/>
<text x="104.60" y="499.70" font-size="7.4" fill="#444" text-anchor="start" textLength="27.60" lengthAdjust="spacingAndGlyphs" stroke="#444" stroke-width="0.2">p=0.041</text>
<text x="83.70" y="604.00" font-size="6.5" fill="#555" text-anchor="start" textLength="18.00" lengthAdjust="spacingAndGlyphs" stroke="#555" stroke-width="0.2">n=12</text>
<text x="145.80" y="604.00" font-size="6.5" fill="#555" text-anchor="start" textLength="18.00" lengthAdjust="spacingAndGlyphs" stroke="#555" stroke-width="0.2">n=13</text>
<text x="72.30" y="613.10" font-size="8.8" font-weight="bold" fill="#222" text-anchor="start" textLength="39.20" lengthAdjust="spacingAndGlyphs" stroke="#222" stroke-width="0.28">Protective</text>
<text x="125.20" y="613.10" font-size="8.8" font-weight="bold" fill="#222" text-anchor="start" textLength="56.60" lengthAdjust="spacingAndGlyphs" stroke="#222" stroke-width="0.28">non protective</text>
<text x="37.90" y="537.90" font-size="7.0" fill="#444" text-anchor="middle" textLength="98.50" lengthAdjust="spacingAndGlyphs" transform="rotate(-90 37.90 537.90)" stroke="#444" stroke-width="0.2">Mean proliferative responses</text>
<text x="47.80" y="537.80" font-size="7.0" fill="#444" text-anchor="middle" textLength="82.50" lengthAdjust="spacingAndGlyphs" transform="rotate(-90 47.80 537.80)" stroke="#444" stroke-width="0.2">(% CFSE low CD8 T cells)</text>
<line x1="276.50" y1="407.50" x2="276.50" y2="543.20" stroke="#222" stroke-width="1"/>
<line x1="276.50" y1="543.20" x2="438.50" y2="543.20" stroke="#333" stroke-width="1"/>
<line x1="274.50" y1="543.20" x2="276.50" y2="543.20" stroke="#222" stroke-width="0.8"/>
<text x="274.70" y="546.20" font-size="5.4" fill="#444" text-anchor="end" stroke="#444" stroke-width="0.2">0</text>
<line x1="274.50" y1="498.00" x2="276.50" y2="498.00" stroke="#222" stroke-width="0.8"/>
<text x="274.70" y="501.00" font-size="5.4" fill="#444" text-anchor="end" stroke="#444" stroke-width="0.2">2</text>
<line x1="274.50" y1="452.80" x2="276.50" y2="452.80" stroke="#222" stroke-width="0.8"/>
<text x="274.70" y="455.80" font-size="5.4" fill="#444" text-anchor="end" stroke="#444" stroke-width="0.2">4</text>
<line x1="274.50" y1="407.60" x2="276.50" y2="407.60" stroke="#222" stroke-width="0.8"/>
<text x="274.70" y="410.60" font-size="5.4" fill="#444" text-anchor="end" stroke="#444" stroke-width="0.2">6</text>
<line x1="304.00" y1="543.20" x2="304.00" y2="545.20" stroke="#222" stroke-width="0.9"/>
<line x1="357.70" y1="543.20" x2="357.70" y2="545.20" stroke="#222" stroke-width="0.9"/>
<line x1="412.00" y1="543.20" x2="412.00" y2="545.20" stroke="#222" stroke-width="0.9"/>
<rect x="287.32" y="441.43" width="12.65" height="101.78" fill="#4a8ef2" stroke="#16182a" stroke-width="1.25"/>
<line x1="294.40" y1="440.80" x2="294.40" y2="426.70" stroke="#1e1e1e" stroke-width="1.3"/>
<line x1="290.60" y1="426.70" x2="297.70" y2="426.70" stroke="#1e1e1e" stroke-width="1.56"/>
<rect x="307.52" y="513.12" width="12.65" height="30.08" fill="#1c2aa6" stroke="#16182a" stroke-width="1.25"/>
<line x1="314.60" y1="512.50" x2="314.60" y2="501.50" stroke="#1e1e1e" stroke-width="1.3"/>
<line x1="311.00" y1="501.50" x2="318.00" y2="501.50" stroke="#1e1e1e" stroke-width="1.56"/>
<rect x="341.73" y="520.83" width="12.35" height="22.38" fill="#ea561c" stroke="#16182a" stroke-width="1.25"/>
<line x1="348.00" y1="520.80" x2="348.00" y2="514.60" stroke="#1e1e1e" stroke-width="1.3"/>
<line x1="344.30" y1="514.60" x2="351.90" y2="514.60" stroke="#1e1e1e" stroke-width="1.56"/>
<rect x="361.82" y="529.12" width="12.55" height="14.08" fill="#b3280a" stroke="#16182a" stroke-width="1.25"/>
<line x1="368.00" y1="528.50" x2="368.00" y2="523.20" stroke="#1e1e1e" stroke-width="1.3"/>
<line x1="364.60" y1="523.20" x2="371.50" y2="523.20" stroke="#1e1e1e" stroke-width="1.56"/>
<rect x="395.93" y="523.33" width="12.35" height="19.88" fill="#7fe040" stroke="#16182a" stroke-width="1.25"/>
<line x1="402.00" y1="522.70" x2="402.00" y2="516.50" stroke="#1e1e1e" stroke-width="1.3"/>
<line x1="398.50" y1="516.50" x2="405.70" y2="516.50" stroke="#1e1e1e" stroke-width="1.56"/>
<rect x="416.02" y="523.33" width="12.55" height="19.88" fill="#4a9a2a" stroke="#16182a" stroke-width="1.25"/>
<line x1="422.30" y1="522.70" x2="422.30" y2="518.00" stroke="#1e1e1e" stroke-width="1.3"/>
<line x1="418.80" y1="518.00" x2="425.80" y2="518.00" stroke="#1e1e1e" stroke-width="1.56"/>
<line x1="292.90" y1="424.40" x2="318.80" y2="424.40" stroke="#555" stroke-width="1"/>
<line x1="347.30" y1="511.60" x2="372.70" y2="511.60" stroke="#555" stroke-width="1"/>
<line x1="400.40" y1="514.20" x2="425.80" y2="514.20" stroke="#555" stroke-width="1"/>
<text x="289.60" y="420.90" font-size="9.2" fill="#222" text-anchor="start" textLength="33.80" lengthAdjust="spacingAndGlyphs" stroke="#222" stroke-width="0.2">p=0.001</text>
<text x="350.80" y="508.10" font-size="8" fill="#333" text-anchor="start" textLength="20.70" lengthAdjust="spacingAndGlyphs" stroke="#333" stroke-width="0.2">p=ns</text>
<text x="401.50" y="509.90" font-size="8" fill="#333" text-anchor="start" textLength="20.30" lengthAdjust="spacingAndGlyphs" stroke="#333" stroke-width="0.2">p=ns</text>
<text x="289.60" y="549.80" font-size="6" fill="#444" text-anchor="start" textLength="3.10" lengthAdjust="spacingAndGlyphs" stroke="#444" stroke-width="0.2">p</text>
<text x="310.90" y="550.60" font-size="6" fill="#444" text-anchor="start" textLength="8.50" lengthAdjust="spacingAndGlyphs" stroke="#444" stroke-width="0.2">NP</text>
<text x="345.70" y="549.80" font-size="6" fill="#444" text-anchor="start" textLength="3.30" lengthAdjust="spacingAndGlyphs" stroke="#444" stroke-width="0.2">p</text>
<text x="366.50" y="550.60" font-size="6" fill="#444" text-anchor="start" textLength="7.70" lengthAdjust="spacingAndGlyphs" stroke="#444" stroke-width="0.2">NP</text>
<text x="400.40" y="549.80" font-size="6" fill="#444" text-anchor="start" textLength="3.40" lengthAdjust="spacingAndGlyphs" stroke="#444" stroke-width="0.2">p</text>
<text x="421.00" y="550.60" font-size="6" fill="#444" text-anchor="start" textLength="8.40" lengthAdjust="spacingAndGlyphs" stroke="#444" stroke-width="0.2">NP</text>
<text x="298.70" y="560.80" font-size="8.6" font-weight="bold" fill="#111" text-anchor="start" textLength="10.50" lengthAdjust="spacingAndGlyphs" stroke="#111" stroke-width="0.28">HC</text>
<text x="353.00" y="560.80" font-size="8.6" font-weight="bold" fill="#111" text-anchor="start" textLength="9.30" lengthAdjust="spacingAndGlyphs" stroke="#111" stroke-width="0.28">CP</text>
<text x="401.50" y="560.80" font-size="8.6" font-weight="bold" fill="#111" text-anchor="start" textLength="20.80" lengthAdjust="spacingAndGlyphs" stroke="#111" stroke-width="0.28">ARTC</text>
<text x="250.70" y="473.30" font-size="8.8" fill="#333" text-anchor="middle" textLength="126.50" lengthAdjust="spacingAndGlyphs" transform="rotate(-90 250.70 473.30)" stroke="#333" stroke-width="0.2">Mean proliferative responses</text>
<text x="262.10" y="473.20" font-size="8.8" fill="#333" text-anchor="middle" textLength="101.50" lengthAdjust="spacingAndGlyphs" transform="rotate(-90 262.10 473.20)" stroke="#333" stroke-width="0.2">(% CFSE low CD8 T cells)</text>
</svg></body></html>
